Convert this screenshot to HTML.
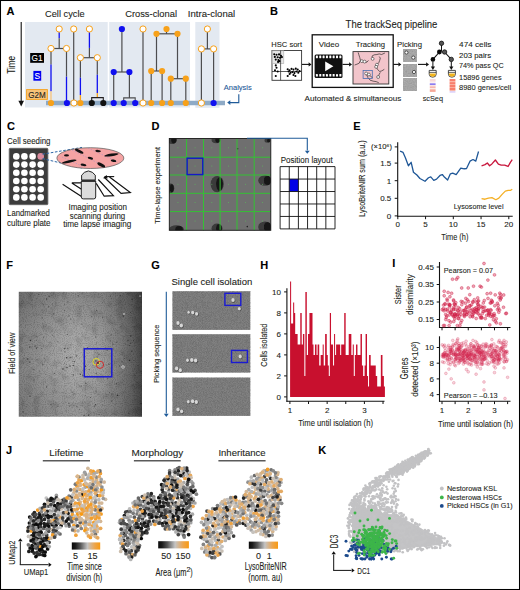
<!DOCTYPE html>
<html><head><meta charset="utf-8"><style>
html,body{margin:0;padding:0;background:#fff;}
body{width:520px;height:590px;overflow:hidden;}
svg{display:block;font-family:"Liberation Sans", sans-serif;}
text{stroke:currentColor;stroke-width:0.1px;paint-order:stroke;}
</style></head><body>
<svg width="520" height="590" viewBox="0 0 520 590">
<defs><filter id="noiseB" x="0" y="0" width="100%" height="100%" color-interpolation-filters="sRGB"><feTurbulence type="fractalNoise" baseFrequency="0.9" numOctaves="2" seed="4"/><feColorMatrix type="saturate" values="0"/><feComponentTransfer><feFuncR type="linear" slope="0.16" intercept="0.57"/><feFuncG type="linear" slope="0.16" intercept="0.57"/><feFuncB type="linear" slope="0.16" intercept="0.57"/><feFuncA type="linear" slope="0" intercept="1"/></feComponentTransfer></filter><clipPath id="clipD"><rect x="169.3" y="138.5" width="101.5" height="91.8"/></clipPath><filter id="blurD" x="-50%" y="-50%" width="200%" height="200%"><feGaussianBlur stdDeviation="0.7"/></filter><linearGradient id="gF" x1="0" y1="0" x2="1" y2="0"><stop offset="0" stop-color="#828282"/><stop offset="0.25" stop-color="#9a9a9a"/><stop offset="0.45" stop-color="#a6a6a6"/><stop offset="0.65" stop-color="#9c9c9c"/><stop offset="0.8" stop-color="#838383"/><stop offset="0.92" stop-color="#646464"/><stop offset="1" stop-color="#474747"/></linearGradient><linearGradient id="gF2" x1="0" y1="0" x2="0" y2="1"><stop offset="0" stop-color="#000" stop-opacity="0.17"/><stop offset="0.3" stop-color="#000" stop-opacity="0.03"/><stop offset="0.6" stop-color="#000" stop-opacity="0"/><stop offset="1" stop-color="#000" stop-opacity="0.1"/></linearGradient><radialGradient id="gF3" gradientUnits="userSpaceOnUse" cx="80" cy="355" r="40"><stop offset="0" stop-color="#fff" stop-opacity="0.1"/><stop offset="1" stop-color="#fff" stop-opacity="0"/></radialGradient><filter id="noiseF" x="0" y="0" width="100%" height="100%"><feTurbulence type="fractalNoise" baseFrequency="0.9" numOctaves="1" seed="7"/><feColorMatrix type="matrix" values="0 0 0 0 0  0 0 0 0 0  0 0 0 0 0  0 0 0 -1.6 0.9"/></filter><filter id="noiseF2" x="0" y="0" width="100%" height="100%"><feTurbulence type="fractalNoise" baseFrequency="0.12" numOctaves="2" seed="3"/><feColorMatrix type="matrix" values="0 0 0 0 0  0 0 0 0 0  0 0 0 0 0  0 0 0 -2.2 1.15"/></filter><clipPath id="clipF"><rect x="18.75" y="291.75" width="123.25" height="125"/></clipPath><filter id="noiseG" x="0" y="0" width="100%" height="100%"><feTurbulence type="fractalNoise" baseFrequency="1.2" numOctaves="1" seed="2"/><feColorMatrix type="matrix" values="0 0 0 0 0  0 0 0 0 0  0 0 0 0 0  0 0 0 -1.5 0.95"/></filter><linearGradient id="cbar" x1="0" y1="0" x2="1" y2="0"><stop offset="0" stop-color="#0a0a0a"/><stop offset="0.12" stop-color="#1a1a1a"/><stop offset="0.3" stop-color="#555"/><stop offset="0.45" stop-color="#999"/><stop offset="0.55" stop-color="#c4c4c4"/><stop offset="0.68" stop-color="#d8b48a"/><stop offset="0.82" stop-color="#eea447"/><stop offset="1" stop-color="#f89a12"/></linearGradient></defs>
<rect x="0" y="0" width="520" height="590" fill="#fff"/>
<text x="6.50" y="15.00" font-size="11" font-weight="bold" fill="#000" color="#000" >A</text>
<rect x="25.00" y="22.00" width="82.70" height="85.50" fill="#e3e9f1" />
<rect x="109.20" y="22.00" width="80.80" height="85.50" fill="#e3e9f1" />
<rect x="195.30" y="22.00" width="24.20" height="85.80" fill="#e3e9f1" />
<text x="45.00" y="17.30" font-size="9.5" fill="#231f20" color="#231f20" textLength="39.60" lengthAdjust="spacingAndGlyphs" >Cell cycle</text>
<text x="125.20" y="17.30" font-size="9.5" fill="#231f20" color="#231f20" textLength="51.80" lengthAdjust="spacingAndGlyphs" >Cross-clonal</text>
<text x="187.80" y="17.30" font-size="9.5" fill="#231f20" color="#231f20" textLength="47.40" lengthAdjust="spacingAndGlyphs" >Intra-clonal</text>
<line x1="21.20" y1="22.00" x2="21.20" y2="101.50" stroke="#111" stroke-width="1.1" />
<path d="M21.2,106.4 L18.4,100.8 L24.0,100.8 Z" fill="#111" />
<text x="15.50" y="64.90" font-size="10.5" text-anchor="middle" fill="#231f20" color="#231f20" textLength="17.75" lengthAdjust="spacingAndGlyphs" transform="rotate(-90 15.50 64.90)" >Time</text>
<rect x="30.20" y="53.00" width="13.80" height="9.80" fill="#000" />
<text x="37.10" y="61.30" font-size="9" text-anchor="middle" fill="#fff" color="#fff" textLength="11.00" lengthAdjust="spacingAndGlyphs" >G1</text>
<rect x="33.40" y="70.90" width="7.80" height="9.80" fill="#0000f0" />
<text x="37.30" y="79.10" font-size="9" text-anchor="middle" fill="#fff" color="#fff" textLength="5.60" lengthAdjust="spacingAndGlyphs" >S</text>
<rect x="26.60" y="89.60" width="20.80" height="9.80" fill="#f7c47a" stroke="#f7a11a" stroke-width="0.9" />
<text x="37.00" y="97.90" font-size="8.6" text-anchor="middle" fill="#231f20" color="#231f20" textLength="17.50" lengthAdjust="spacingAndGlyphs" >G2M</text>
<line x1="46.00" y1="103.00" x2="225.00" y2="103.00" stroke="#8eaac6" stroke-width="4.3" />
<text x="223.80" y="89.50" font-size="8" fill="#1f5b99" color="#1f5b99" textLength="28.00" lengthAdjust="spacingAndGlyphs" >Analysis</text>
<path d="M238.8,94.2 L238.8,102.6 L230,102.6" fill="none" stroke="#1f5b99" stroke-width="1.1" />
<path d="M227.2,102.6 L230.32,100.19999999999999 L230.32,105.0 Z" fill="#1f5b99" />
<line x1="59.20" y1="29.00" x2="59.20" y2="32.50" stroke="#4d4d4f" stroke-width="1.2" />
<line x1="59.20" y1="32.50" x2="59.20" y2="38.30" stroke="#1010f0" stroke-width="1.3" />
<line x1="59.20" y1="38.30" x2="59.20" y2="48.50" stroke="#4d4d4f" stroke-width="1.2" />
<line x1="51.00" y1="48.50" x2="66.50" y2="48.50" stroke="#4d4d4f" stroke-width="1.2" />
<line x1="51.00" y1="48.50" x2="51.00" y2="64.60" stroke="#4d4d4f" stroke-width="1.2" />
<line x1="51.00" y1="64.60" x2="51.00" y2="91.20" stroke="#1010f0" stroke-width="1.3" />
<line x1="51.00" y1="91.20" x2="51.00" y2="100.00" stroke="#f7c47a" stroke-width="1.3" />
<line x1="66.50" y1="48.50" x2="66.50" y2="76.70" stroke="#4d4d4f" stroke-width="1.2" />
<line x1="66.50" y1="76.70" x2="66.50" y2="100.80" stroke="#1010f0" stroke-width="1.3" />
<line x1="73.70" y1="29.00" x2="73.70" y2="103.00" stroke="#4d4d4f" stroke-width="1.2" />
<line x1="89.40" y1="29.00" x2="89.40" y2="32.50" stroke="#4d4d4f" stroke-width="1.2" />
<line x1="89.40" y1="32.50" x2="89.40" y2="47.90" stroke="#1010f0" stroke-width="1.3" />
<line x1="89.40" y1="47.90" x2="89.40" y2="57.70" stroke="#4d4d4f" stroke-width="1.2" />
<line x1="80.40" y1="57.70" x2="97.30" y2="57.70" stroke="#4d4d4f" stroke-width="1.2" />
<line x1="80.40" y1="57.70" x2="80.40" y2="77.70" stroke="#4d4d4f" stroke-width="1.2" />
<line x1="80.40" y1="77.70" x2="80.40" y2="95.00" stroke="#1010f0" stroke-width="1.3" />
<line x1="80.40" y1="95.00" x2="80.40" y2="100.80" stroke="#f7a11a" stroke-width="1.3" />
<line x1="97.30" y1="57.70" x2="97.30" y2="74.80" stroke="#4d4d4f" stroke-width="1.2" />
<line x1="97.30" y1="74.80" x2="97.30" y2="93.00" stroke="#1010f0" stroke-width="1.3" />
<line x1="97.30" y1="93.00" x2="97.30" y2="97.60" stroke="#f7a11a" stroke-width="1.3" />
<path d="M91.7,103 L91.7,97.6 L103.3,97.6 L103.3,103" fill="none" stroke="#231f20" stroke-width="1.1" />
<circle cx="59.20" cy="29.00" r="3.1" fill="#fff" stroke="#f7a11a" stroke-width="1.0" />
<circle cx="73.70" cy="29.00" r="3.1" fill="#fff" stroke="#f7a11a" stroke-width="1.0" />
<circle cx="89.40" cy="29.00" r="3.1" fill="#fff" stroke="#f7a11a" stroke-width="1.0" />
<circle cx="51.00" cy="48.50" r="3.1" fill="#fff" stroke="#f7a11a" stroke-width="1.0" />
<circle cx="66.50" cy="48.50" r="3.1" fill="#fff" stroke="#f7a11a" stroke-width="1.0" />
<circle cx="80.40" cy="57.70" r="3.1" fill="#fff" stroke="#f7a11a" stroke-width="1.0" />
<circle cx="97.30" cy="57.70" r="3.1" fill="#fff" stroke="#f7a11a" stroke-width="1.0" />
<circle cx="51.00" cy="103.00" r="3.1" fill="#f7a11a" />
<circle cx="66.90" cy="103.00" r="3.1" fill="#1010f0" />
<circle cx="73.90" cy="103.00" r="3.1" fill="#fff" stroke="#f7a11a" stroke-width="1.0" />
<circle cx="80.40" cy="103.00" r="3.1" fill="#f7a11a" />
<circle cx="91.80" cy="103.00" r="3.1" fill="#111111" />
<circle cx="103.30" cy="103.00" r="3.1" fill="#111111" />
<line x1="121.90" y1="29.00" x2="121.90" y2="72.00" stroke="#4d4d4f" stroke-width="1.2" />
<line x1="113.70" y1="72.00" x2="129.40" y2="72.00" stroke="#4d4d4f" stroke-width="1.2" />
<line x1="113.70" y1="72.00" x2="113.70" y2="103.00" stroke="#4d4d4f" stroke-width="1.2" />
<line x1="129.40" y1="72.00" x2="129.40" y2="97.90" stroke="#4d4d4f" stroke-width="1.2" />
<path d="M123.7,103 L123.7,97.9 L135.2,97.9 L135.2,103" fill="none" stroke="#4d4d4f" stroke-width="1.1" />
<circle cx="121.90" cy="29.00" r="3.1" fill="#1010f0" />
<circle cx="113.70" cy="72.00" r="3.1" fill="#1010f0" />
<circle cx="129.40" cy="72.00" r="3.1" fill="#1010f0" />
<circle cx="113.70" cy="103.00" r="3.1" fill="#1010f0" />
<circle cx="123.70" cy="103.00" r="3.1" fill="#1010f0" />
<circle cx="135.20" cy="103.00" r="3.1" fill="#1010f0" />
<line x1="143.00" y1="29.00" x2="143.00" y2="103.00" stroke="#4d4d4f" stroke-width="1.2" />
<circle cx="143.00" cy="29.00" r="3.1" fill="#fff" stroke="#f7a11a" stroke-width="1.0" />
<circle cx="143.00" cy="103.00" r="3.1" fill="#fff" stroke="#f7a11a" stroke-width="1.0" />
<line x1="166.50" y1="29.00" x2="166.50" y2="33.80" stroke="#4d4d4f" stroke-width="1.2" />
<line x1="156.50" y1="33.80" x2="177.50" y2="33.80" stroke="#4d4d4f" stroke-width="1.2" />
<line x1="156.50" y1="33.80" x2="156.50" y2="71.00" stroke="#4d4d4f" stroke-width="1.2" />
<line x1="151.20" y1="71.00" x2="162.10" y2="71.00" stroke="#4d4d4f" stroke-width="1.2" />
<line x1="151.20" y1="71.00" x2="151.20" y2="103.00" stroke="#4d4d4f" stroke-width="1.2" />
<line x1="162.10" y1="71.00" x2="162.10" y2="103.00" stroke="#4d4d4f" stroke-width="1.2" />
<line x1="177.50" y1="33.80" x2="177.50" y2="78.70" stroke="#4d4d4f" stroke-width="1.2" />
<line x1="170.80" y1="78.70" x2="185.80" y2="78.70" stroke="#4d4d4f" stroke-width="1.2" />
<line x1="170.80" y1="78.70" x2="170.80" y2="103.00" stroke="#4d4d4f" stroke-width="1.2" />
<line x1="185.80" y1="78.70" x2="185.80" y2="103.00" stroke="#4d4d4f" stroke-width="1.2" />
<circle cx="166.50" cy="29.00" r="3.1" fill="#f7a11a" />
<circle cx="156.50" cy="33.80" r="3.1" fill="#f7a11a" />
<circle cx="177.50" cy="33.80" r="3.1" fill="#f7a11a" />
<circle cx="151.20" cy="71.00" r="3.1" fill="#f7a11a" />
<circle cx="162.10" cy="71.00" r="3.1" fill="#f7a11a" />
<circle cx="170.80" cy="78.70" r="3.1" fill="#f7a11a" />
<circle cx="185.80" cy="78.70" r="3.1" fill="#f7a11a" />
<circle cx="151.20" cy="103.00" r="3.1" fill="#f7a11a" />
<circle cx="162.10" cy="103.00" r="3.1" fill="#f7a11a" />
<circle cx="170.80" cy="103.00" r="3.1" fill="#f7a11a" />
<circle cx="185.80" cy="103.00" r="3.1" fill="#f7a11a" />
<line x1="207.40" y1="29.00" x2="207.40" y2="48.90" stroke="#4d4d4f" stroke-width="1.2" />
<line x1="201.40" y1="48.90" x2="213.60" y2="48.90" stroke="#4d4d4f" stroke-width="1.2" />
<line x1="201.40" y1="48.90" x2="201.40" y2="103.00" stroke="#4d4d4f" stroke-width="1.2" />
<line x1="213.60" y1="48.90" x2="213.60" y2="103.00" stroke="#4d4d4f" stroke-width="1.2" />
<circle cx="207.40" cy="29.00" r="3.1" fill="#fff" stroke="#f7a11a" stroke-width="1.0" />
<circle cx="201.40" cy="48.90" r="3.1" fill="#fff" stroke="#f7a11a" stroke-width="1.0" />
<circle cx="213.60" cy="48.90" r="3.1" fill="#fff" stroke="#f7a11a" stroke-width="1.0" />
<circle cx="201.40" cy="103.00" r="3.1" fill="#fff" stroke="#f7a11a" stroke-width="1.0" />
<circle cx="213.60" cy="103.00" r="3.1" fill="#1010f0" />
<text x="270.00" y="15.00" font-size="11" font-weight="bold" fill="#000" color="#000" >B</text>
<text x="345.60" y="27.90" font-size="10" fill="#231f20" color="#231f20" textLength="91.70" lengthAdjust="spacingAndGlyphs" >The trackSeq pipeline</text>
<text x="271.30" y="46.50" font-size="8" fill="#231f20" color="#231f20" textLength="30.70" lengthAdjust="spacingAndGlyphs" >HSC sort</text>
<rect x="272.00" y="50.50" width="29.60" height="29.80" fill="#fff" stroke="#333" stroke-width="0.9" />
<rect x="272.30" y="50.80" width="11.50" height="12.70" fill="#e6e6e6" stroke="#aaa" stroke-width="0.6" />
<line x1="280.60" y1="50.50" x2="280.60" y2="80.30" stroke="#333" stroke-width="0.8" />
<line x1="272.00" y1="71.50" x2="301.60" y2="71.50" stroke="#333" stroke-width="0.8" />
<circle cx="274.23" cy="54.23" r="1.05" fill="#000" />
<circle cx="276.54" cy="54.81" r="1.05" fill="#000" />
<circle cx="279.04" cy="54.42" r="1.05" fill="#000" />
<circle cx="280.96" cy="55.77" r="1.05" fill="#000" />
<circle cx="274.81" cy="56.92" r="1.05" fill="#000" />
<circle cx="277.69" cy="57.31" r="1.05" fill="#000" />
<circle cx="280.00" cy="57.69" r="1.05" fill="#000" />
<circle cx="281.92" cy="57.12" r="1.05" fill="#000" />
<circle cx="275.77" cy="59.62" r="1.05" fill="#000" />
<circle cx="278.46" cy="60.00" r="1.05" fill="#000" />
<circle cx="278.08" cy="61.92" r="1.05" fill="#000" />
<circle cx="279.42" cy="61.15" r="1.05" fill="#000" />
<circle cx="275.77" cy="65.38" r="1.05" fill="#000" />
<circle cx="276.54" cy="67.69" r="1.05" fill="#000" />
<circle cx="275.00" cy="70.19" r="1.05" fill="#000" />
<circle cx="277.69" cy="71.54" r="1.05" fill="#000" />
<circle cx="275.77" cy="75.96" r="1.05" fill="#000" />
<circle cx="287.69" cy="69.23" r="1.05" fill="#000" />
<circle cx="289.62" cy="70.19" r="1.05" fill="#000" />
<circle cx="291.54" cy="68.85" r="1.05" fill="#000" />
<circle cx="293.46" cy="69.62" r="1.05" fill="#000" />
<circle cx="295.77" cy="68.65" r="1.05" fill="#000" />
<circle cx="297.69" cy="69.62" r="1.05" fill="#000" />
<circle cx="288.65" cy="71.54" r="1.05" fill="#000" />
<circle cx="290.58" cy="72.69" r="1.05" fill="#000" />
<circle cx="292.50" cy="72.12" r="1.05" fill="#000" />
<circle cx="294.42" cy="73.08" r="1.05" fill="#000" />
<circle cx="296.35" cy="71.54" r="1.05" fill="#000" />
<circle cx="298.27" cy="72.69" r="1.05" fill="#000" />
<circle cx="289.62" cy="74.04" r="1.05" fill="#000" />
<circle cx="293.46" cy="75.00" r="1.05" fill="#000" />
<circle cx="287.69" cy="75.96" r="1.05" fill="#000" />
<circle cx="295.38" cy="75.96" r="1.05" fill="#000" />
<circle cx="299.62" cy="71.15" r="1.05" fill="#000" />
<line x1="302.00" y1="64.40" x2="309.00" y2="64.40" stroke="#111" stroke-width="1.1" />
<path d="M311.5,64.4 L308.64,62.2 L308.64,66.60000000000001 Z" fill="#111" />
<rect x="312.20" y="34.80" width="81.00" height="52.60" fill="none" stroke="#111" stroke-width="1.3" />
<text x="318.80" y="46.50" font-size="8" fill="#231f20" color="#231f20" textLength="20.40" lengthAdjust="spacingAndGlyphs" >Video</text>
<rect x="314.60" y="54.40" width="27.90" height="23.50" fill="#111" rx="1.5"/>
<rect x="315.90" y="55.60" width="2.00" height="2.60" fill="#fff" rx="0.4"/>
<rect x="315.90" y="74.00" width="2.00" height="2.60" fill="#fff" rx="0.4"/>
<rect x="319.25" y="55.60" width="2.00" height="2.60" fill="#fff" rx="0.4"/>
<rect x="319.25" y="74.00" width="2.00" height="2.60" fill="#fff" rx="0.4"/>
<rect x="322.60" y="55.60" width="2.00" height="2.60" fill="#fff" rx="0.4"/>
<rect x="322.60" y="74.00" width="2.00" height="2.60" fill="#fff" rx="0.4"/>
<rect x="325.95" y="55.60" width="2.00" height="2.60" fill="#fff" rx="0.4"/>
<rect x="325.95" y="74.00" width="2.00" height="2.60" fill="#fff" rx="0.4"/>
<rect x="329.30" y="55.60" width="2.00" height="2.60" fill="#fff" rx="0.4"/>
<rect x="329.30" y="74.00" width="2.00" height="2.60" fill="#fff" rx="0.4"/>
<rect x="332.65" y="55.60" width="2.00" height="2.60" fill="#fff" rx="0.4"/>
<rect x="332.65" y="74.00" width="2.00" height="2.60" fill="#fff" rx="0.4"/>
<rect x="336.00" y="55.60" width="2.00" height="2.60" fill="#fff" rx="0.4"/>
<rect x="336.00" y="74.00" width="2.00" height="2.60" fill="#fff" rx="0.4"/>
<rect x="339.35" y="55.60" width="2.00" height="2.60" fill="#fff" rx="0.4"/>
<rect x="339.35" y="74.00" width="2.00" height="2.60" fill="#fff" rx="0.4"/>
<path d="M325.2,61.4 L325.2,71.2 L333.4,66.3 Z" fill="#fff" />
<line x1="342.50" y1="64.40" x2="349.50" y2="64.40" stroke="#111" stroke-width="1.1" />
<path d="M352,64.4 L349.14,62.2 L349.14,66.60000000000001 Z" fill="#111" />
<text x="355.80" y="46.50" font-size="8" fill="#231f20" color="#231f20" textLength="29.20" lengthAdjust="spacingAndGlyphs" >Tracking</text>
<rect x="353.00" y="51.60" width="35.80" height="32.40" fill="#f2c5cb" stroke="#333" stroke-width="0.9" />
<path d="M354.62,65.00 L356.92,64.23 L359.23,63.15 L360.46,60.38 L359.69,57.31 L358.77,54.54 L358.15,52.38" fill="none" stroke="#222" stroke-width="0.65" />
<path d="M364.62,61.62 L366.92,62.23 L368.46,60.38" fill="none" stroke="#222" stroke-width="0.65" />
<path d="M372.62,58.85 L372.00,56.08 L374.15,54.85 L376.92,54.54 L379.23,53.92 L381.54,54.54 L384.92,53.00" fill="none" stroke="#222" stroke-width="0.65" />
<path d="M376.92,64.69 L378.77,62.69 L379.69,60.38 L380.31,58.08 L379.23,56.54" fill="none" stroke="#222" stroke-width="0.65" />
<path d="M376.15,66.85 L377.69,69.62 L379.69,71.46 L381.85,70.85 L384.31,69.31" fill="none" stroke="#222" stroke-width="0.65" />
<path d="M366.15,73.46 L367.69,77.31 L370.00,80.08 L373.08,81.15 L376.15,81.62 L378.77,82.69" fill="none" stroke="#222" stroke-width="0.65" />
<path d="M368.92,74.54 L370.77,76.54 L372.62,77.62" fill="none" stroke="#222" stroke-width="0.65" />
<path d="M378.15,77.00 L379.23,74.23 L380.31,72.38" fill="none" stroke="#222" stroke-width="0.65" />
<circle cx="361.85" cy="61.15" r="1.45" fill="#fff" stroke="#222" stroke-width="0.55" />
<circle cx="364.62" cy="61.62" r="1.45" fill="#fff" stroke="#222" stroke-width="0.55" />
<circle cx="372.62" cy="58.85" r="1.45" fill="#fff" stroke="#222" stroke-width="0.55" />
<circle cx="376.92" cy="64.69" r="1.45" fill="#fff" stroke="#222" stroke-width="0.55" />
<circle cx="376.15" cy="66.85" r="1.45" fill="#fff" stroke="#222" stroke-width="0.55" />
<circle cx="366.15" cy="73.46" r="1.45" fill="#fff" stroke="#222" stroke-width="0.55" />
<circle cx="368.92" cy="74.54" r="1.45" fill="#fff" stroke="#222" stroke-width="0.55" />
<circle cx="378.15" cy="77.00" r="1.45" fill="#fff" stroke="#222" stroke-width="0.55" />
<rect x="363.10" y="70.40" width="9.20" height="8.10" fill="none" stroke="#4a6db0" stroke-width="0.8" />
<line x1="393.30" y1="64.40" x2="398.80" y2="64.40" stroke="#111" stroke-width="1.1" />
<path d="M401.3,64.4 L398.44,62.2 L398.44,66.60000000000001 Z" fill="#111" />
<text x="397.00" y="46.50" font-size="8" fill="#231f20" color="#231f20" textLength="25.00" lengthAdjust="spacingAndGlyphs" >Picking</text>
<rect x="403.10" y="49.30" width="13.00" height="12.50" fill="#a9a9a9" filter="url(#noiseB)"/>
<rect x="403.10" y="64.00" width="13.00" height="12.70" fill="#a9a9a9" filter="url(#noiseB)"/>
<rect x="403.10" y="78.00" width="13.00" height="12.90" fill="#a9a9a9" filter="url(#noiseB)"/>
<circle cx="406.40" cy="52.50" r="1.6" fill="#fff" stroke="#333" stroke-width="0.8" />
<circle cx="413.30" cy="57.60" r="1.6" fill="#fff" stroke="#333" stroke-width="0.8" />
<circle cx="414.00" cy="72.00" r="1.6" fill="#fff" stroke="#333" stroke-width="0.8" />
<line x1="418.00" y1="64.40" x2="426.50" y2="64.40" stroke="#111" stroke-width="1.1" />
<path d="M429,64.4 L426.14,62.2 L426.14,66.60000000000001 Z" fill="#111" />
<text x="422.70" y="101.00" font-size="8" fill="#231f20" color="#231f20" textLength="20.30" lengthAdjust="spacingAndGlyphs" >scSeq</text>
<text x="304.60" y="101.00" font-size="8" fill="#231f20" color="#231f20" textLength="96.70" lengthAdjust="spacingAndGlyphs" >Automated &amp; simultaneous</text>
<line x1="441.50" y1="43.30" x2="441.50" y2="51.50" stroke="#111" stroke-width="1.0" />
<line x1="439.50" y1="52.00" x2="432.90" y2="59.40" stroke="#111" stroke-width="1.1" />
<line x1="444.50" y1="52.00" x2="451.30" y2="59.40" stroke="#111" stroke-width="1.1" />
<circle cx="441.50" cy="43.30" r="2.2" fill="#555" stroke="#111" stroke-width="0.8" />
<circle cx="444.60" cy="52.00" r="2.2" fill="#555" stroke="#111" stroke-width="0.8" />
<circle cx="439.40" cy="52.00" r="2.4" fill="#0a0a0a" />
<circle cx="432.90" cy="59.40" r="2.3" fill="#0a0a0a" />
<circle cx="451.30" cy="59.40" r="2.2" fill="#555" stroke="#111" stroke-width="0.8" />
<line x1="432.90" y1="61.50" x2="432.90" y2="67.00" stroke="#111" stroke-width="1.0" />
<path d="M432.9,70.0 L430.79999999999995,66.6 L435.0,66.6 Z" fill="#111" />
<line x1="451.30" y1="61.50" x2="451.30" y2="67.00" stroke="#111" stroke-width="1.0" />
<path d="M451.3,70.0 L449.2,66.6 L453.40000000000003,66.6 Z" fill="#111" />
<path d="M429.2,70.4 L436.2,70.4 L436.2,74.2 Q436.2,77.2 432.7,77.2 Q429.2,77.2 429.2,74.2 Z" fill="#fff" stroke="#222" stroke-width="0.8" />
<path d="M429.7,73.6 L435.7,73.6 L435.7,74.3 Q435.59999999999997,76.7 432.7,76.7 Q429.8,76.7 429.7,74.3 Z" fill="#f2b51e" />
<line x1="429.20" y1="72.40" x2="436.20" y2="72.40" stroke="#222" stroke-width="0.7" />
<path d="M448.4,70.4 L455.4,70.4 L455.4,74.2 Q455.4,77.2 451.9,77.2 Q448.4,77.2 448.4,74.2 Z" fill="#fff" stroke="#222" stroke-width="0.8" />
<path d="M448.9,73.6 L454.9,73.6 L454.9,74.3 Q454.79999999999995,76.7 451.9,76.7 Q449.0,76.7 448.9,74.3 Z" fill="#f2b51e" />
<line x1="448.40" y1="72.40" x2="455.40" y2="72.40" stroke="#222" stroke-width="0.7" />
<rect x="429.80" y="79.00" width="5.80" height="2.80" fill="#f8dada" />
<rect x="429.80" y="81.80" width="5.80" height="1.50" fill="#fdf0f0" />
<rect x="429.80" y="83.30" width="5.80" height="1.80" fill="#8d7cf0" />
<rect x="429.80" y="85.10" width="5.80" height="1.20" fill="#f9e0e0" />
<rect x="429.80" y="86.30" width="5.80" height="1.80" fill="#f6b8b0" />
<rect x="429.80" y="88.10" width="5.80" height="1.20" fill="#fde8e4" />
<rect x="429.80" y="89.30" width="5.80" height="2.60" fill="#f7a898" />
<rect x="449.60" y="79.00" width="5.80" height="2.20" fill="#f87e6c" />
<rect x="449.60" y="81.20" width="5.80" height="0.90" fill="#f9a898" />
<rect x="449.60" y="82.10" width="5.80" height="2.00" fill="#f87e6c" />
<rect x="449.60" y="84.10" width="5.80" height="0.90" fill="#f9a898" />
<rect x="449.60" y="85.00" width="5.80" height="2.00" fill="#f87e6c" />
<rect x="449.60" y="87.00" width="5.80" height="0.90" fill="#f9a898" />
<rect x="449.60" y="87.90" width="5.80" height="2.20" fill="#f87e6c" />
<rect x="449.60" y="90.10" width="5.80" height="1.00" fill="#f9b0a0" />
<rect x="449.60" y="91.10" width="5.80" height="1.60" fill="#dcd0f8" />
<text x="459.10" y="47.10" font-size="8" fill="#231f20" color="#231f20" textLength="32.30" lengthAdjust="spacingAndGlyphs" >474 cells</text>
<text x="459.10" y="57.70" font-size="8" fill="#231f20" color="#231f20" textLength="32.00" lengthAdjust="spacingAndGlyphs" >203 pairs</text>
<text x="459.10" y="67.70" font-size="8" fill="#231f20" color="#231f20" textLength="44.50" lengthAdjust="spacingAndGlyphs" >74% pass QC</text>
<text x="459.10" y="80.40" font-size="8" fill="#231f20" color="#231f20" textLength="42.50" lengthAdjust="spacingAndGlyphs" >15896 genes</text>
<text x="459.10" y="90.40" font-size="8" fill="#231f20" color="#231f20" textLength="52.00" lengthAdjust="spacingAndGlyphs" >8980 genes/cell</text>
<text x="7.10" y="130.00" font-size="11" font-weight="bold" fill="#000" color="#000" >C</text>
<text x="7.10" y="144.00" font-size="8.6" fill="#231f20" color="#231f20" textLength="43.40" lengthAdjust="spacingAndGlyphs" >Cell seeding</text>
<rect x="9.20" y="148.30" width="38.70" height="56.40" fill="#3c3c3c" stroke="#666" stroke-width="0.8" rx="0.8"/>
<circle cx="16.30" cy="156.40" r="3.3" fill="#fff" />
<circle cx="24.40" cy="156.40" r="3.3" fill="#fff" />
<circle cx="32.60" cy="156.40" r="3.3" fill="#fff" />
<circle cx="40.70" cy="156.40" r="3.3" fill="#d98a9c" />
<circle cx="16.30" cy="164.60" r="3.3" fill="#fff" />
<circle cx="24.40" cy="164.60" r="3.3" fill="#fff" />
<circle cx="32.60" cy="164.60" r="3.3" fill="#fff" />
<circle cx="40.70" cy="164.60" r="3.3" fill="#fff" />
<circle cx="16.30" cy="172.80" r="3.3" fill="#fff" />
<circle cx="24.40" cy="172.80" r="3.3" fill="#fff" />
<circle cx="32.60" cy="172.80" r="3.3" fill="#fff" />
<circle cx="40.70" cy="172.80" r="3.3" fill="#fff" />
<circle cx="16.30" cy="181.00" r="3.3" fill="#fff" />
<circle cx="24.40" cy="181.00" r="3.3" fill="#fff" />
<circle cx="32.60" cy="181.00" r="3.3" fill="#fff" />
<circle cx="40.70" cy="181.00" r="3.3" fill="#fff" />
<circle cx="16.30" cy="189.20" r="3.3" fill="#fff" />
<circle cx="24.40" cy="189.20" r="3.3" fill="#fff" />
<circle cx="32.60" cy="189.20" r="3.3" fill="#fff" />
<circle cx="40.70" cy="189.20" r="3.3" fill="#fff" />
<circle cx="16.30" cy="197.40" r="3.3" fill="#fff" />
<circle cx="24.40" cy="197.40" r="3.3" fill="#fff" />
<circle cx="32.60" cy="197.40" r="3.3" fill="#fff" />
<circle cx="40.70" cy="197.40" r="3.3" fill="#fff" />
<text x="7.10" y="216.30" font-size="8.8" fill="#231f20" color="#231f20" textLength="42.80" lengthAdjust="spacingAndGlyphs" >Landmarked</text>
<text x="7.10" y="225.70" font-size="8.8" fill="#231f20" color="#231f20" textLength="43.40" lengthAdjust="spacingAndGlyphs" >culture plate</text>
<path d="M42.5,154.2 L82,147.4 M42.5,158.6 L82.7,168.2" fill="none" stroke="#2f68a8" stroke-width="1.0" stroke-dasharray="2.6,1.6"/>
<ellipse cx="90.35" cy="158.1" rx="33.5" ry="10.4" fill="#f5a3a3" stroke="#555" stroke-width="0.7"/>
<path d="M72,150 L104,166 M88,148 L118,162 M62,157 L84,167" fill="none" stroke="#7f8fcf" stroke-width="0.6" stroke-dasharray="1.5,1.5" opacity="0.7"/>
<ellipse cx="79.2" cy="151.2" rx="4.6" ry="1.4" fill="#111" transform="rotate(25 79.2 151.2)"/>
<ellipse cx="98.1" cy="151.1" rx="2.8" ry="1.2" fill="#111" transform="rotate(5 98.1 151.1)"/>
<ellipse cx="111.5" cy="154.9" rx="7.3" ry="1.3" fill="#111" transform="rotate(-9 111.5 154.9)"/>
<ellipse cx="66.5" cy="155.4" rx="2.5" ry="1.1" fill="#111" transform="rotate(0 66.5 155.4)"/>
<ellipse cx="90.4" cy="158.2" rx="2.8" ry="1.2" fill="#111" transform="rotate(15 90.4 158.2)"/>
<ellipse cx="69.2" cy="161.5" rx="7.5" ry="1.4" fill="#111" transform="rotate(-12 69.2 161.5)"/>
<ellipse cx="113.5" cy="160.8" rx="2.8" ry="1.2" fill="#111" transform="rotate(10 113.5 160.8)"/>
<ellipse cx="83.5" cy="164.9" rx="3.0" ry="1.2" fill="#111" transform="rotate(10 83.5 164.9)"/>
<ellipse cx="101.2" cy="164.9" rx="4.3" ry="1.5" fill="#111" transform="rotate(28 101.2 164.9)"/>
<path d="M62.6,184.2 L81.5,196.6 M71.8,182.9 L81.5,182.9 M71.8,182.9 L81.5,189.2" fill="none" stroke="#111" stroke-width="1.2" />
<path d="M96.2,183.4 L104.2,196.2 L113.4,195.7 L98.3,179.5 M104.2,177.2 L121.1,193.4 L130.3,192.6 L109.5,176.9" fill="none" stroke="#111" stroke-width="1.2" stroke-linejoin="miter"/>
<line x1="104.50" y1="176.60" x2="114.20" y2="176.60" stroke="#111" stroke-width="1.1" />
<path d="M103.0,178.3 L106.6,175.0 L107.6,178.6 Z" fill="#111" />
<path d="M81.6,180 L81.6,175.2 L84.5,172.3 Q88.4,169.6 92.3,172.3 L95.3,175.2 L95.3,180 Z" fill="#d8d8d8" stroke="#111" stroke-width="0.9" />
<path d="M81.3,181 L95.7,181 L95.7,197.0 Q95.7,198.9 93.7,198.9 L83.3,198.9 Q81.3,198.9 81.3,197.0 Z" fill="#dcdcdc" stroke="#111" stroke-width="0.9" />
<line x1="81.40" y1="181.00" x2="95.60" y2="181.00" stroke="#222" stroke-width="1.6" />
<text x="97.70" y="209.70" font-size="8.8" text-anchor="middle" fill="#231f20" color="#231f20" textLength="58.50" lengthAdjust="spacingAndGlyphs" >Imaging position</text>
<text x="97.50" y="218.50" font-size="8.8" text-anchor="middle" fill="#231f20" color="#231f20" textLength="55.50" lengthAdjust="spacingAndGlyphs" >scanning during</text>
<text x="97.20" y="227.20" font-size="8.8" text-anchor="middle" fill="#231f20" color="#231f20" textLength="68.10" lengthAdjust="spacingAndGlyphs" >time lapse imaging</text>
<text x="151.60" y="130.00" font-size="11" font-weight="bold" fill="#000" color="#000" >D</text>
<text x="159.70" y="185.30" font-size="7.5" text-anchor="middle" fill="#231f20" color="#231f20" textLength="76.80" lengthAdjust="spacingAndGlyphs" transform="rotate(-90 159.70 185.30)" >Time-lapse experiment</text>
<rect x="169.30" y="138.50" width="101.50" height="91.80" fill="#6f6f6f" />
<g clip-path="url(#clipD)">
<ellipse cx="172.0" cy="140.0" rx="5.0" ry="4.0" fill="#3a3a3a" filter="url(#blurD)"/>
<ellipse cx="173.75" cy="140.0" rx="2.50" ry="3.40" fill="#141414" filter="url(#blurD)"/>
<ellipse cx="216.0" cy="139.8" rx="4.5" ry="3.4" fill="#3a3a3a" filter="url(#blurD)"/>
<ellipse cx="217.57" cy="139.8" rx="2.25" ry="2.89" fill="#141414" filter="url(#blurD)"/>
<ellipse cx="217.2" cy="184.1" rx="6.6" ry="8.2" fill="#3a3a3a" filter="url(#blurD)"/>
<ellipse cx="219.51" cy="184.1" rx="3.30" ry="6.97" fill="#141414" filter="url(#blurD)"/>
<ellipse cx="170.5" cy="188.3" rx="3.8" ry="4.8" fill="#3a3a3a" filter="url(#blurD)"/>
<ellipse cx="171.83" cy="188.3" rx="1.90" ry="4.08" fill="#141414" filter="url(#blurD)"/>
<ellipse cx="176.4" cy="229.5" rx="7.5" ry="4.2" fill="#3a3a3a" filter="url(#blurD)"/>
<ellipse cx="179.03" cy="229.5" rx="3.75" ry="3.57" fill="#141414" filter="url(#blurD)"/>
<ellipse cx="217.0" cy="228.5" rx="5.5" ry="5.0" fill="#3a3a3a" filter="url(#blurD)"/>
<ellipse cx="218.93" cy="228.5" rx="2.75" ry="4.25" fill="#141414" filter="url(#blurD)"/>
<ellipse cx="265.0" cy="180.5" rx="6.8" ry="5.2" fill="#3a3a3a" filter="url(#blurD)"/>
<ellipse cx="267.38" cy="180.5" rx="3.40" ry="4.42" fill="#141414" filter="url(#blurD)"/>
<ellipse cx="265.0" cy="227.0" rx="6.8" ry="5.5" fill="#3a3a3a" filter="url(#blurD)"/>
<ellipse cx="267.38" cy="227.0" rx="3.40" ry="4.67" fill="#141414" filter="url(#blurD)"/>
<ellipse cx="267.5" cy="140.5" rx="3.0" ry="2.2" fill="#3a3a3a" filter="url(#blurD)"/>
<ellipse cx="268.55" cy="140.5" rx="1.50" ry="1.87" fill="#141414" filter="url(#blurD)"/>
<circle cx="237.60" cy="148.80" r="0.8" fill="#222" />
<circle cx="247.30" cy="226.60" r="0.8" fill="#222" />
</g>
<line x1="186.60" y1="138.50" x2="186.60" y2="230.30" stroke="#34c234" stroke-width="1.0" />
<line x1="203.50" y1="138.50" x2="203.50" y2="230.30" stroke="#34c234" stroke-width="1.0" />
<line x1="220.10" y1="138.50" x2="220.10" y2="230.30" stroke="#34c234" stroke-width="1.0" />
<line x1="237.00" y1="138.50" x2="237.00" y2="230.30" stroke="#34c234" stroke-width="1.0" />
<line x1="254.20" y1="138.50" x2="254.20" y2="230.30" stroke="#34c234" stroke-width="1.0" />
<line x1="169.30" y1="157.20" x2="270.80" y2="157.20" stroke="#34c234" stroke-width="1.0" />
<line x1="169.30" y1="175.00" x2="270.80" y2="175.00" stroke="#34c234" stroke-width="1.0" />
<line x1="169.30" y1="193.30" x2="270.80" y2="193.30" stroke="#34c234" stroke-width="1.0" />
<line x1="169.30" y1="211.60" x2="270.80" y2="211.60" stroke="#34c234" stroke-width="1.0" />
<circle cx="177.95" cy="147.85" r="0.5" fill="#5fb05f" />
<circle cx="177.95" cy="166.10" r="0.5" fill="#5fb05f" />
<circle cx="177.95" cy="184.15" r="0.5" fill="#5fb05f" />
<circle cx="177.95" cy="202.45" r="0.5" fill="#5fb05f" />
<circle cx="177.95" cy="220.95" r="0.5" fill="#5fb05f" />
<circle cx="195.05" cy="147.85" r="0.5" fill="#5fb05f" />
<circle cx="195.05" cy="166.10" r="0.5" fill="#5fb05f" />
<circle cx="195.05" cy="184.15" r="0.5" fill="#5fb05f" />
<circle cx="195.05" cy="202.45" r="0.5" fill="#5fb05f" />
<circle cx="195.05" cy="220.95" r="0.5" fill="#5fb05f" />
<circle cx="211.80" cy="147.85" r="0.5" fill="#5fb05f" />
<circle cx="211.80" cy="166.10" r="0.5" fill="#5fb05f" />
<circle cx="211.80" cy="184.15" r="0.5" fill="#5fb05f" />
<circle cx="211.80" cy="202.45" r="0.5" fill="#5fb05f" />
<circle cx="211.80" cy="220.95" r="0.5" fill="#5fb05f" />
<circle cx="228.55" cy="147.85" r="0.5" fill="#5fb05f" />
<circle cx="228.55" cy="166.10" r="0.5" fill="#5fb05f" />
<circle cx="228.55" cy="184.15" r="0.5" fill="#5fb05f" />
<circle cx="228.55" cy="202.45" r="0.5" fill="#5fb05f" />
<circle cx="228.55" cy="220.95" r="0.5" fill="#5fb05f" />
<circle cx="245.60" cy="147.85" r="0.5" fill="#5fb05f" />
<circle cx="245.60" cy="166.10" r="0.5" fill="#5fb05f" />
<circle cx="245.60" cy="184.15" r="0.5" fill="#5fb05f" />
<circle cx="245.60" cy="202.45" r="0.5" fill="#5fb05f" />
<circle cx="245.60" cy="220.95" r="0.5" fill="#5fb05f" />
<circle cx="262.50" cy="147.85" r="0.5" fill="#5fb05f" />
<circle cx="262.50" cy="166.10" r="0.5" fill="#5fb05f" />
<circle cx="262.50" cy="184.15" r="0.5" fill="#5fb05f" />
<circle cx="262.50" cy="202.45" r="0.5" fill="#5fb05f" />
<circle cx="262.50" cy="220.95" r="0.5" fill="#5fb05f" />
<rect x="169.30" y="138.50" width="101.50" height="91.80" fill="none" stroke="#1a1a1a" stroke-width="0.9" />
<rect x="187.10" y="158.20" width="15.70" height="16.40" fill="none" stroke="#1717c8" stroke-width="1.5" />
<path d="M247,138.2 L307.3,138.2 L307.3,150.5" fill="none" stroke="#1f5b99" stroke-width="1.1" />
<path d="M307.3,153.8 L304.90000000000003,150.68 L309.7,150.68 Z" fill="#1f5b99" />
<text x="280.80" y="162.60" font-size="8.5" fill="#231f20" color="#231f20" textLength="51.90" lengthAdjust="spacingAndGlyphs" >Position layout</text>
<rect x="289.25" y="179.06" width="9.15" height="12.46" fill="#0000e6" />
<line x1="280.10" y1="166.60" x2="280.10" y2="228.90" stroke="#111" stroke-width="0.9" />
<line x1="289.25" y1="166.60" x2="289.25" y2="228.90" stroke="#111" stroke-width="0.9" />
<line x1="298.40" y1="166.60" x2="298.40" y2="228.90" stroke="#111" stroke-width="0.9" />
<line x1="307.55" y1="166.60" x2="307.55" y2="228.90" stroke="#111" stroke-width="0.9" />
<line x1="316.70" y1="166.60" x2="316.70" y2="228.90" stroke="#111" stroke-width="0.9" />
<line x1="325.85" y1="166.60" x2="325.85" y2="228.90" stroke="#111" stroke-width="0.9" />
<line x1="335.00" y1="166.60" x2="335.00" y2="228.90" stroke="#111" stroke-width="0.9" />
<line x1="280.10" y1="166.60" x2="335.00" y2="166.60" stroke="#111" stroke-width="0.9" />
<line x1="280.10" y1="179.06" x2="335.00" y2="179.06" stroke="#111" stroke-width="0.9" />
<line x1="280.10" y1="191.52" x2="335.00" y2="191.52" stroke="#111" stroke-width="0.9" />
<line x1="280.10" y1="203.98" x2="335.00" y2="203.98" stroke="#111" stroke-width="0.9" />
<line x1="280.10" y1="216.44" x2="335.00" y2="216.44" stroke="#111" stroke-width="0.9" />
<line x1="280.10" y1="228.90" x2="335.00" y2="228.90" stroke="#111" stroke-width="0.9" />
<text x="353.20" y="130.00" font-size="11" font-weight="bold" fill="#000" color="#000" >E</text>
<line x1="397.70" y1="142.30" x2="397.70" y2="216.70" stroke="#111" stroke-width="1.1" />
<line x1="397.20" y1="216.20" x2="512.70" y2="216.20" stroke="#111" stroke-width="1.1" />
<line x1="394.70" y1="215.90" x2="397.70" y2="215.90" stroke="#111" stroke-width="1" />
<text x="391.30" y="218.80" font-size="8" text-anchor="end" fill="#231f20" color="#231f20" >0</text>
<line x1="394.70" y1="198.30" x2="397.70" y2="198.30" stroke="#111" stroke-width="1" />
<text x="391.30" y="201.20" font-size="8" text-anchor="end" fill="#231f20" color="#231f20" >0.5</text>
<line x1="394.70" y1="180.70" x2="397.70" y2="180.70" stroke="#111" stroke-width="1" />
<text x="391.30" y="183.60" font-size="8" text-anchor="end" fill="#231f20" color="#231f20" >1</text>
<line x1="394.70" y1="163.10" x2="397.70" y2="163.10" stroke="#111" stroke-width="1" />
<text x="391.30" y="166.00" font-size="8" text-anchor="end" fill="#231f20" color="#231f20" >1.5</text>
<line x1="394.70" y1="146.90" x2="397.70" y2="146.90" stroke="#111" stroke-width="1" />
<text x="392.00" y="149.40" font-size="7" text-anchor="end" fill="#231f20" color="#231f20" textLength="21.00" lengthAdjust="spacingAndGlyphs" >(×10⁶)</text>
<line x1="397.80" y1="216.20" x2="397.80" y2="219.20" stroke="#111" stroke-width="1" />
<text x="397.80" y="227.30" font-size="8" text-anchor="middle" fill="#231f20" color="#231f20" >0</text>
<line x1="425.55" y1="216.20" x2="425.55" y2="219.20" stroke="#111" stroke-width="1" />
<text x="425.55" y="227.30" font-size="8" text-anchor="middle" fill="#231f20" color="#231f20" >5</text>
<line x1="453.30" y1="216.20" x2="453.30" y2="219.20" stroke="#111" stroke-width="1" />
<text x="453.30" y="227.30" font-size="8" text-anchor="middle" fill="#231f20" color="#231f20" >10</text>
<line x1="481.05" y1="216.20" x2="481.05" y2="219.20" stroke="#111" stroke-width="1" />
<text x="481.05" y="227.30" font-size="8" text-anchor="middle" fill="#231f20" color="#231f20" >15</text>
<line x1="508.80" y1="216.20" x2="508.80" y2="219.20" stroke="#111" stroke-width="1" />
<text x="508.80" y="227.30" font-size="8" text-anchor="middle" fill="#231f20" color="#231f20" >20</text>
<text x="364.60" y="178.50" font-size="8.5" text-anchor="middle" fill="#231f20" color="#231f20" textLength="76.40" lengthAdjust="spacingAndGlyphs" transform="rotate(-90 364.60 178.50)" >LysoBriteNIR sum (a.u.)</text>
<text x="441.20" y="240.30" font-size="9.5" fill="#231f20" color="#231f20" textLength="27.20" lengthAdjust="spacingAndGlyphs" >Time (h)</text>
<text x="453.80" y="208.50" font-size="8" fill="#231f20" color="#231f20" textLength="49.70" lengthAdjust="spacingAndGlyphs" >Lysosome level</text>
<path d="M400.08,151.23 L403.08,152.39 L405.39,157.69 L408.39,165.77 L411.16,162.31 L413.46,172.23 L416.92,175.00 L419.92,178.47 L425.00,181.23 L428.46,177.77 L430.77,176.85 L433.77,180.31 L436.54,179.16 L440.00,175.47 L442.31,174.54 L444.62,177.31 L447.62,180.08 L450.39,173.85 L452.70,173.16 L456.16,174.54 L460.77,168.08 L464.24,168.77 L466.54,168.54 L470.01,161.16 L473.01,159.54 L475.78,161.16 L478.54,151.46" fill="none" stroke="#1f5797" stroke-width="1.3" stroke-linejoin="round"/>
<path d="M481.55,165.77 L485.01,164.62 L487.31,163.00 L489.62,165.77 L491.93,163.93 L495.39,160.00 L498.39,164.16 L501.16,165.08 L504.62,165.08 L508.09,166.46 L510.39,162.31 L512.24,159.54" fill="none" stroke="#c8163c" stroke-width="1.3" stroke-linejoin="round"/>
<path d="M481.55,198.54 L485.01,199.24 L488.47,198.08 L491.93,197.62 L495.85,199.70 L498.85,198.08 L502.32,194.16 L505.32,191.16 L508.09,190.47 L510.39,190.47 L512.24,189.31" fill="none" stroke="#f5b025" stroke-width="1.3" stroke-linejoin="round"/>
<text x="6.30" y="268.70" font-size="11" font-weight="bold" fill="#000" color="#000" >F</text>
<text x="14.70" y="353.20" font-size="9.8" text-anchor="middle" fill="#231f20" color="#231f20" textLength="41.00" lengthAdjust="spacingAndGlyphs" transform="rotate(-90 14.70 353.20)" >Field of view</text>
<rect x="18.75" y="291.75" width="123.25" height="125.00" fill="url(#gF)" />
<g clip-path="url(#clipF)">
<rect x="18.75" y="291.75" width="123.25" height="125.00" fill="url(#gF2)" />
<rect x="18.75" y="291.75" width="123.25" height="125.00" fill="url(#gF3)" />
<rect x="18.75" y="291.75" width="123.25" height="125.00" fill="#000" filter="url(#noiseF2)" opacity="0.16"/>
<rect x="18.75" y="291.75" width="123.25" height="125.00" fill="#000" filter="url(#noiseF)" opacity="0.3"/>
<circle cx="74.60" cy="361.60" r="0.7" fill="#222" opacity="0.58"/>
<circle cx="123.42" cy="316.11" r="0.7" fill="#222" opacity="0.66"/>
<circle cx="115.90" cy="304.33" r="0.55" fill="#222" opacity="0.42"/>
<circle cx="85.07" cy="402.27" r="0.4" fill="#222" opacity="0.65"/>
<circle cx="67.78" cy="348.47" r="0.5" fill="#222" opacity="0.66"/>
<circle cx="120.59" cy="300.52" r="0.4" fill="#222" opacity="0.45"/>
<circle cx="49.09" cy="296.45" r="0.7" fill="#222" opacity="0.51"/>
<circle cx="91.40" cy="316.77" r="0.5" fill="#222" opacity="0.67"/>
<circle cx="80.35" cy="374.23" r="0.7" fill="#222" opacity="0.68"/>
<circle cx="69.07" cy="360.56" r="0.4" fill="#222" opacity="0.70"/>
<circle cx="57.98" cy="321.00" r="0.55" fill="#222" opacity="0.36"/>
<circle cx="88.03" cy="306.03" r="0.4" fill="#222" opacity="0.77"/>
<circle cx="66.61" cy="410.59" r="0.4" fill="#222" opacity="0.46"/>
<circle cx="132.15" cy="299.19" r="0.7" fill="#222" opacity="0.84"/>
<circle cx="67.94" cy="301.73" r="0.5" fill="#222" opacity="0.74"/>
<circle cx="52.46" cy="303.47" r="0.55" fill="#222" opacity="0.36"/>
<circle cx="69.47" cy="406.26" r="0.5" fill="#222" opacity="0.47"/>
<circle cx="32.00" cy="300.12" r="0.7" fill="#222" opacity="0.44"/>
<circle cx="87.56" cy="347.78" r="0.5" fill="#222" opacity="0.84"/>
<circle cx="113.05" cy="344.32" r="0.7" fill="#222" opacity="0.41"/>
<circle cx="70.77" cy="318.93" r="0.55" fill="#222" opacity="0.78"/>
<circle cx="137.95" cy="365.66" r="0.4" fill="#222" opacity="0.46"/>
<circle cx="67.56" cy="397.84" r="0.4" fill="#222" opacity="0.37"/>
<circle cx="37.50" cy="347.06" r="0.4" fill="#222" opacity="0.74"/>
<circle cx="59.64" cy="329.20" r="0.4" fill="#222" opacity="0.39"/>
<circle cx="45.06" cy="371.05" r="0.4" fill="#222" opacity="0.65"/>
<circle cx="64.82" cy="348.49" r="0.7" fill="#222" opacity="0.77"/>
<circle cx="36.21" cy="340.24" r="0.5" fill="#222" opacity="0.51"/>
<circle cx="47.44" cy="367.83" r="0.5" fill="#222" opacity="0.43"/>
<circle cx="96.01" cy="360.88" r="0.7" fill="#222" opacity="0.79"/>
<circle cx="92.93" cy="344.59" r="0.4" fill="#222" opacity="0.40"/>
<circle cx="81.87" cy="324.14" r="0.7" fill="#222" opacity="0.48"/>
<circle cx="119.63" cy="366.12" r="0.55" fill="#222" opacity="0.61"/>
<circle cx="132.42" cy="412.94" r="0.5" fill="#222" opacity="0.46"/>
<circle cx="87.57" cy="397.60" r="0.4" fill="#222" opacity="0.49"/>
<circle cx="130.98" cy="317.84" r="0.4" fill="#222" opacity="0.38"/>
<circle cx="69.64" cy="323.38" r="0.4" fill="#222" opacity="0.44"/>
<circle cx="64.47" cy="363.13" r="0.5" fill="#222" opacity="0.40"/>
<circle cx="36.53" cy="348.14" r="0.55" fill="#222" opacity="0.68"/>
<circle cx="103.56" cy="364.64" r="0.5" fill="#222" opacity="0.64"/>
<circle cx="131.73" cy="351.15" r="0.55" fill="#222" opacity="0.70"/>
<circle cx="136.49" cy="295.36" r="0.4" fill="#222" opacity="0.59"/>
<circle cx="108.32" cy="331.98" r="0.4" fill="#222" opacity="0.39"/>
<circle cx="85.96" cy="383.40" r="0.5" fill="#222" opacity="0.75"/>
<circle cx="130.69" cy="336.03" r="0.7" fill="#222" opacity="0.80"/>
<circle cx="125.37" cy="344.06" r="0.4" fill="#222" opacity="0.78"/>
<circle cx="89.20" cy="369.62" r="0.7" fill="#222" opacity="0.54"/>
<circle cx="21.26" cy="301.64" r="0.4" fill="#222" opacity="0.67"/>
<circle cx="140.19" cy="400.96" r="0.55" fill="#222" opacity="0.54"/>
<circle cx="108.87" cy="364.21" r="0.7" fill="#222" opacity="0.58"/>
<circle cx="85.38" cy="356.55" r="0.4" fill="#222" opacity="0.51"/>
<circle cx="30.39" cy="295.49" r="0.4" fill="#222" opacity="0.60"/>
<circle cx="94.26" cy="405.97" r="0.55" fill="#222" opacity="0.80"/>
<circle cx="64.36" cy="310.37" r="0.5" fill="#222" opacity="0.61"/>
<circle cx="111.14" cy="334.88" r="0.7" fill="#222" opacity="0.60"/>
<circle cx="49.03" cy="342.54" r="0.55" fill="#222" opacity="0.45"/>
<circle cx="72.00" cy="391.89" r="0.5" fill="#222" opacity="0.79"/>
<circle cx="66.36" cy="364.47" r="0.55" fill="#222" opacity="0.45"/>
<circle cx="36.06" cy="335.89" r="0.4" fill="#222" opacity="0.71"/>
<circle cx="134.94" cy="326.80" r="0.5" fill="#222" opacity="0.41"/>
<circle cx="76.90" cy="406.62" r="0.7" fill="#222" opacity="0.54"/>
<circle cx="82.80" cy="375.42" r="0.7" fill="#222" opacity="0.51"/>
<circle cx="120.23" cy="326.96" r="0.4" fill="#222" opacity="0.69"/>
<circle cx="53.83" cy="336.32" r="0.4" fill="#222" opacity="0.67"/>
<circle cx="68.88" cy="316.11" r="0.55" fill="#222" opacity="0.47"/>
<circle cx="36.83" cy="298.52" r="0.4" fill="#222" opacity="0.57"/>
<circle cx="96.13" cy="373.32" r="0.55" fill="#222" opacity="0.83"/>
<circle cx="102.74" cy="317.27" r="0.7" fill="#222" opacity="0.48"/>
<circle cx="106.35" cy="385.62" r="0.4" fill="#222" opacity="0.44"/>
<circle cx="52.77" cy="335.28" r="0.5" fill="#222" opacity="0.55"/>
<circle cx="115.77" cy="404.22" r="0.4" fill="#222" opacity="0.56"/>
<circle cx="127.98" cy="340.47" r="0.7" fill="#222" opacity="0.58"/>
<circle cx="95.60" cy="404.68" r="0.7" fill="#222" opacity="0.63"/>
<circle cx="98.89" cy="354.58" r="0.55" fill="#222" opacity="0.58"/>
<circle cx="98.72" cy="317.95" r="0.4" fill="#222" opacity="0.46"/>
<circle cx="128.87" cy="413.35" r="0.55" fill="#222" opacity="0.62"/>
<circle cx="115.63" cy="332.16" r="0.4" fill="#222" opacity="0.52"/>
<circle cx="29.79" cy="346.98" r="0.7" fill="#222" opacity="0.73"/>
<circle cx="78.85" cy="296.24" r="0.4" fill="#222" opacity="0.56"/>
<circle cx="24.01" cy="358.32" r="0.5" fill="#222" opacity="0.59"/>
<circle cx="140.98" cy="403.52" r="0.7" fill="#222" opacity="0.82"/>
<circle cx="79.48" cy="409.50" r="0.4" fill="#222" opacity="0.73"/>
<circle cx="73.03" cy="361.48" r="0.5" fill="#222" opacity="0.61"/>
<circle cx="122.04" cy="361.63" r="0.55" fill="#222" opacity="0.69"/>
<circle cx="135.52" cy="399.77" r="0.5" fill="#222" opacity="0.50"/>
<circle cx="36.86" cy="359.75" r="0.55" fill="#222" opacity="0.64"/>
<circle cx="44.12" cy="358.67" r="0.4" fill="#222" opacity="0.65"/>
<circle cx="23.12" cy="411.99" r="0.7" fill="#222" opacity="0.62"/>
<circle cx="139.71" cy="307.75" r="0.4" fill="#222" opacity="0.70"/>
<circle cx="27.74" cy="359.01" r="0.7" fill="#222" opacity="0.81"/>
<circle cx="116.80" cy="342.46" r="0.5" fill="#222" opacity="0.59"/>
<circle cx="35.14" cy="346.09" r="0.7" fill="#222" opacity="0.61"/>
<circle cx="32.92" cy="344.35" r="0.4" fill="#222" opacity="0.81"/>
<circle cx="35.45" cy="388.60" r="0.4" fill="#222" opacity="0.37"/>
<circle cx="38.61" cy="294.21" r="0.55" fill="#222" opacity="0.51"/>
<circle cx="62.84" cy="368.98" r="0.4" fill="#222" opacity="0.60"/>
<circle cx="90.35" cy="397.54" r="0.55" fill="#222" opacity="0.71"/>
<circle cx="104.79" cy="400.83" r="0.4" fill="#222" opacity="0.54"/>
<circle cx="69.87" cy="357.86" r="0.5" fill="#222" opacity="0.62"/>
<circle cx="124.49" cy="358.43" r="0.5" fill="#222" opacity="0.61"/>
<circle cx="122.97" cy="367.99" r="0.5" fill="#222" opacity="0.47"/>
<circle cx="109.57" cy="392.44" r="0.5" fill="#222" opacity="0.51"/>
<circle cx="57.94" cy="406.25" r="0.5" fill="#222" opacity="0.74"/>
<circle cx="43.34" cy="304.66" r="0.5" fill="#222" opacity="0.42"/>
<circle cx="30.44" cy="340.46" r="0.7" fill="#222" opacity="0.77"/>
<circle cx="70.87" cy="389.91" r="0.5" fill="#222" opacity="0.45"/>
<circle cx="95.89" cy="391.01" r="0.4" fill="#222" opacity="0.45"/>
<circle cx="102.49" cy="404.85" r="0.55" fill="#222" opacity="0.41"/>
<circle cx="81.06" cy="386.00" r="0.5" fill="#222" opacity="0.75"/>
<circle cx="78.20" cy="295.74" r="0.7" fill="#222" opacity="0.42"/>
<circle cx="42.13" cy="317.83" r="0.5" fill="#222" opacity="0.85"/>
<circle cx="132.14" cy="304.47" r="0.4" fill="#222" opacity="0.42"/>
<circle cx="102.32" cy="302.30" r="0.4" fill="#222" opacity="0.51"/>
<circle cx="76.37" cy="356.13" r="0.7" fill="#222" opacity="0.46"/>
<circle cx="64.99" cy="370.73" r="0.4" fill="#222" opacity="0.77"/>
<circle cx="41.73" cy="348.59" r="0.55" fill="#222" opacity="0.55"/>
<circle cx="43.41" cy="313.05" r="0.4" fill="#222" opacity="0.51"/>
<circle cx="30.04" cy="396.30" r="0.7" fill="#222" opacity="0.63"/>
<circle cx="42.90" cy="364.66" r="0.55" fill="#222" opacity="0.75"/>
<circle cx="51.06" cy="404.84" r="0.5" fill="#222" opacity="0.76"/>
<circle cx="68.93" cy="403.03" r="0.55" fill="#222" opacity="0.73"/>
<circle cx="112.53" cy="342.66" r="0.5" fill="#222" opacity="0.39"/>
<circle cx="61.18" cy="350.42" r="0.4" fill="#222" opacity="0.79"/>
<circle cx="139.86" cy="403.78" r="0.4" fill="#222" opacity="0.47"/>
<circle cx="134.29" cy="374.68" r="0.55" fill="#222" opacity="0.46"/>
<circle cx="68.99" cy="315.13" r="0.4" fill="#222" opacity="0.54"/>
<circle cx="140.99" cy="371.75" r="0.4" fill="#222" opacity="0.73"/>
<circle cx="138.59" cy="295.56" r="0.4" fill="#222" opacity="0.72"/>
<circle cx="50.87" cy="342.14" r="0.4" fill="#222" opacity="0.73"/>
<circle cx="98.32" cy="294.08" r="0.55" fill="#222" opacity="0.48"/>
<circle cx="129.56" cy="360.41" r="0.7" fill="#222" opacity="0.83"/>
<circle cx="88.62" cy="415.15" r="0.7" fill="#222" opacity="0.75"/>
<circle cx="28.99" cy="366.25" r="0.4" fill="#222" opacity="0.54"/>
<circle cx="133.56" cy="340.22" r="0.5" fill="#222" opacity="0.78"/>
<circle cx="85.46" cy="366.13" r="0.7" fill="#222" opacity="0.82"/>
<circle cx="70.76" cy="357.54" r="0.55" fill="#222" opacity="0.53"/>
<circle cx="54.40" cy="373.33" r="0.55" fill="#222" opacity="0.68"/>
<circle cx="110.41" cy="296.05" r="0.5" fill="#222" opacity="0.64"/>
<circle cx="96.50" cy="343.03" r="0.7" fill="#222" opacity="0.38"/>
<circle cx="57.96" cy="341.68" r="0.55" fill="#222" opacity="0.39"/>
<circle cx="129.55" cy="345.58" r="0.7" fill="#222" opacity="0.48"/>
<circle cx="111.35" cy="298.34" r="0.4" fill="#222" opacity="0.82"/>
<circle cx="107.38" cy="350.36" r="0.5" fill="#222" opacity="0.65"/>
<circle cx="33.71" cy="369.53" r="0.7" fill="#222" opacity="0.41"/>
<circle cx="124.16" cy="336.62" r="0.5" fill="#222" opacity="0.41"/>
<circle cx="73.45" cy="374.90" r="0.7" fill="#222" opacity="0.65"/>
<circle cx="97.30" cy="376.64" r="0.55" fill="#222" opacity="0.74"/>
<circle cx="84.11" cy="415.46" r="0.55" fill="#222" opacity="0.72"/>
<circle cx="48.66" cy="306.76" r="0.55" fill="#222" opacity="0.74"/>
<circle cx="95.53" cy="336.93" r="0.55" fill="#222" opacity="0.65"/>
<circle cx="107.67" cy="378.73" r="0.5" fill="#222" opacity="0.67"/>
<circle cx="111.09" cy="316.10" r="0.5" fill="#222" opacity="0.60"/>
<circle cx="98.92" cy="316.86" r="0.4" fill="#222" opacity="0.66"/>
<circle cx="20.90" cy="324.67" r="0.4" fill="#222" opacity="0.66"/>
<circle cx="32.17" cy="359.37" r="0.4" fill="#222" opacity="0.73"/>
<circle cx="130.44" cy="312.54" r="0.5" fill="#222" opacity="0.67"/>
<circle cx="65.00" cy="351.61" r="0.5" fill="#222" opacity="0.52"/>
<circle cx="79.70" cy="309.15" r="0.4" fill="#222" opacity="0.75"/>
<circle cx="73.99" cy="393.86" r="0.5" fill="#222" opacity="0.57"/>
<circle cx="110.36" cy="340.74" r="0.5" fill="#222" opacity="0.53"/>
<circle cx="99.01" cy="414.42" r="0.55" fill="#222" opacity="0.50"/>
<circle cx="111.78" cy="394.37" r="0.5" fill="#222" opacity="0.56"/>
<circle cx="64.52" cy="304.68" r="0.55" fill="#222" opacity="0.39"/>
<circle cx="29.82" cy="362.15" r="0.7" fill="#222" opacity="0.76"/>
<circle cx="75.95" cy="394.04" r="0.4" fill="#222" opacity="0.39"/>
<circle cx="45.61" cy="374.19" r="0.4" fill="#222" opacity="0.70"/>
<circle cx="79.74" cy="386.74" r="0.55" fill="#222" opacity="0.49"/>
<circle cx="37.08" cy="336.76" r="0.55" fill="#222" opacity="0.53"/>
<circle cx="33.98" cy="379.99" r="0.55" fill="#222" opacity="0.57"/>
<circle cx="117.12" cy="330.24" r="0.55" fill="#222" opacity="0.46"/>
<circle cx="137.09" cy="382.51" r="0.5" fill="#222" opacity="0.39"/>
<circle cx="120.21" cy="295.72" r="0.7" fill="#222" opacity="0.64"/>
<circle cx="116.28" cy="383.63" r="0.55" fill="#222" opacity="0.75"/>
<circle cx="85.29" cy="395.62" r="0.5" fill="#222" opacity="0.44"/>
<circle cx="111.77" cy="401.10" r="0.55" fill="#222" opacity="0.76"/>
<circle cx="46.58" cy="299.85" r="0.5" fill="#222" opacity="0.63"/>
<circle cx="136.93" cy="372.85" r="0.7" fill="#222" opacity="0.38"/>
<circle cx="86.05" cy="389.68" r="0.4" fill="#222" opacity="0.52"/>
<circle cx="52.93" cy="305.71" r="0.55" fill="#222" opacity="0.39"/>
<circle cx="96.64" cy="310.45" r="0.7" fill="#222" opacity="0.47"/>
<circle cx="46.48" cy="386.89" r="0.55" fill="#222" opacity="0.73"/>
<circle cx="67.57" cy="334.30" r="0.55" fill="#222" opacity="0.69"/>
<circle cx="79.61" cy="358.84" r="0.4" fill="#222" opacity="0.70"/>
<circle cx="130.69" cy="343.25" r="0.55" fill="#222" opacity="0.78"/>
<circle cx="117.47" cy="395.31" r="0.7" fill="#222" opacity="0.83"/>
<circle cx="97.38" cy="357.18" r="0.4" fill="#222" opacity="0.75"/>
<circle cx="70.87" cy="344.47" r="0.5" fill="#222" opacity="0.47"/>
<circle cx="39.42" cy="370.88" r="0.5" fill="#222" opacity="0.51"/>
<circle cx="66.96" cy="357.83" r="0.55" fill="#222" opacity="0.83"/>
<circle cx="26.93" cy="330.69" r="0.4" fill="#222" opacity="0.50"/>
<circle cx="38.61" cy="405.88" r="0.4" fill="#222" opacity="0.73"/>
<circle cx="21.83" cy="351.92" r="0.4" fill="#222" opacity="0.51"/>
<circle cx="43.71" cy="336.95" r="0.5" fill="#222" opacity="0.65"/>
<circle cx="76.97" cy="355.31" r="0.7" fill="#222" opacity="0.44"/>
<circle cx="53.83" cy="313.97" r="0.55" fill="#222" opacity="0.66"/>
<circle cx="133.97" cy="360.45" r="0.55" fill="#222" opacity="0.59"/>
<circle cx="68.57" cy="410.30" r="0.4" fill="#222" opacity="0.59"/>
<circle cx="46.55" cy="298.86" r="0.5" fill="#222" opacity="0.75"/>
<circle cx="66.43" cy="357.64" r="0.55" fill="#222" opacity="0.74"/>
<circle cx="26.77" cy="406.43" r="0.4" fill="#222" opacity="0.79"/>
<circle cx="67.00" cy="367.50" r="0.8" fill="#3a3a3a" opacity="0.8"/>
<circle cx="70.00" cy="366.00" r="0.8" fill="#3a3a3a" opacity="0.8"/>
<circle cx="73.50" cy="365.50" r="0.8" fill="#3a3a3a" opacity="0.8"/>
<circle cx="63.00" cy="369.00" r="0.8" fill="#3a3a3a" opacity="0.8"/>
<circle cx="123.00" cy="367.00" r="1.3" fill="none" stroke="#eee" stroke-width="0.6" />
<circle cx="124.00" cy="314.00" r="0.7" fill="#fff" />
<circle cx="140.00" cy="296.00" r="0.6" fill="#fff" />
</g>
<rect x="84.30" y="348.80" width="27.50" height="28.00" fill="none" stroke="#1a1ad2" stroke-width="1.5" />
<circle cx="96.30" cy="361.80" r="3.4" fill="none" stroke="#e8e020" stroke-width="0.9" />
<circle cx="100.00" cy="364.80" r="3.6" fill="none" stroke="#d82020" stroke-width="0.9" />
<circle cx="98.00" cy="363.00" r="1.0" fill="#553333" />
<text x="151.30" y="268.50" font-size="11" font-weight="bold" fill="#000" color="#000" >G</text>
<text x="171.50" y="285.40" font-size="9.5" fill="#231f20" color="#231f20" textLength="80.80" lengthAdjust="spacingAndGlyphs" >Single cell isolation</text>
<text x="158.90" y="353.70" font-size="7.5" text-anchor="middle" fill="#231f20" color="#231f20" textLength="58.30" lengthAdjust="spacingAndGlyphs" transform="rotate(-90 158.90 353.70)" >Picking sequence</text>
<line x1="166.30" y1="291.80" x2="166.30" y2="413.50" stroke="#1f5b99" stroke-width="1.1" />
<path d="M166.3,416.9 L163.9,413.78 L168.70000000000002,413.78 Z" fill="#1f5b99" />
<rect x="172.40" y="291.20" width="77.90" height="38.70" fill="#818181" />
<rect x="172.40" y="291.20" width="77.90" height="38.70" fill="#000" filter="url(#noiseG)" opacity="0.26"/>
<ellipse cx="189.10" cy="312.80" rx="1.45" ry="1.70" fill="#4a4a4a" opacity="0.85"/>
<ellipse cx="188.60" cy="312.20" rx="1.20" ry="1.50" fill="#d6d6d6"/>
<ellipse cx="193.20" cy="313.20" rx="1.85" ry="2.10" fill="#4a4a4a" opacity="0.85"/>
<ellipse cx="192.70" cy="312.60" rx="1.60" ry="1.90" fill="#d6d6d6"/>
<ellipse cx="197.10" cy="314.40" rx="1.85" ry="2.10" fill="#4a4a4a" opacity="0.85"/>
<ellipse cx="196.60" cy="313.80" rx="1.60" ry="1.90" fill="#d6d6d6"/>
<ellipse cx="178.50" cy="323.50" rx="1.95" ry="2.20" fill="#4a4a4a" opacity="0.85"/>
<ellipse cx="178.00" cy="322.90" rx="1.70" ry="2.00" fill="#d6d6d6"/>
<ellipse cx="181.80" cy="326.20" rx="1.95" ry="2.20" fill="#4a4a4a" opacity="0.85"/>
<ellipse cx="181.30" cy="325.60" rx="1.70" ry="2.00" fill="#d6d6d6"/>
<ellipse cx="233.50" cy="300.70" rx="1.95" ry="2.20" fill="#4a4a4a" opacity="0.85"/>
<ellipse cx="233.00" cy="300.10" rx="1.70" ry="2.00" fill="#d6d6d6"/>
<ellipse cx="239.80" cy="309.30" rx="1.75" ry="2.00" fill="#4a4a4a" opacity="0.85"/>
<ellipse cx="239.30" cy="308.70" rx="1.50" ry="1.80" fill="#d6d6d6"/>
<rect x="172.40" y="334.20" width="77.90" height="38.40" fill="#818181" />
<rect x="172.40" y="334.20" width="77.90" height="38.40" fill="#000" filter="url(#noiseG)" opacity="0.26"/>
<ellipse cx="188.00" cy="360.80" rx="1.65" ry="1.90" fill="#4a4a4a" opacity="0.85"/>
<ellipse cx="187.50" cy="360.20" rx="1.40" ry="1.70" fill="#d6d6d6"/>
<ellipse cx="192.30" cy="360.60" rx="2.05" ry="2.30" fill="#4a4a4a" opacity="0.85"/>
<ellipse cx="191.80" cy="360.00" rx="1.80" ry="2.10" fill="#d6d6d6"/>
<ellipse cx="196.10" cy="361.20" rx="1.95" ry="2.20" fill="#4a4a4a" opacity="0.85"/>
<ellipse cx="195.60" cy="360.60" rx="1.70" ry="2.00" fill="#d6d6d6"/>
<ellipse cx="177.10" cy="369.20" rx="1.95" ry="2.20" fill="#4a4a4a" opacity="0.85"/>
<ellipse cx="176.60" cy="368.60" rx="1.70" ry="2.00" fill="#d6d6d6"/>
<ellipse cx="180.80" cy="370.80" rx="1.85" ry="2.10" fill="#4a4a4a" opacity="0.85"/>
<ellipse cx="180.30" cy="370.20" rx="1.60" ry="1.90" fill="#d6d6d6"/>
<ellipse cx="240.70" cy="357.10" rx="1.85" ry="2.10" fill="#4a4a4a" opacity="0.85"/>
<ellipse cx="240.20" cy="356.50" rx="1.60" ry="1.90" fill="#d6d6d6"/>
<rect x="172.40" y="377.50" width="77.90" height="38.40" fill="#818181" />
<rect x="172.40" y="377.50" width="77.90" height="38.40" fill="#000" filter="url(#noiseG)" opacity="0.26"/>
<ellipse cx="188.80" cy="402.30" rx="1.65" ry="1.90" fill="#4a4a4a" opacity="0.85"/>
<ellipse cx="188.30" cy="401.70" rx="1.40" ry="1.70" fill="#d6d6d6"/>
<ellipse cx="193.10" cy="401.80" rx="1.95" ry="2.20" fill="#4a4a4a" opacity="0.85"/>
<ellipse cx="192.60" cy="401.20" rx="1.70" ry="2.00" fill="#d6d6d6"/>
<ellipse cx="196.80" cy="402.60" rx="1.95" ry="2.20" fill="#4a4a4a" opacity="0.85"/>
<ellipse cx="196.30" cy="402.00" rx="1.70" ry="2.00" fill="#d6d6d6"/>
<ellipse cx="178.50" cy="410.10" rx="1.95" ry="2.20" fill="#4a4a4a" opacity="0.85"/>
<ellipse cx="178.00" cy="409.50" rx="1.70" ry="2.00" fill="#d6d6d6"/>
<ellipse cx="182.10" cy="411.90" rx="1.85" ry="2.10" fill="#4a4a4a" opacity="0.85"/>
<ellipse cx="181.60" cy="411.30" rx="1.60" ry="1.90" fill="#d6d6d6"/>
<rect x="224.90" y="293.30" width="15.90" height="12.10" fill="none" stroke="#1a1ad2" stroke-width="1.4" />
<rect x="231.50" y="350.40" width="15.90" height="12.10" fill="none" stroke="#1a1ad2" stroke-width="1.4" />
<text x="260.20" y="269.00" font-size="11" font-weight="bold" fill="#000" color="#000" >H</text>
<path d="M290.09,396.90 L290.09,281.40 L291.11,281.40 L291.11,323.40 L293.15,323.40 L293.15,302.40 L294.17,302.40 L294.17,312.90 L295.19,312.90 L295.19,333.90 L297.63,333.90 L297.63,344.40 L300.28,344.40 L300.28,312.90 L301.70,312.90 L301.70,344.40 L302.93,344.40 L302.93,333.90 L304.35,333.90 L304.35,375.90 L305.37,375.90 L305.37,291.90 L306.80,291.90 L306.80,354.90 L308.02,354.90 L308.02,333.90 L309.44,333.90 L309.44,312.90 L312.50,312.90 L312.50,344.40 L313.52,344.40 L313.52,354.90 L314.94,354.90 L314.94,344.40 L316.57,344.40 L316.57,354.90 L317.59,354.90 L317.59,344.40 L319.22,344.40 L319.22,365.40 L320.65,365.40 L320.65,354.90 L322.69,354.90 L322.69,344.40 L323.70,344.40 L323.70,365.40 L325.13,365.40 L325.13,333.90 L326.76,333.90 L326.76,354.90 L327.78,354.90 L327.78,365.40 L328.80,365.40 L328.80,375.90 L329.82,375.90 L329.82,312.90 L330.00,312.90 L330.00,312.90 L331.02,312.90 L331.02,344.40 L333.05,344.40 L333.05,365.40 L334.07,365.40 L334.07,333.90 L335.08,333.90 L335.08,354.90 L336.10,354.90 L336.10,344.40 L340.17,344.40 L340.17,354.90 L341.19,354.90 L341.19,344.40 L344.24,344.40 L344.24,312.90 L345.66,312.90 L345.66,354.90 L348.71,354.90 L348.71,333.90 L351.35,333.90 L351.35,354.90 L352.78,354.90 L352.78,344.40 L353.79,344.40 L353.79,375.90 L354.81,375.90 L354.81,354.90 L356.03,354.90 L356.03,344.40 L357.46,344.40 L357.46,354.90 L358.47,354.90 L358.47,354.90 L360.51,354.90 L360.51,333.90 L361.93,333.90 L361.93,365.40 L363.15,365.40 L363.15,375.90 L364.57,375.90 L364.57,365.40 L365.59,365.40 L365.59,333.90 L367.01,333.90 L367.01,375.90 L368.03,375.90 L368.03,386.40 L369.05,386.40 L369.05,354.90 L370.68,354.90 L370.68,365.40 L375.76,365.40 L375.76,375.90 L377.18,375.90 L377.18,386.40 L380.84,386.40 L380.84,354.90 L382.47,354.90 L382.47,375.90 L383.89,375.90 L383.89,386.40 L384.91,386.40 L384.91,396.90 Z" fill="#c8102e" />
<line x1="286.90" y1="288.20" x2="286.90" y2="401.70" stroke="#111" stroke-width="1.1" />
<line x1="286.40" y1="401.20" x2="384.50" y2="401.20" stroke="#111" stroke-width="1.1" />
<line x1="284.10" y1="396.90" x2="286.90" y2="396.90" stroke="#111" stroke-width="1" />
<text x="280.90" y="399.80" font-size="8" text-anchor="end" fill="#231f20" color="#231f20" >0</text>
<line x1="284.10" y1="375.90" x2="286.90" y2="375.90" stroke="#111" stroke-width="1" />
<text x="280.90" y="378.80" font-size="8" text-anchor="end" fill="#231f20" color="#231f20" >2</text>
<line x1="284.10" y1="354.90" x2="286.90" y2="354.90" stroke="#111" stroke-width="1" />
<text x="280.90" y="357.80" font-size="8" text-anchor="end" fill="#231f20" color="#231f20" >4</text>
<line x1="284.10" y1="333.90" x2="286.90" y2="333.90" stroke="#111" stroke-width="1" />
<text x="280.90" y="336.80" font-size="8" text-anchor="end" fill="#231f20" color="#231f20" >6</text>
<line x1="284.10" y1="312.90" x2="286.90" y2="312.90" stroke="#111" stroke-width="1" />
<text x="280.90" y="315.80" font-size="8" text-anchor="end" fill="#231f20" color="#231f20" >8</text>
<line x1="284.10" y1="291.90" x2="286.90" y2="291.90" stroke="#111" stroke-width="1" />
<text x="280.90" y="294.80" font-size="8" text-anchor="end" fill="#231f20" color="#231f20" >10</text>
<line x1="289.90" y1="401.20" x2="289.90" y2="404.00" stroke="#111" stroke-width="1" />
<line x1="308.52" y1="401.20" x2="308.52" y2="404.00" stroke="#111" stroke-width="1" />
<line x1="327.15" y1="401.20" x2="327.15" y2="404.00" stroke="#111" stroke-width="1" />
<line x1="345.77" y1="401.20" x2="345.77" y2="404.00" stroke="#111" stroke-width="1" />
<line x1="364.40" y1="401.20" x2="364.40" y2="404.00" stroke="#111" stroke-width="1" />
<line x1="383.02" y1="401.20" x2="383.02" y2="404.00" stroke="#111" stroke-width="1" />
<text x="289.90" y="413.30" font-size="8" text-anchor="middle" fill="#231f20" color="#231f20" >1</text>
<text x="327.15" y="413.30" font-size="8" text-anchor="middle" fill="#231f20" color="#231f20" >2</text>
<text x="364.40" y="413.30" font-size="8" text-anchor="middle" fill="#231f20" color="#231f20" >3</text>
<text x="298.20" y="426.40" font-size="9.5" fill="#231f20" color="#231f20" textLength="74.80" lengthAdjust="spacingAndGlyphs" >Time until isolation (h)</text>
<text x="266.60" y="345.20" font-size="9.5" text-anchor="middle" fill="#231f20" color="#231f20" textLength="43.20" lengthAdjust="spacingAndGlyphs" transform="rotate(-90 266.60 345.20)" >Cells isolated</text>
<text x="392.20" y="267.00" font-size="11" font-weight="bold" fill="#000" color="#000" >I</text>
<line x1="439.50" y1="262.00" x2="439.50" y2="328.00" stroke="#111" stroke-width="1.1" />
<line x1="439.00" y1="327.50" x2="510.50" y2="327.50" stroke="#111" stroke-width="1.1" />
<line x1="436.70" y1="267.00" x2="439.50" y2="267.00" stroke="#111" stroke-width="1" />
<text x="433.90" y="269.80" font-size="8" text-anchor="end" fill="#231f20" color="#231f20" >0.45</text>
<line x1="436.70" y1="284.50" x2="439.50" y2="284.50" stroke="#111" stroke-width="1" />
<text x="433.90" y="287.30" font-size="8" text-anchor="end" fill="#231f20" color="#231f20" >0.35</text>
<line x1="436.70" y1="302.00" x2="439.50" y2="302.00" stroke="#111" stroke-width="1" />
<text x="433.90" y="304.80" font-size="8" text-anchor="end" fill="#231f20" color="#231f20" >0.25</text>
<line x1="436.70" y1="319.50" x2="439.50" y2="319.50" stroke="#111" stroke-width="1" />
<text x="433.90" y="322.30" font-size="8" text-anchor="end" fill="#231f20" color="#231f20" >0.15</text>
<line x1="442.00" y1="327.50" x2="442.00" y2="330.30" stroke="#111" stroke-width="1" />
<line x1="455.12" y1="327.50" x2="455.12" y2="330.30" stroke="#111" stroke-width="1" />
<line x1="468.25" y1="327.50" x2="468.25" y2="330.30" stroke="#111" stroke-width="1" />
<line x1="481.38" y1="327.50" x2="481.38" y2="330.30" stroke="#111" stroke-width="1" />
<line x1="494.50" y1="327.50" x2="494.50" y2="330.30" stroke="#111" stroke-width="1" />
<line x1="507.62" y1="327.50" x2="507.62" y2="330.30" stroke="#111" stroke-width="1" />
<line x1="439.50" y1="336.30" x2="439.50" y2="401.80" stroke="#111" stroke-width="1.1" />
<line x1="439.00" y1="401.30" x2="510.50" y2="401.30" stroke="#111" stroke-width="1.1" />
<line x1="436.70" y1="347.50" x2="439.50" y2="347.50" stroke="#111" stroke-width="1" />
<text x="433.90" y="350.30" font-size="8" text-anchor="end" fill="#231f20" color="#231f20" >10</text>
<line x1="436.70" y1="363.20" x2="439.50" y2="363.20" stroke="#111" stroke-width="1" />
<text x="433.90" y="366.00" font-size="8" text-anchor="end" fill="#231f20" color="#231f20" >8</text>
<line x1="436.70" y1="378.90" x2="439.50" y2="378.90" stroke="#111" stroke-width="1" />
<text x="433.90" y="381.70" font-size="8" text-anchor="end" fill="#231f20" color="#231f20" >6</text>
<line x1="436.70" y1="394.60" x2="439.50" y2="394.60" stroke="#111" stroke-width="1" />
<text x="433.90" y="397.40" font-size="8" text-anchor="end" fill="#231f20" color="#231f20" >4</text>
<line x1="442.00" y1="401.30" x2="442.00" y2="404.10" stroke="#111" stroke-width="1" />
<line x1="455.12" y1="401.30" x2="455.12" y2="404.10" stroke="#111" stroke-width="1" />
<line x1="468.25" y1="401.30" x2="468.25" y2="404.10" stroke="#111" stroke-width="1" />
<line x1="481.38" y1="401.30" x2="481.38" y2="404.10" stroke="#111" stroke-width="1" />
<line x1="494.50" y1="401.30" x2="494.50" y2="404.10" stroke="#111" stroke-width="1" />
<line x1="507.62" y1="401.30" x2="507.62" y2="404.10" stroke="#111" stroke-width="1" />
<text x="442.00" y="413.30" font-size="8" text-anchor="middle" fill="#231f20" color="#231f20" >1</text>
<text x="468.25" y="413.30" font-size="8" text-anchor="middle" fill="#231f20" color="#231f20" >2</text>
<text x="494.50" y="413.30" font-size="8" text-anchor="middle" fill="#231f20" color="#231f20" >3</text>
<text x="438.00" y="427.00" font-size="9.5" fill="#231f20" color="#231f20" textLength="75.00" lengthAdjust="spacingAndGlyphs" >Time until isolation (h)</text>
<text x="401.20" y="294.80" font-size="9.8" text-anchor="middle" fill="#231f20" color="#231f20" textLength="18.80" lengthAdjust="spacingAndGlyphs" transform="rotate(-90 401.20 294.80)" >Sister</text>
<text x="412.60" y="294.60" font-size="9.8" text-anchor="middle" fill="#231f20" color="#231f20" textLength="40.30" lengthAdjust="spacingAndGlyphs" transform="rotate(-90 412.60 294.60)" >dissimilarity</text>
<text x="408.50" y="368.40" font-size="10" text-anchor="middle" fill="#231f20" color="#231f20" textLength="21.50" lengthAdjust="spacingAndGlyphs" transform="rotate(-90 408.50 368.40)" >Genes</text>
<text x="418.40" y="369.20" font-size="9.5" text-anchor="middle" fill="#231f20" color="#231f20" textLength="55.10" lengthAdjust="spacingAndGlyphs" transform="rotate(-90 418.40 369.20)" >detected  (×10³)</text>
<g fill="#d42a50" fill-opacity="0.42" stroke="#cc1a42" stroke-opacity="0.75" stroke-width="0.5"><circle cx="485.2" cy="310.5" r="1.45"/><circle cx="500.2" cy="300.0" r="1.45"/><circle cx="462.9" cy="310.6" r="1.45"/><circle cx="451.5" cy="309.9" r="1.45"/><circle cx="447.7" cy="311.0" r="1.45"/><circle cx="444.2" cy="291.3" r="1.45"/><circle cx="460.8" cy="314.2" r="1.45"/><circle cx="476.8" cy="302.3" r="1.45"/><circle cx="473.8" cy="313.5" r="1.45"/><circle cx="494.2" cy="313.7" r="1.45"/><circle cx="473.5" cy="310.4" r="1.45"/><circle cx="458.3" cy="318.3" r="1.45"/><circle cx="474.7" cy="311.7" r="1.45"/><circle cx="459.7" cy="316.1" r="1.45"/><circle cx="467.0" cy="314.6" r="1.45"/><circle cx="454.7" cy="313.7" r="1.45"/><circle cx="477.9" cy="304.6" r="1.45"/><circle cx="478.5" cy="306.0" r="1.45"/><circle cx="457.2" cy="315.5" r="1.45"/><circle cx="453.5" cy="300.0" r="1.45"/><circle cx="499.0" cy="297.5" r="1.45"/><circle cx="488.7" cy="312.3" r="1.45"/><circle cx="466.8" cy="307.0" r="1.45"/><circle cx="495.2" cy="294.9" r="1.45"/><circle cx="454.6" cy="316.6" r="1.45"/><circle cx="472.8" cy="316.8" r="1.45"/><circle cx="491.4" cy="300.2" r="1.45"/><circle cx="453.8" cy="308.9" r="1.45"/><circle cx="465.5" cy="303.2" r="1.45"/><circle cx="444.5" cy="325.6" r="1.45"/><circle cx="481.8" cy="307.9" r="1.45"/><circle cx="478.6" cy="300.9" r="1.45"/><circle cx="478.4" cy="309.1" r="1.45"/><circle cx="449.1" cy="325.6" r="1.45"/><circle cx="442.3" cy="309.7" r="1.45"/><circle cx="446.8" cy="315.9" r="1.45"/><circle cx="488.7" cy="314.1" r="1.45"/><circle cx="476.6" cy="309.7" r="1.45"/><circle cx="443.4" cy="308.7" r="1.45"/><circle cx="481.1" cy="317.1" r="1.45"/><circle cx="449.0" cy="320.8" r="1.45"/><circle cx="497.5" cy="309.6" r="1.45"/><circle cx="453.5" cy="316.6" r="1.45"/><circle cx="470.1" cy="313.1" r="1.45"/><circle cx="455.8" cy="302.7" r="1.45"/><circle cx="492.3" cy="302.2" r="1.45"/><circle cx="478.2" cy="310.5" r="1.45"/><circle cx="499.6" cy="310.1" r="1.45"/><circle cx="473.1" cy="302.2" r="1.45"/><circle cx="487.1" cy="293.7" r="1.45"/><circle cx="460.8" cy="322.7" r="1.45"/><circle cx="447.3" cy="300.5" r="1.45"/><circle cx="476.9" cy="309.5" r="1.45"/><circle cx="451.2" cy="312.2" r="1.45"/><circle cx="494.5" cy="315.4" r="1.45"/><circle cx="450.4" cy="312.2" r="1.45"/><circle cx="474.9" cy="308.7" r="1.45"/><circle cx="453.8" cy="321.5" r="1.45"/><circle cx="495.3" cy="321.3" r="1.45"/><circle cx="457.7" cy="310.6" r="1.45"/><circle cx="483.1" cy="311.3" r="1.45"/><circle cx="485.3" cy="318.6" r="1.45"/><circle cx="498.8" cy="312.3" r="1.45"/><circle cx="451.6" cy="293.3" r="1.45"/><circle cx="478.2" cy="304.6" r="1.45"/><circle cx="464.0" cy="310.6" r="1.45"/><circle cx="453.9" cy="307.1" r="1.45"/><circle cx="470.1" cy="305.8" r="1.45"/><circle cx="453.7" cy="301.0" r="1.45"/><circle cx="489.8" cy="325.0" r="1.45"/><circle cx="455.1" cy="314.2" r="1.45"/><circle cx="465.9" cy="298.4" r="1.45"/><circle cx="453.3" cy="309.8" r="1.45"/><circle cx="489.3" cy="313.4" r="1.45"/><circle cx="505.8" cy="313.6" r="1.45"/><circle cx="443.5" cy="305.1" r="1.45"/><circle cx="494.8" cy="305.8" r="1.45"/><circle cx="454.2" cy="304.1" r="1.45"/><circle cx="477.1" cy="312.8" r="1.45"/><circle cx="487.5" cy="310.1" r="1.45"/><circle cx="487.1" cy="310.7" r="1.45"/><circle cx="489.6" cy="313.3" r="1.45"/><circle cx="481.9" cy="318.0" r="1.45"/><circle cx="488.2" cy="310.1" r="1.45"/><circle cx="457.9" cy="314.2" r="1.45"/><circle cx="467.4" cy="299.9" r="1.45"/><circle cx="492.1" cy="301.2" r="1.45"/><circle cx="473.4" cy="312.2" r="1.45"/><circle cx="471.5" cy="304.9" r="1.45"/><circle cx="461.2" cy="301.4" r="1.45"/><circle cx="459.9" cy="325.6" r="1.45"/><circle cx="498.1" cy="305.3" r="1.45"/><circle cx="500.4" cy="323.8" r="1.45"/><circle cx="444.0" cy="310.8" r="1.45"/><circle cx="503.5" cy="307.3" r="1.45"/><circle cx="464.4" cy="316.5" r="1.45"/><circle cx="469.8" cy="294.7" r="1.45"/><circle cx="454.8" cy="314.9" r="1.45"/><circle cx="474.3" cy="299.7" r="1.45"/><circle cx="449.7" cy="305.1" r="1.45"/><circle cx="466.4" cy="307.5" r="1.45"/><circle cx="490.9" cy="316.4" r="1.45"/><circle cx="472.8" cy="301.8" r="1.45"/><circle cx="458.8" cy="318.7" r="1.45"/><circle cx="483.3" cy="303.0" r="1.45"/><circle cx="457.1" cy="314.3" r="1.45"/><circle cx="476.0" cy="307.8" r="1.45"/><circle cx="497.4" cy="303.3" r="1.45"/><circle cx="452.6" cy="315.2" r="1.45"/><circle cx="450.8" cy="322.1" r="1.45"/><circle cx="454.8" cy="318.9" r="1.45"/><circle cx="466.7" cy="314.3" r="1.45"/><circle cx="455.6" cy="309.5" r="1.45"/><circle cx="486.7" cy="315.3" r="1.45"/><circle cx="455.4" cy="316.2" r="1.45"/><circle cx="484.1" cy="311.4" r="1.45"/><circle cx="477.9" cy="301.3" r="1.45"/><circle cx="488.0" cy="298.4" r="1.45"/><circle cx="480.5" cy="318.0" r="1.45"/><circle cx="491.1" cy="310.3" r="1.45"/><circle cx="449.7" cy="306.9" r="1.45"/><circle cx="443.5" cy="325.6" r="1.45"/><circle cx="464.7" cy="313.2" r="1.45"/><circle cx="445.7" cy="314.5" r="1.45"/><circle cx="458.2" cy="310.9" r="1.45"/><circle cx="445.0" cy="303.6" r="1.45"/><circle cx="464.1" cy="314.5" r="1.45"/><circle cx="478.4" cy="308.5" r="1.45"/><circle cx="477.7" cy="297.9" r="1.45"/><circle cx="479.8" cy="315.5" r="1.45"/><circle cx="445.1" cy="304.4" r="1.45"/><circle cx="452.3" cy="314.3" r="1.45"/><circle cx="493.4" cy="315.6" r="1.45"/><circle cx="454.7" cy="304.2" r="1.45"/><circle cx="490.4" cy="309.8" r="1.45"/><circle cx="491.6" cy="314.1" r="1.45"/><circle cx="449.8" cy="305.1" r="1.45"/><circle cx="470.1" cy="316.8" r="1.45"/><circle cx="491.1" cy="302.9" r="1.45"/><circle cx="445.5" cy="309.4" r="1.45"/><circle cx="467.4" cy="311.5" r="1.45"/><circle cx="492.9" cy="316.5" r="1.45"/><circle cx="459.7" cy="308.8" r="1.45"/><circle cx="469.7" cy="308.6" r="1.45"/><circle cx="448.1" cy="292.4" r="1.45"/><circle cx="472.2" cy="314.8" r="1.45"/><circle cx="450.6" cy="312.8" r="1.45"/><circle cx="464.6" cy="310.6" r="1.45"/><circle cx="455.5" cy="305.2" r="1.45"/><circle cx="449.8" cy="304.5" r="1.45"/><circle cx="445.8" cy="319.5" r="1.45"/><circle cx="470.9" cy="310.9" r="1.45"/><circle cx="501.1" cy="297.4" r="1.45"/><circle cx="483.1" cy="307.4" r="1.45"/><circle cx="498.5" cy="308.3" r="1.45"/><circle cx="444.2" cy="295.8" r="1.45"/><circle cx="500.9" cy="298.3" r="1.45"/><circle cx="464.2" cy="315.6" r="1.45"/><circle cx="500.7" cy="294.7" r="1.45"/><circle cx="468.5" cy="301.5" r="1.45"/><circle cx="472.5" cy="316.1" r="1.45"/><circle cx="447.0" cy="299.1" r="1.45"/><circle cx="461.8" cy="304.7" r="1.45"/><circle cx="469.6" cy="305.9" r="1.45"/><circle cx="484.6" cy="307.1" r="1.45"/><circle cx="461.8" cy="320.5" r="1.45"/><circle cx="481.0" cy="306.3" r="1.45"/><circle cx="493.4" cy="319.7" r="1.45"/><circle cx="506.4" cy="313.3" r="1.45"/><circle cx="490.2" cy="303.0" r="1.45"/><circle cx="472.9" cy="309.3" r="1.45"/><circle cx="476.0" cy="311.8" r="1.45"/><circle cx="481.7" cy="317.5" r="1.45"/><circle cx="476.2" cy="318.5" r="1.45"/><circle cx="482.2" cy="313.8" r="1.45"/><circle cx="484.3" cy="300.5" r="1.45"/><circle cx="496.4" cy="322.9" r="1.45"/><circle cx="449.3" cy="315.0" r="1.45"/><circle cx="446.3" cy="317.4" r="1.45"/><circle cx="488.7" cy="315.5" r="1.45"/><circle cx="478.3" cy="313.8" r="1.45"/><circle cx="460.1" cy="311.9" r="1.45"/><circle cx="447.3" cy="309.3" r="1.45"/><circle cx="457.3" cy="325.6" r="1.45"/><circle cx="496.3" cy="318.8" r="1.45"/><circle cx="448.5" cy="304.2" r="1.45"/><circle cx="458.3" cy="307.5" r="1.45"/><circle cx="467.3" cy="312.2" r="1.45"/><circle cx="462.8" cy="302.0" r="1.45"/><circle cx="465.5" cy="309.3" r="1.45"/><circle cx="452.5" cy="279.2" r="1.45"/><circle cx="456.4" cy="279.2" r="1.45"/><circle cx="457.8" cy="277.5" r="1.45"/><circle cx="461.7" cy="288.0" r="1.45"/><circle cx="473.5" cy="286.2" r="1.45"/><circle cx="480.1" cy="286.2" r="1.45"/><circle cx="484.0" cy="263.5" r="1.45"/><circle cx="487.9" cy="280.1" r="1.45"/><circle cx="494.5" cy="274.9" r="1.45"/><circle cx="499.8" cy="293.2" r="1.45"/><circle cx="481.4" cy="287.1" r="1.45"/><circle cx="449.9" cy="296.8" r="1.45"/><circle cx="503.7" cy="295.0" r="1.45"/><circle cx="468.2" cy="288.0" r="1.45"/><circle cx="490.6" cy="293.2" r="1.45"/></g>
<g fill="#d42a50" fill-opacity="0.2" stroke="#d42a50" stroke-opacity="0.5" stroke-width="0.45"><circle cx="465.3" cy="349.6" r="1.4"/><circle cx="455.9" cy="357.2" r="1.4"/><circle cx="482.6" cy="351.6" r="1.4"/><circle cx="477.9" cy="345.0" r="1.4"/><circle cx="481.6" cy="354.3" r="1.4"/><circle cx="453.3" cy="362.4" r="1.4"/><circle cx="498.7" cy="355.0" r="1.4"/><circle cx="447.0" cy="352.4" r="1.4"/><circle cx="455.1" cy="359.4" r="1.4"/><circle cx="488.7" cy="355.2" r="1.4"/><circle cx="473.9" cy="357.6" r="1.4"/><circle cx="463.4" cy="364.1" r="1.4"/><circle cx="485.5" cy="358.6" r="1.4"/><circle cx="486.0" cy="346.4" r="1.4"/><circle cx="468.0" cy="363.8" r="1.4"/><circle cx="456.4" cy="354.8" r="1.4"/><circle cx="492.6" cy="356.6" r="1.4"/><circle cx="465.8" cy="344.1" r="1.4"/><circle cx="494.4" cy="348.8" r="1.4"/><circle cx="460.1" cy="348.2" r="1.4"/><circle cx="447.5" cy="359.4" r="1.4"/><circle cx="486.7" cy="344.1" r="1.4"/><circle cx="488.2" cy="364.3" r="1.4"/><circle cx="473.9" cy="361.2" r="1.4"/><circle cx="456.5" cy="358.2" r="1.4"/><circle cx="505.8" cy="356.9" r="1.4"/><circle cx="473.0" cy="350.0" r="1.4"/><circle cx="484.2" cy="351.9" r="1.4"/><circle cx="495.8" cy="350.8" r="1.4"/><circle cx="470.9" cy="350.4" r="1.4"/><circle cx="481.9" cy="352.1" r="1.4"/><circle cx="481.7" cy="356.7" r="1.4"/><circle cx="475.8" cy="356.2" r="1.4"/><circle cx="495.7" cy="354.9" r="1.4"/><circle cx="479.5" cy="345.7" r="1.4"/><circle cx="463.7" cy="360.4" r="1.4"/><circle cx="485.6" cy="353.6" r="1.4"/><circle cx="474.4" cy="356.4" r="1.4"/><circle cx="477.9" cy="352.2" r="1.4"/><circle cx="494.0" cy="366.1" r="1.4"/><circle cx="485.5" cy="347.1" r="1.4"/><circle cx="484.1" cy="359.5" r="1.4"/><circle cx="481.8" cy="346.2" r="1.4"/><circle cx="488.7" cy="350.3" r="1.4"/><circle cx="453.6" cy="361.8" r="1.4"/><circle cx="465.1" cy="350.3" r="1.4"/><circle cx="463.2" cy="352.7" r="1.4"/><circle cx="476.8" cy="342.8" r="1.4"/><circle cx="463.0" cy="350.3" r="1.4"/><circle cx="468.6" cy="353.4" r="1.4"/><circle cx="490.4" cy="354.6" r="1.4"/><circle cx="499.9" cy="358.9" r="1.4"/><circle cx="476.5" cy="361.4" r="1.4"/><circle cx="504.0" cy="361.5" r="1.4"/><circle cx="456.5" cy="349.9" r="1.4"/><circle cx="501.8" cy="348.2" r="1.4"/><circle cx="459.0" cy="343.5" r="1.4"/><circle cx="466.5" cy="353.4" r="1.4"/><circle cx="491.5" cy="345.0" r="1.4"/><circle cx="499.3" cy="340.4" r="1.4"/><circle cx="452.4" cy="350.0" r="1.4"/><circle cx="471.1" cy="354.0" r="1.4"/><circle cx="442.2" cy="356.1" r="1.4"/><circle cx="496.5" cy="354.1" r="1.4"/><circle cx="461.1" cy="352.6" r="1.4"/><circle cx="452.5" cy="346.1" r="1.4"/><circle cx="503.6" cy="355.7" r="1.4"/><circle cx="472.6" cy="360.5" r="1.4"/><circle cx="470.6" cy="346.0" r="1.4"/><circle cx="481.1" cy="354.3" r="1.4"/><circle cx="445.2" cy="350.7" r="1.4"/><circle cx="497.2" cy="346.8" r="1.4"/><circle cx="485.5" cy="356.2" r="1.4"/><circle cx="468.2" cy="355.0" r="1.4"/><circle cx="487.8" cy="346.9" r="1.4"/><circle cx="466.1" cy="341.2" r="1.4"/><circle cx="470.7" cy="355.3" r="1.4"/><circle cx="474.1" cy="345.5" r="1.4"/><circle cx="489.6" cy="362.9" r="1.4"/><circle cx="484.1" cy="346.9" r="1.4"/><circle cx="491.9" cy="353.2" r="1.4"/><circle cx="473.7" cy="346.2" r="1.4"/><circle cx="474.6" cy="357.8" r="1.4"/><circle cx="443.5" cy="354.8" r="1.4"/><circle cx="473.6" cy="346.7" r="1.4"/><circle cx="480.3" cy="358.2" r="1.4"/><circle cx="500.5" cy="342.7" r="1.4"/><circle cx="487.2" cy="360.8" r="1.4"/><circle cx="455.3" cy="354.4" r="1.4"/><circle cx="463.5" cy="355.6" r="1.4"/><circle cx="470.0" cy="354.3" r="1.4"/><circle cx="501.6" cy="351.2" r="1.4"/><circle cx="482.9" cy="360.8" r="1.4"/><circle cx="498.2" cy="363.9" r="1.4"/><circle cx="491.4" cy="345.1" r="1.4"/><circle cx="445.9" cy="355.8" r="1.4"/><circle cx="468.0" cy="358.0" r="1.4"/><circle cx="499.4" cy="362.7" r="1.4"/><circle cx="498.5" cy="361.0" r="1.4"/><circle cx="475.8" cy="364.4" r="1.4"/><circle cx="459.2" cy="345.8" r="1.4"/><circle cx="473.4" cy="353.9" r="1.4"/><circle cx="444.1" cy="353.2" r="1.4"/><circle cx="502.2" cy="346.9" r="1.4"/><circle cx="503.0" cy="344.1" r="1.4"/><circle cx="494.4" cy="359.5" r="1.4"/><circle cx="454.8" cy="354.3" r="1.4"/><circle cx="467.4" cy="355.9" r="1.4"/><circle cx="455.6" cy="343.6" r="1.4"/><circle cx="456.2" cy="343.8" r="1.4"/><circle cx="463.5" cy="357.8" r="1.4"/><circle cx="458.1" cy="360.6" r="1.4"/><circle cx="469.6" cy="350.6" r="1.4"/><circle cx="459.2" cy="350.7" r="1.4"/><circle cx="502.0" cy="347.5" r="1.4"/><circle cx="487.3" cy="353.5" r="1.4"/><circle cx="477.8" cy="358.5" r="1.4"/><circle cx="457.0" cy="342.1" r="1.4"/><circle cx="484.5" cy="359.0" r="1.4"/><circle cx="477.6" cy="359.1" r="1.4"/><circle cx="472.0" cy="360.4" r="1.4"/><circle cx="476.3" cy="350.2" r="1.4"/><circle cx="446.6" cy="354.3" r="1.4"/><circle cx="506.4" cy="361.4" r="1.4"/><circle cx="504.1" cy="350.9" r="1.4"/><circle cx="480.5" cy="353.0" r="1.4"/><circle cx="442.5" cy="361.9" r="1.4"/><circle cx="448.2" cy="355.8" r="1.4"/><circle cx="473.7" cy="354.5" r="1.4"/><circle cx="505.3" cy="353.2" r="1.4"/><circle cx="491.4" cy="346.9" r="1.4"/><circle cx="500.7" cy="359.5" r="1.4"/><circle cx="493.6" cy="361.0" r="1.4"/><circle cx="455.7" cy="355.5" r="1.4"/><circle cx="499.5" cy="357.1" r="1.4"/><circle cx="452.1" cy="347.3" r="1.4"/><circle cx="498.7" cy="351.1" r="1.4"/><circle cx="454.6" cy="364.9" r="1.4"/><circle cx="492.1" cy="353.7" r="1.4"/><circle cx="486.1" cy="357.7" r="1.4"/><circle cx="464.0" cy="351.6" r="1.4"/><circle cx="452.4" cy="350.0" r="1.4"/><circle cx="471.0" cy="343.8" r="1.4"/><circle cx="470.9" cy="363.1" r="1.4"/><circle cx="489.4" cy="346.3" r="1.4"/><circle cx="479.6" cy="361.7" r="1.4"/><circle cx="494.7" cy="362.3" r="1.4"/><circle cx="504.3" cy="362.0" r="1.4"/><circle cx="480.7" cy="350.3" r="1.4"/><circle cx="496.1" cy="350.7" r="1.4"/><circle cx="459.6" cy="362.4" r="1.4"/><circle cx="454.3" cy="345.5" r="1.4"/><circle cx="463.4" cy="358.7" r="1.4"/><circle cx="467.7" cy="355.2" r="1.4"/><circle cx="491.5" cy="353.8" r="1.4"/><circle cx="443.9" cy="353.8" r="1.4"/><circle cx="475.7" cy="349.6" r="1.4"/><circle cx="476.5" cy="351.3" r="1.4"/><circle cx="470.2" cy="355.0" r="1.4"/><circle cx="480.5" cy="368.6" r="1.4"/><circle cx="468.8" cy="357.1" r="1.4"/><circle cx="455.8" cy="358.5" r="1.4"/><circle cx="498.1" cy="360.7" r="1.4"/><circle cx="456.9" cy="348.0" r="1.4"/><circle cx="458.1" cy="358.7" r="1.4"/><circle cx="476.3" cy="354.7" r="1.4"/><circle cx="449.8" cy="359.3" r="1.4"/><circle cx="480.1" cy="349.4" r="1.4"/><circle cx="467.3" cy="356.0" r="1.4"/><circle cx="442.2" cy="344.9" r="1.4"/><circle cx="473.4" cy="351.6" r="1.4"/><circle cx="469.4" cy="346.5" r="1.4"/><circle cx="461.0" cy="347.2" r="1.4"/><circle cx="492.5" cy="352.1" r="1.4"/><circle cx="489.9" cy="350.5" r="1.4"/><circle cx="484.8" cy="358.4" r="1.4"/><circle cx="479.7" cy="352.9" r="1.4"/><circle cx="467.9" cy="348.7" r="1.4"/><circle cx="456.7" cy="355.8" r="1.4"/><circle cx="476.8" cy="349.9" r="1.4"/><circle cx="506.4" cy="351.6" r="1.4"/><circle cx="444.9" cy="356.2" r="1.4"/><circle cx="483.1" cy="344.2" r="1.4"/><circle cx="479.3" cy="352.9" r="1.4"/><circle cx="467.0" cy="358.6" r="1.4"/><circle cx="464.7" cy="362.3" r="1.4"/><circle cx="466.3" cy="346.0" r="1.4"/><circle cx="489.7" cy="347.9" r="1.4"/><circle cx="496.5" cy="359.9" r="1.4"/><circle cx="463.3" cy="361.4" r="1.4"/><circle cx="504.0" cy="340.4" r="1.4"/><circle cx="478.7" cy="348.0" r="1.4"/><circle cx="443.6" cy="354.4" r="1.4"/><circle cx="497.2" cy="355.8" r="1.4"/><circle cx="477.3" cy="367.0" r="1.4"/><circle cx="463.9" cy="352.0" r="1.4"/><circle cx="496.0" cy="346.3" r="1.4"/><circle cx="480.1" cy="359.3" r="1.4"/><circle cx="497.5" cy="358.7" r="1.4"/><circle cx="459.9" cy="361.2" r="1.4"/><circle cx="474.2" cy="346.9" r="1.4"/><circle cx="453.3" cy="354.1" r="1.4"/><circle cx="471.1" cy="352.8" r="1.4"/><circle cx="462.8" cy="353.4" r="1.4"/><circle cx="460.2" cy="353.6" r="1.4"/><circle cx="462.3" cy="345.6" r="1.4"/><circle cx="465.0" cy="362.4" r="1.4"/><circle cx="450.4" cy="350.8" r="1.4"/><circle cx="471.2" cy="347.7" r="1.4"/><circle cx="443.5" cy="355.8" r="1.4"/><circle cx="460.2" cy="358.6" r="1.4"/><circle cx="498.1" cy="359.6" r="1.4"/><circle cx="450.0" cy="349.7" r="1.4"/><circle cx="458.8" cy="345.3" r="1.4"/><circle cx="504.3" cy="357.0" r="1.4"/><circle cx="443.5" cy="356.3" r="1.4"/><circle cx="466.6" cy="354.9" r="1.4"/><circle cx="495.0" cy="356.9" r="1.4"/><circle cx="461.3" cy="346.1" r="1.4"/><circle cx="462.9" cy="359.1" r="1.4"/><circle cx="464.2" cy="354.9" r="1.4"/><circle cx="461.5" cy="343.6" r="1.4"/><circle cx="459.1" cy="345.9" r="1.4"/><circle cx="462.6" cy="357.9" r="1.4"/><circle cx="455.6" cy="355.0" r="1.4"/><circle cx="448.9" cy="359.8" r="1.4"/><circle cx="483.9" cy="356.1" r="1.4"/><circle cx="461.6" cy="360.2" r="1.4"/><circle cx="457.2" cy="340.4" r="1.4"/><circle cx="444.1" cy="362.5" r="1.4"/><circle cx="450.2" cy="347.7" r="1.4"/><circle cx="443.4" cy="356.0" r="1.4"/><circle cx="468.0" cy="349.4" r="1.4"/><circle cx="476.8" cy="347.3" r="1.4"/><circle cx="459.7" cy="355.2" r="1.4"/><circle cx="479.5" cy="352.6" r="1.4"/><circle cx="494.5" cy="356.1" r="1.4"/><circle cx="507.0" cy="351.3" r="1.4"/><circle cx="448.9" cy="369.1" r="1.4"/><circle cx="456.0" cy="361.3" r="1.4"/><circle cx="473.9" cy="348.4" r="1.4"/><circle cx="474.2" cy="355.4" r="1.4"/><circle cx="503.5" cy="342.2" r="1.4"/><circle cx="457.9" cy="354.8" r="1.4"/><circle cx="466.9" cy="355.1" r="1.4"/><circle cx="448.7" cy="356.2" r="1.4"/><circle cx="485.6" cy="343.8" r="1.4"/><circle cx="456.1" cy="358.3" r="1.4"/><circle cx="465.6" cy="356.3" r="1.4"/><circle cx="446.6" cy="355.2" r="1.4"/><circle cx="463.5" cy="355.4" r="1.4"/><circle cx="450.4" cy="353.4" r="1.4"/><circle cx="451.1" cy="351.4" r="1.4"/><circle cx="448.3" cy="350.1" r="1.4"/><circle cx="481.7" cy="358.6" r="1.4"/><circle cx="483.5" cy="357.4" r="1.4"/><circle cx="475.5" cy="355.9" r="1.4"/><circle cx="471.2" cy="349.8" r="1.4"/><circle cx="463.1" cy="358.3" r="1.4"/><circle cx="499.7" cy="355.2" r="1.4"/><circle cx="443.2" cy="357.3" r="1.4"/><circle cx="491.7" cy="358.7" r="1.4"/><circle cx="478.3" cy="351.8" r="1.4"/><circle cx="450.8" cy="347.5" r="1.4"/><circle cx="473.0" cy="340.4" r="1.4"/><circle cx="458.8" cy="349.0" r="1.4"/><circle cx="478.4" cy="364.5" r="1.4"/><circle cx="482.9" cy="364.1" r="1.4"/><circle cx="451.3" cy="358.0" r="1.4"/><circle cx="482.7" cy="352.5" r="1.4"/><circle cx="469.5" cy="359.0" r="1.4"/><circle cx="459.6" cy="358.1" r="1.4"/><circle cx="447.5" cy="360.5" r="1.4"/><circle cx="499.1" cy="359.3" r="1.4"/><circle cx="496.1" cy="351.7" r="1.4"/><circle cx="467.2" cy="351.5" r="1.4"/><circle cx="454.6" cy="352.3" r="1.4"/><circle cx="470.3" cy="358.6" r="1.4"/><circle cx="507.0" cy="353.2" r="1.4"/><circle cx="479.6" cy="355.6" r="1.4"/><circle cx="478.2" cy="347.6" r="1.4"/><circle cx="450.1" cy="364.6" r="1.4"/><circle cx="447.1" cy="358.0" r="1.4"/><circle cx="456.6" cy="349.0" r="1.4"/><circle cx="469.0" cy="352.1" r="1.4"/><circle cx="468.0" cy="356.8" r="1.4"/><circle cx="475.7" cy="341.5" r="1.4"/><circle cx="460.0" cy="349.7" r="1.4"/><circle cx="483.5" cy="355.1" r="1.4"/><circle cx="498.0" cy="356.5" r="1.4"/><circle cx="444.9" cy="348.0" r="1.4"/><circle cx="478.8" cy="347.3" r="1.4"/><circle cx="476.3" cy="359.0" r="1.4"/><circle cx="495.6" cy="352.7" r="1.4"/><circle cx="498.6" cy="342.1" r="1.4"/><circle cx="495.6" cy="357.7" r="1.4"/><circle cx="494.2" cy="350.5" r="1.4"/><circle cx="449.8" cy="357.5" r="1.4"/><circle cx="501.8" cy="343.1" r="1.4"/><circle cx="493.9" cy="359.1" r="1.4"/><circle cx="503.7" cy="358.3" r="1.4"/><circle cx="459.6" cy="351.1" r="1.4"/><circle cx="499.6" cy="352.7" r="1.4"/><circle cx="491.7" cy="356.3" r="1.4"/><circle cx="463.4" cy="352.4" r="1.4"/><circle cx="483.8" cy="350.1" r="1.4"/><circle cx="470.9" cy="343.9" r="1.4"/><circle cx="455.7" cy="351.9" r="1.4"/><circle cx="450.6" cy="349.8" r="1.4"/><circle cx="479.2" cy="356.1" r="1.4"/><circle cx="492.6" cy="348.2" r="1.4"/><circle cx="467.7" cy="362.5" r="1.4"/><circle cx="460.4" cy="360.1" r="1.4"/><circle cx="489.6" cy="356.6" r="1.4"/><circle cx="453.4" cy="355.0" r="1.4"/><circle cx="459.4" cy="351.3" r="1.4"/><circle cx="488.5" cy="354.7" r="1.4"/><circle cx="494.8" cy="359.7" r="1.4"/><circle cx="498.5" cy="354.0" r="1.4"/><circle cx="476.1" cy="362.7" r="1.4"/><circle cx="495.7" cy="353.7" r="1.4"/><circle cx="467.1" cy="358.5" r="1.4"/><circle cx="462.1" cy="355.4" r="1.4"/><circle cx="503.9" cy="344.7" r="1.4"/><circle cx="467.8" cy="360.1" r="1.4"/><circle cx="442.4" cy="354.5" r="1.4"/><circle cx="483.6" cy="359.4" r="1.4"/><circle cx="500.0" cy="350.3" r="1.4"/><circle cx="455.4" cy="365.8" r="1.4"/><circle cx="484.6" cy="356.4" r="1.4"/><circle cx="486.4" cy="352.5" r="1.4"/><circle cx="505.6" cy="351.8" r="1.4"/><circle cx="469.9" cy="364.5" r="1.4"/><circle cx="463.2" cy="342.9" r="1.4"/><circle cx="505.5" cy="352.2" r="1.4"/><circle cx="503.6" cy="350.8" r="1.4"/><circle cx="477.4" cy="350.1" r="1.4"/><circle cx="474.3" cy="355.3" r="1.4"/><circle cx="497.9" cy="347.9" r="1.4"/><circle cx="476.0" cy="351.5" r="1.4"/><circle cx="482.1" cy="355.5" r="1.4"/><circle cx="471.8" cy="354.1" r="1.4"/><circle cx="463.9" cy="353.1" r="1.4"/><circle cx="485.9" cy="345.5" r="1.4"/><circle cx="450.2" cy="351.3" r="1.4"/><circle cx="457.8" cy="349.2" r="1.4"/><circle cx="500.4" cy="348.5" r="1.4"/><circle cx="495.1" cy="350.9" r="1.4"/><circle cx="477.4" cy="344.8" r="1.4"/><circle cx="459.4" cy="358.9" r="1.4"/><circle cx="479.9" cy="352.3" r="1.4"/><circle cx="469.7" cy="353.7" r="1.4"/><circle cx="490.6" cy="345.8" r="1.4"/><circle cx="466.4" cy="353.3" r="1.4"/><circle cx="486.7" cy="363.7" r="1.4"/><circle cx="506.0" cy="344.6" r="1.4"/><circle cx="481.0" cy="346.2" r="1.4"/><circle cx="481.4" cy="349.0" r="1.4"/><circle cx="457.0" cy="355.0" r="1.4"/><circle cx="493.8" cy="343.9" r="1.4"/><circle cx="447.8" cy="355.8" r="1.4"/><circle cx="491.8" cy="361.7" r="1.4"/><circle cx="481.8" cy="364.2" r="1.4"/><circle cx="478.0" cy="351.6" r="1.4"/><circle cx="451.7" cy="358.8" r="1.4"/><circle cx="462.5" cy="355.9" r="1.4"/><circle cx="458.3" cy="350.0" r="1.4"/><circle cx="481.5" cy="364.5" r="1.4"/><circle cx="491.1" cy="356.7" r="1.4"/><circle cx="444.9" cy="352.6" r="1.4"/><circle cx="451.1" cy="353.2" r="1.4"/><circle cx="498.4" cy="359.1" r="1.4"/><circle cx="503.9" cy="346.8" r="1.4"/><circle cx="503.3" cy="349.4" r="1.4"/><circle cx="460.5" cy="360.2" r="1.4"/><circle cx="453.6" cy="353.1" r="1.4"/><circle cx="449.3" cy="353.9" r="1.4"/><circle cx="470.6" cy="352.2" r="1.4"/><circle cx="487.8" cy="352.2" r="1.4"/><circle cx="482.0" cy="363.1" r="1.4"/><circle cx="455.3" cy="359.8" r="1.4"/><circle cx="504.0" cy="367.9" r="1.4"/><circle cx="448.3" cy="363.7" r="1.4"/><circle cx="497.6" cy="356.2" r="1.4"/><circle cx="464.7" cy="350.6" r="1.4"/><circle cx="493.7" cy="362.4" r="1.4"/><circle cx="448.6" cy="345.4" r="1.4"/><circle cx="501.0" cy="349.0" r="1.4"/><circle cx="459.8" cy="356.7" r="1.4"/><circle cx="505.4" cy="346.4" r="1.4"/><circle cx="459.4" cy="348.1" r="1.4"/><circle cx="469.8" cy="356.1" r="1.4"/><circle cx="462.8" cy="356.2" r="1.4"/><circle cx="492.4" cy="353.3" r="1.4"/><circle cx="443.7" cy="346.2" r="1.4"/><circle cx="458.6" cy="354.2" r="1.4"/><circle cx="479.2" cy="349.5" r="1.4"/><circle cx="481.1" cy="353.1" r="1.4"/><circle cx="466.4" cy="369.5" r="1.4"/><circle cx="458.9" cy="354.5" r="1.4"/><circle cx="465.8" cy="350.0" r="1.4"/><circle cx="459.9" cy="353.8" r="1.4"/><circle cx="475.6" cy="362.0" r="1.4"/><circle cx="507.4" cy="359.7" r="1.4"/><circle cx="470.8" cy="360.1" r="1.4"/><circle cx="444.6" cy="345.2" r="1.4"/><circle cx="481.6" cy="362.1" r="1.4"/><circle cx="499.8" cy="358.5" r="1.4"/><circle cx="446.3" cy="354.6" r="1.4"/><circle cx="482.6" cy="360.1" r="1.4"/><circle cx="499.2" cy="354.9" r="1.4"/><circle cx="450.8" cy="362.3" r="1.4"/><circle cx="449.4" cy="354.6" r="1.4"/><circle cx="504.2" cy="354.9" r="1.4"/><circle cx="451.5" cy="350.7" r="1.4"/><circle cx="474.3" cy="347.6" r="1.4"/><circle cx="477.4" cy="362.2" r="1.4"/><circle cx="471.3" cy="356.9" r="1.4"/><circle cx="493.1" cy="361.0" r="1.4"/><circle cx="470.2" cy="359.0" r="1.4"/><circle cx="464.7" cy="360.9" r="1.4"/><circle cx="483.6" cy="352.4" r="1.4"/><circle cx="491.9" cy="350.0" r="1.4"/><circle cx="471.5" cy="355.2" r="1.4"/><circle cx="503.0" cy="353.0" r="1.4"/><circle cx="470.2" cy="359.4" r="1.4"/><circle cx="492.9" cy="358.4" r="1.4"/><circle cx="484.4" cy="354.9" r="1.4"/><circle cx="466.4" cy="356.9" r="1.4"/><circle cx="455.9" cy="351.8" r="1.4"/><circle cx="474.7" cy="358.2" r="1.4"/><circle cx="460.8" cy="354.2" r="1.4"/><circle cx="453.2" cy="344.3" r="1.4"/><circle cx="447.9" cy="347.2" r="1.4"/><circle cx="478.9" cy="348.4" r="1.4"/><circle cx="476.5" cy="354.5" r="1.4"/><circle cx="473.1" cy="357.8" r="1.4"/><circle cx="458.9" cy="348.1" r="1.4"/><circle cx="471.6" cy="365.0" r="1.4"/><circle cx="495.3" cy="367.9" r="1.4"/><circle cx="481.4" cy="351.7" r="1.4"/><circle cx="467.0" cy="352.2" r="1.4"/><circle cx="474.1" cy="359.5" r="1.4"/><circle cx="462.4" cy="351.2" r="1.4"/><circle cx="506.5" cy="361.3" r="1.4"/><circle cx="465.0" cy="359.7" r="1.4"/><circle cx="503.4" cy="354.6" r="1.4"/><circle cx="464.9" cy="353.3" r="1.4"/><circle cx="491.6" cy="356.1" r="1.4"/><circle cx="452.8" cy="340.4" r="1.4"/><circle cx="505.6" cy="359.4" r="1.4"/><circle cx="458.5" cy="363.4" r="1.4"/><circle cx="453.4" cy="354.7" r="1.4"/><circle cx="479.6" cy="356.0" r="1.4"/><circle cx="445.3" cy="354.3" r="1.4"/><circle cx="497.0" cy="364.0" r="1.4"/><circle cx="481.9" cy="359.5" r="1.4"/><circle cx="493.7" cy="350.9" r="1.4"/><circle cx="451.5" cy="352.9" r="1.4"/><circle cx="445.4" cy="358.1" r="1.4"/><circle cx="457.8" cy="338.9" r="1.4"/><circle cx="484.0" cy="382.0" r="1.4"/><circle cx="484.0" cy="389.9" r="1.4"/><circle cx="505.0" cy="398.5" r="1.4"/><circle cx="507.6" cy="377.3" r="1.4"/><circle cx="451.2" cy="378.9" r="1.4"/><circle cx="453.8" cy="382.8" r="1.4"/><circle cx="476.1" cy="374.2" r="1.4"/><circle cx="468.2" cy="371.8" r="1.4"/><circle cx="494.5" cy="372.6" r="1.4"/><circle cx="445.9" cy="373.4" r="1.4"/><circle cx="491.9" cy="339.6" r="1.4"/><circle cx="506.3" cy="342.0" r="1.4"/></g>
<text x="443.80" y="273.00" font-size="8" fill="#231f20" color="#231f20" textLength="49.20" lengthAdjust="spacingAndGlyphs" >Pearson = 0.07</text>
<text x="443.80" y="397.50" font-size="8" fill="#231f20" color="#231f20" textLength="53.70" lengthAdjust="spacingAndGlyphs" >Pearson = –0.13</text>
<text x="6.00" y="454.00" font-size="11" font-weight="bold" fill="#000" color="#000" >J</text>
<text x="66.40" y="455.70" font-size="9" text-anchor="middle" fill="#231f20" color="#231f20" textLength="34.10" lengthAdjust="spacingAndGlyphs" >Lifetime</text>
<line x1="42.80" y1="460.70" x2="90.00" y2="460.70" stroke="#5a5a5a" stroke-width="1.6" />
<text x="157.30" y="455.70" font-size="9" text-anchor="middle" fill="#231f20" color="#231f20" textLength="51.70" lengthAdjust="spacingAndGlyphs" >Morphology</text>
<line x1="133.90" y1="460.70" x2="180.70" y2="460.70" stroke="#5a5a5a" stroke-width="1.6" />
<text x="242.00" y="455.70" font-size="9" text-anchor="middle" fill="#231f20" color="#231f20" textLength="47.20" lengthAdjust="spacingAndGlyphs" >Inheritance</text>
<line x1="218.40" y1="460.70" x2="265.60" y2="460.70" stroke="#5a5a5a" stroke-width="1.6" />
<line x1="20.30" y1="541.50" x2="20.30" y2="564.70" stroke="#111" stroke-width="1.0" />
<path d="M20.3,538.2 L18.0,541.19 L22.6,541.19 Z" fill="#111" />
<line x1="19.80" y1="564.70" x2="48.50" y2="564.70" stroke="#111" stroke-width="1.0" />
<path d="M51.6,564.7 L48.61,562.4000000000001 L48.61,567.0 Z" fill="#111" />
<text x="14.80" y="552.60" font-size="9.5" text-anchor="middle" fill="#231f20" color="#231f20" textLength="24.10" lengthAdjust="spacingAndGlyphs" transform="rotate(-90 14.80 552.60)" >UMap2</text>
<text x="23.80" y="575.00" font-size="9.5" fill="#231f20" color="#231f20" textLength="24.40" lengthAdjust="spacingAndGlyphs" >UMap1</text>
<rect x="71.80" y="542.40" width="28.40" height="7.20" fill="url(#cbar)" />
<rect x="158.20" y="541.20" width="30.70" height="7.20" fill="url(#cbar)" />
<rect x="248.80" y="541.60" width="29.20" height="7.20" fill="url(#cbar)" />
<text x="75.40" y="559.00" font-size="9" text-anchor="middle" fill="#231f20" color="#231f20" >5</text>
<text x="92.50" y="559.00" font-size="9" text-anchor="middle" fill="#231f20" color="#231f20" >15</text>
<text x="166.20" y="559.00" font-size="9" text-anchor="middle" fill="#231f20" color="#231f20" >50</text>
<text x="183.00" y="559.00" font-size="9" text-anchor="middle" fill="#231f20" color="#231f20" >150</text>
<text x="258.40" y="559.00" font-size="9" text-anchor="middle" fill="#231f20" color="#231f20" >0</text>
<text x="269.20" y="559.00" font-size="9" text-anchor="middle" fill="#231f20" color="#231f20" >1</text>
<text x="67.20" y="570.20" font-size="10" fill="#231f20" color="#231f20" textLength="34.60" lengthAdjust="spacingAndGlyphs" >Time since</text>
<text x="66.30" y="580.80" font-size="10" fill="#231f20" color="#231f20" textLength="36.00" lengthAdjust="spacingAndGlyphs" >division (h)</text>
<text x="155.50" y="576.30" font-size="10" fill="#231f20" color="#231f20" textLength="31.00" lengthAdjust="spacingAndGlyphs" >Area (μm</text>
<text x="186.50" y="572.30" font-size="7.2" fill="#231f20" color="#231f20" >2</text>
<text x="190.20" y="576.30" font-size="10" fill="#231f20" color="#231f20" textLength="2.40" lengthAdjust="spacingAndGlyphs" >)</text>
<text x="244.70" y="570.20" font-size="10" fill="#231f20" color="#231f20" textLength="42.00" lengthAdjust="spacingAndGlyphs" >LysoBriteNIR</text>
<text x="248.20" y="580.80" font-size="10" fill="#231f20" color="#231f20" textLength="34.40" lengthAdjust="spacingAndGlyphs" >(norm. au)</text>
<g><circle cx="47.0" cy="506.6" r="1.85" fill="#a5a5a5"/><circle cx="45.5" cy="516.8" r="1.85" fill="#7b7b7b"/><circle cx="96.7" cy="479.9" r="1.85" fill="#dab283"/><circle cx="31.8" cy="535.8" r="1.85" fill="#272727"/><circle cx="82.5" cy="496.4" r="1.85" fill="#f39e28"/><circle cx="48.3" cy="522.9" r="1.85" fill="#343434"/><circle cx="88.5" cy="494.9" r="1.85" fill="#afafaf"/><circle cx="92.8" cy="479.0" r="1.85" fill="#e4aa63"/><circle cx="76.6" cy="491.0" r="1.85" fill="#8b8b8b"/><circle cx="56.4" cy="495.4" r="1.85" fill="#9e9e9e"/><circle cx="54.1" cy="519.8" r="1.85" fill="#f29f2f"/><circle cx="91.7" cy="514.1" r="1.85" fill="#9d9d9d"/><circle cx="96.4" cy="477.1" r="1.85" fill="#888888"/><circle cx="86.0" cy="508.1" r="1.85" fill="#f89a12"/><circle cx="48.7" cy="531.3" r="1.85" fill="#4a4a4a"/><circle cx="43.1" cy="534.8" r="1.85" fill="#8d8d8d"/><circle cx="39.5" cy="513.4" r="1.85" fill="#363636"/><circle cx="70.9" cy="519.9" r="1.85" fill="#626262"/><circle cx="96.2" cy="524.9" r="1.85" fill="#dbb180"/><circle cx="71.9" cy="521.7" r="1.85" fill="#5c5c5c"/><circle cx="37.0" cy="552.4" r="1.85" fill="#343434"/><circle cx="79.0" cy="477.0" r="1.85" fill="#848484"/><circle cx="35.7" cy="544.1" r="1.85" fill="#0c0c0c"/><circle cx="82.9" cy="520.5" r="1.85" fill="#d1b99c"/><circle cx="55.0" cy="499.9" r="1.85" fill="#a2a2a2"/><circle cx="94.1" cy="487.9" r="1.85" fill="#d6b48d"/><circle cx="91.8" cy="501.8" r="1.85" fill="#cfbaa2"/><circle cx="100.4" cy="473.4" r="1.85" fill="#f1a037"/><circle cx="69.0" cy="496.2" r="1.85" fill="#7c7c7c"/><circle cx="72.2" cy="512.0" r="1.85" fill="#838383"/><circle cx="84.4" cy="515.0" r="1.85" fill="#d5b58f"/><circle cx="63.6" cy="507.0" r="1.85" fill="#797979"/><circle cx="80.3" cy="525.9" r="1.85" fill="#d9b285"/><circle cx="36.4" cy="519.7" r="1.85" fill="#373737"/><circle cx="97.1" cy="511.3" r="1.85" fill="#d2b899"/><circle cx="64.5" cy="523.2" r="1.85" fill="#8a8a8a"/><circle cx="46.3" cy="498.0" r="1.85" fill="#c3c3c3"/><circle cx="61.1" cy="525.7" r="1.85" fill="#0d0d0d"/><circle cx="89.4" cy="474.1" r="1.85" fill="#c9bfb2"/><circle cx="41.0" cy="544.8" r="1.85" fill="#191919"/><circle cx="85.2" cy="487.2" r="1.85" fill="#a6a6a6"/><circle cx="85.7" cy="491.9" r="1.85" fill="#c4c3c2"/><circle cx="70.6" cy="503.9" r="1.85" fill="#0e0e0e"/><circle cx="40.9" cy="538.5" r="1.85" fill="#2c2c2c"/><circle cx="77.2" cy="517.1" r="1.85" fill="#d3b798"/><circle cx="37.7" cy="510.1" r="1.85" fill="#f39e2c"/><circle cx="79.9" cy="489.5" r="1.85" fill="#e3ab68"/><circle cx="40.1" cy="508.3" r="1.85" fill="#b4b4b4"/><circle cx="56.1" cy="525.2" r="1.85" fill="#0c0c0c"/><circle cx="61.5" cy="508.9" r="1.85" fill="#cabeb1"/><circle cx="77.5" cy="486.4" r="1.85" fill="#deaf77"/><circle cx="29.4" cy="523.0" r="1.85" fill="#101010"/><circle cx="87.2" cy="523.9" r="1.85" fill="#cbbdad"/><circle cx="98.9" cy="512.8" r="1.85" fill="#f29f2d"/><circle cx="60.0" cy="534.0" r="1.85" fill="#6b6b6b"/><circle cx="51.6" cy="529.5" r="1.85" fill="#cebba5"/><circle cx="97.0" cy="495.4" r="1.85" fill="#565656"/><circle cx="90.9" cy="504.4" r="1.85" fill="#f49d25"/><circle cx="43.5" cy="528.5" r="1.85" fill="#636363"/><circle cx="74.3" cy="489.4" r="1.85" fill="#deaf76"/><circle cx="79.8" cy="483.3" r="1.85" fill="#dfae73"/><circle cx="38.2" cy="546.9" r="1.85" fill="#424242"/><circle cx="100.5" cy="521.3" r="1.85" fill="#d4b693"/><circle cx="77.5" cy="476.3" r="1.85" fill="#f59c20"/><circle cx="94.1" cy="505.1" r="1.85" fill="#d0b99e"/><circle cx="31.1" cy="540.7" r="1.85" fill="#0c0c0c"/><circle cx="101.9" cy="508.4" r="1.85" fill="#d9b285"/><circle cx="86.5" cy="516.8" r="1.85" fill="#d9b284"/><circle cx="53.2" cy="517.2" r="1.85" fill="#a6a6a6"/><circle cx="88.9" cy="518.2" r="1.85" fill="#d6b58f"/><circle cx="56.3" cy="497.8" r="1.85" fill="#333333"/><circle cx="83.7" cy="523.6" r="1.85" fill="#eda447"/><circle cx="58.3" cy="523.1" r="1.85" fill="#717171"/><circle cx="93.8" cy="522.4" r="1.85" fill="#f29f2e"/><circle cx="100.9" cy="492.0" r="1.85" fill="#deaf75"/><circle cx="30.8" cy="520.9" r="1.85" fill="#878787"/><circle cx="89.9" cy="522.5" r="1.85" fill="#b5b5b5"/><circle cx="46.5" cy="540.2" r="1.85" fill="#272727"/><circle cx="49.5" cy="515.4" r="1.85" fill="#0f0f0f"/><circle cx="49.7" cy="510.9" r="1.85" fill="#9d9d9d"/><circle cx="42.9" cy="551.4" r="1.85" fill="#161616"/><circle cx="58.4" cy="510.2" r="1.85" fill="#3f3f3f"/><circle cx="95.8" cy="506.8" r="1.85" fill="#f1a033"/><circle cx="89.3" cy="524.5" r="1.85" fill="#e0ad6f"/><circle cx="100.9" cy="481.9" r="1.85" fill="#7c7c7c"/><circle cx="81.5" cy="480.5" r="1.85" fill="#f59c21"/><circle cx="76.3" cy="495.1" r="1.85" fill="#ddaf78"/><circle cx="36.1" cy="548.1" r="1.85" fill="#515151"/><circle cx="47.1" cy="511.3" r="1.85" fill="#1d1d1d"/><circle cx="87.6" cy="486.3" r="1.85" fill="#f89a12"/><circle cx="103.4" cy="490.0" r="1.85" fill="#b3b3b3"/><circle cx="49.1" cy="542.3" r="1.85" fill="#464646"/><circle cx="56.1" cy="530.8" r="1.85" fill="#333333"/><circle cx="85.6" cy="499.1" r="1.85" fill="#e6a95f"/><circle cx="62.3" cy="520.5" r="1.85" fill="#595959"/><circle cx="86.4" cy="519.5" r="1.85" fill="#d2b898"/><circle cx="68.0" cy="513.4" r="1.85" fill="#181818"/><circle cx="81.7" cy="494.1" r="1.85" fill="#101010"/><circle cx="101.2" cy="479.4" r="1.85" fill="#a3a3a3"/><circle cx="61.1" cy="513.0" r="1.85" fill="#c4c3c2"/><circle cx="47.9" cy="500.2" r="1.85" fill="#676767"/><circle cx="87.0" cy="512.1" r="1.85" fill="#c9bfb3"/><circle cx="97.2" cy="531.7" r="1.85" fill="#d6b58f"/><circle cx="49.0" cy="506.1" r="1.85" fill="#595959"/><circle cx="40.6" cy="546.9" r="1.85" fill="#f29f2f"/><circle cx="87.4" cy="529.3" r="1.85" fill="#d7b48a"/><circle cx="82.5" cy="491.5" r="1.85" fill="#d9b284"/><circle cx="52.3" cy="511.0" r="1.85" fill="#a0a0a0"/><circle cx="37.7" cy="539.0" r="1.85" fill="#0d0d0d"/><circle cx="95.0" cy="496.9" r="1.85" fill="#c7c1ba"/><circle cx="88.4" cy="535.9" r="1.85" fill="#eaa651"/><circle cx="95.6" cy="518.9" r="1.85" fill="#f29f2f"/><circle cx="92.4" cy="498.3" r="1.85" fill="#c9bfb3"/><circle cx="88.3" cy="499.7" r="1.85" fill="#dab281"/><circle cx="28.5" cy="536.4" r="1.85" fill="#c6c2bd"/><circle cx="38.9" cy="532.4" r="1.85" fill="#2b2b2b"/><circle cx="86.0" cy="492.0" r="1.85" fill="#d8b389"/><circle cx="76.6" cy="511.5" r="1.85" fill="#c1c1c1"/><circle cx="39.9" cy="536.5" r="1.85" fill="#6e6e6e"/><circle cx="47.6" cy="548.9" r="1.85" fill="#0b0b0b"/><circle cx="33.9" cy="523.1" r="1.85" fill="#969696"/><circle cx="85.6" cy="527.8" r="1.85" fill="#e6a95d"/><circle cx="87.3" cy="502.7" r="1.85" fill="#e8a858"/><circle cx="38.1" cy="524.8" r="1.85" fill="#101010"/><circle cx="69.2" cy="526.1" r="1.85" fill="#626262"/><circle cx="52.9" cy="499.3" r="1.85" fill="#242424"/><circle cx="102.6" cy="495.5" r="1.85" fill="#d8b387"/><circle cx="65.9" cy="515.6" r="1.85" fill="#c3c3c3"/><circle cx="75.9" cy="535.2" r="1.85" fill="#f0a13a"/><circle cx="96.8" cy="485.9" r="1.85" fill="#d6b48d"/><circle cx="60.0" cy="517.1" r="1.85" fill="#e3ab66"/><circle cx="85.1" cy="525.5" r="1.85" fill="#bababa"/><circle cx="53.6" cy="530.4" r="1.85" fill="#414141"/><circle cx="46.7" cy="514.9" r="1.85" fill="#101010"/><circle cx="88.3" cy="476.5" r="1.85" fill="#bcbcbc"/><circle cx="29.7" cy="517.1" r="1.85" fill="#131313"/><circle cx="38.1" cy="517.8" r="1.85" fill="#161616"/><circle cx="71.8" cy="509.8" r="1.85" fill="#0b0b0b"/><circle cx="73.5" cy="505.3" r="1.85" fill="#d2b89a"/><circle cx="53.2" cy="532.6" r="1.85" fill="#636363"/><circle cx="68.8" cy="524.1" r="1.85" fill="#343434"/><circle cx="91.8" cy="473.5" r="1.85" fill="#e3ab68"/><circle cx="98.2" cy="509.6" r="1.85" fill="#eaa651"/><circle cx="83.2" cy="507.7" r="1.85" fill="#b9b9b9"/><circle cx="33.5" cy="542.1" r="1.85" fill="#2c2c2c"/><circle cx="98.4" cy="521.5" r="1.85" fill="#c4c3c3"/><circle cx="96.4" cy="472.5" r="1.85" fill="#afafaf"/><circle cx="94.4" cy="514.5" r="1.85" fill="#b7b7b7"/><circle cx="47.9" cy="503.2" r="1.85" fill="#ccbdaa"/><circle cx="48.9" cy="538.3" r="1.85" fill="#f29f2f"/><circle cx="80.4" cy="504.8" r="1.85" fill="#f29f2f"/><circle cx="89.5" cy="488.6" r="1.85" fill="#dbb17f"/><circle cx="85.5" cy="474.3" r="1.85" fill="#959595"/><circle cx="95.3" cy="534.3" r="1.85" fill="#666666"/><circle cx="34.5" cy="516.7" r="1.85" fill="#353535"/><circle cx="73.9" cy="525.3" r="1.85" fill="#f29f2d"/><circle cx="96.7" cy="514.7" r="1.85" fill="#aaaaaa"/><circle cx="80.4" cy="507.5" r="1.85" fill="#ddb079"/><circle cx="84.9" cy="530.6" r="1.85" fill="#f89a12"/><circle cx="90.8" cy="492.4" r="1.85" fill="#a9a9a9"/><circle cx="38.8" cy="527.7" r="1.85" fill="#0f0f0f"/><circle cx="88.9" cy="508.1" r="1.85" fill="#e1ac6c"/><circle cx="86.7" cy="532.8" r="1.85" fill="#cebba4"/><circle cx="87.7" cy="478.4" r="1.85" fill="#afafaf"/><circle cx="96.4" cy="537.1" r="1.85" fill="#dab281"/><circle cx="43.1" cy="540.9" r="1.85" fill="#0c0c0c"/><circle cx="84.1" cy="484.6" r="1.85" fill="#f0a139"/><circle cx="57.9" cy="503.7" r="1.85" fill="#101010"/><circle cx="72.8" cy="500.2" r="1.85" fill="#a4a4a4"/><circle cx="72.4" cy="514.5" r="1.85" fill="#f29f2f"/><circle cx="100.1" cy="484.9" r="1.85" fill="#d6b48d"/><circle cx="46.1" cy="546.0" r="1.85" fill="#333333"/><circle cx="41.5" cy="511.5" r="1.85" fill="#888888"/><circle cx="89.7" cy="486.3" r="1.85" fill="#a5a5a5"/><circle cx="60.7" cy="503.9" r="1.85" fill="#212121"/><circle cx="52.3" cy="524.7" r="1.85" fill="#0d0d0d"/><circle cx="30.7" cy="537.5" r="1.85" fill="#c7c1b9"/><circle cx="105.5" cy="499.3" r="1.85" fill="#cebba4"/><circle cx="32.4" cy="551.2" r="1.85" fill="#141414"/><circle cx="51.2" cy="523.0" r="1.85" fill="#434343"/><circle cx="33.5" cy="525.1" r="1.85" fill="#151515"/><circle cx="34.0" cy="535.4" r="1.85" fill="#0f0f0f"/><circle cx="42.8" cy="554.8" r="1.85" fill="#181818"/><circle cx="95.8" cy="500.1" r="1.85" fill="#a7a7a7"/><circle cx="44.2" cy="523.6" r="1.85" fill="#1b1b1b"/><circle cx="79.4" cy="517.2" r="1.85" fill="#dfae74"/><circle cx="81.3" cy="528.5" r="1.85" fill="#828282"/><circle cx="51.2" cy="516.6" r="1.85" fill="#181818"/><circle cx="40.6" cy="526.6" r="1.85" fill="#333333"/><circle cx="81.3" cy="518.8" r="1.85" fill="#cebba4"/><circle cx="67.5" cy="504.0" r="1.85" fill="#a1a1a1"/><circle cx="72.6" cy="527.6" r="1.85" fill="#c4c3c1"/><circle cx="99.3" cy="503.0" r="1.85" fill="#d9b284"/><circle cx="69.0" cy="505.5" r="1.85" fill="#9f9f9f"/><circle cx="30.4" cy="525.2" r="1.85" fill="#818181"/><circle cx="57.9" cy="499.3" r="1.85" fill="#c8c0b7"/><circle cx="37.3" cy="554.8" r="1.85" fill="#343434"/><circle cx="55.3" cy="521.6" r="1.85" fill="#3e3e3e"/><circle cx="84.6" cy="479.9" r="1.85" fill="#c0c0c0"/><circle cx="36.8" cy="522.1" r="1.85" fill="#9f9f9f"/><circle cx="85.3" cy="503.2" r="1.85" fill="#d6b58e"/><circle cx="75.6" cy="522.5" r="1.85" fill="#c6c1bc"/><circle cx="46.9" cy="524.7" r="1.85" fill="#202020"/><circle cx="49.2" cy="528.2" r="1.85" fill="#787878"/><circle cx="96.2" cy="522.3" r="1.85" fill="#c5c2be"/><circle cx="31.0" cy="518.1" r="1.85" fill="#6e6e6e"/><circle cx="95.2" cy="502.2" r="1.85" fill="#898989"/><circle cx="33.7" cy="532.9" r="1.85" fill="#181818"/><circle cx="97.2" cy="488.3" r="1.85" fill="#a7a7a7"/><circle cx="39.2" cy="540.9" r="1.85" fill="#afafaf"/><circle cx="50.9" cy="506.8" r="1.85" fill="#b5b5b5"/><circle cx="66.3" cy="521.1" r="1.85" fill="#0b0b0b"/><circle cx="77.6" cy="514.1" r="1.85" fill="#f69b19"/><circle cx="44.2" cy="538.6" r="1.85" fill="#303030"/><circle cx="66.1" cy="525.7" r="1.85" fill="#a1a1a1"/><circle cx="62.5" cy="500.4" r="1.85" fill="#202020"/><circle cx="35.9" cy="556.6" r="1.85" fill="#0b0b0b"/><circle cx="36.1" cy="524.2" r="1.85" fill="#0a0a0a"/><circle cx="97.3" cy="516.6" r="1.85" fill="#f29f2f"/><circle cx="76.7" cy="486.0" r="1.85" fill="#eea343"/><circle cx="93.2" cy="481.4" r="1.85" fill="#dab282"/><circle cx="34.1" cy="553.1" r="1.85" fill="#2d2d2d"/><circle cx="54.7" cy="505.7" r="1.85" fill="#0d0d0d"/><circle cx="88.5" cy="505.9" r="1.85" fill="#f1a032"/><circle cx="58.0" cy="515.3" r="1.85" fill="#9b9b9b"/><circle cx="57.9" cy="505.9" r="1.85" fill="#333333"/><circle cx="87.5" cy="509.9" r="1.85" fill="#efa240"/><circle cx="90.3" cy="479.4" r="1.85" fill="#cbbdad"/><circle cx="98.8" cy="499.7" r="1.85" fill="#bbbbbb"/><circle cx="97.2" cy="491.4" r="1.85" fill="#d9b386"/><circle cx="75.4" cy="484.2" r="1.85" fill="#797979"/><circle cx="46.7" cy="537.6" r="1.85" fill="#121212"/><circle cx="90.0" cy="520.5" r="1.85" fill="#cabeb1"/><circle cx="33.0" cy="514.3" r="1.85" fill="#404040"/><circle cx="95.8" cy="482.1" r="1.85" fill="#b1b1b1"/><circle cx="57.9" cy="519.9" r="1.85" fill="#797979"/><circle cx="70.9" cy="501.9" r="1.85" fill="#8e8e8e"/><circle cx="95.2" cy="536.3" r="1.85" fill="#d3b796"/><circle cx="34.4" cy="512.6" r="1.85" fill="#272727"/><circle cx="39.6" cy="554.4" r="1.85" fill="#2c2c2c"/><circle cx="78.5" cy="499.6" r="1.85" fill="#a7a7a7"/><circle cx="60.3" cy="521.0" r="1.85" fill="#c5c2be"/><circle cx="28.9" cy="551.4" r="1.85" fill="#1e1e1e"/><circle cx="91.3" cy="477.6" r="1.85" fill="#f29f2f"/><circle cx="89.4" cy="514.9" r="1.85" fill="#d2b89a"/><circle cx="35.7" cy="527.8" r="1.85" fill="#949494"/><circle cx="48.7" cy="526.1" r="1.85" fill="#0f0f0f"/><circle cx="71.8" cy="518.0" r="1.85" fill="#787878"/><circle cx="99.9" cy="470.9" r="1.85" fill="#696969"/><circle cx="101.4" cy="489.7" r="1.85" fill="#f89a12"/><circle cx="38.0" cy="543.6" r="1.85" fill="#515151"/><circle cx="50.9" cy="520.9" r="1.85" fill="#dbb180"/><circle cx="78.0" cy="530.8" r="1.85" fill="#b3b3b3"/><circle cx="62.6" cy="514.5" r="1.85" fill="#b6b6b6"/><circle cx="40.8" cy="542.4" r="1.85" fill="#181818"/><circle cx="39.9" cy="515.7" r="1.85" fill="#131313"/><circle cx="40.8" cy="551.3" r="1.85" fill="#2e2e2e"/><circle cx="42.5" cy="508.1" r="1.85" fill="#3c3c3c"/><circle cx="87.9" cy="468.3" r="1.85" fill="#d1b99c"/><circle cx="75.0" cy="516.0" r="1.85" fill="#c0c0c0"/><circle cx="104.2" cy="482.1" r="1.85" fill="#d2b89b"/><circle cx="63.7" cy="512.7" r="1.85" fill="#3d3d3d"/><circle cx="40.7" cy="523.4" r="1.85" fill="#141414"/><circle cx="70.7" cy="489.8" r="1.85" fill="#5f5f5f"/><circle cx="78.0" cy="488.5" r="1.85" fill="#d0baa0"/><circle cx="74.0" cy="492.6" r="1.85" fill="#d5b58f"/><circle cx="93.2" cy="471.4" r="1.85" fill="#f49d23"/><circle cx="44.5" cy="504.3" r="1.85" fill="#131313"/><circle cx="77.5" cy="508.8" r="1.85" fill="#efa240"/><circle cx="92.6" cy="525.8" r="1.85" fill="#f39e2a"/><circle cx="54.2" cy="527.0" r="1.85" fill="#535353"/><circle cx="71.4" cy="496.9" r="1.85" fill="#434343"/><circle cx="67.9" cy="510.0" r="1.85" fill="#6f6f6f"/><circle cx="63.3" cy="502.3" r="1.85" fill="#5d5d5d"/><circle cx="56.3" cy="508.0" r="1.85" fill="#1e1e1e"/><circle cx="93.3" cy="490.0" r="1.85" fill="#f0a13a"/><circle cx="90.3" cy="483.6" r="1.85" fill="#cfbaa1"/><circle cx="83.0" cy="477.9" r="1.85" fill="#d1b89b"/><circle cx="55.3" cy="535.2" r="1.85" fill="#949494"/><circle cx="90.2" cy="510.1" r="1.85" fill="#c3c3c3"/><circle cx="83.0" cy="475.4" r="1.85" fill="#cbbdad"/><circle cx="44.3" cy="506.5" r="1.85" fill="#3d3d3d"/><circle cx="59.2" cy="507.6" r="1.85" fill="#575757"/><circle cx="54.3" cy="514.6" r="1.85" fill="#363636"/><circle cx="91.4" cy="507.5" r="1.85" fill="#e5aa61"/><circle cx="40.5" cy="529.6" r="1.85" fill="#8b8b8b"/><circle cx="84.9" cy="494.5" r="1.85" fill="#f39e2a"/><circle cx="45.7" cy="513.0" r="1.85" fill="#8d8d8d"/><circle cx="35.9" cy="537.9" r="1.85" fill="#1a1a1a"/><circle cx="82.2" cy="498.5" r="1.85" fill="#d5b691"/><circle cx="36.0" cy="540.1" r="1.85" fill="#737373"/><circle cx="84.7" cy="472.3" r="1.85" fill="#9e9e9e"/><circle cx="69.6" cy="516.9" r="1.85" fill="#797979"/><circle cx="91.4" cy="530.8" r="1.85" fill="#d4b693"/><circle cx="84.4" cy="506.0" r="1.85" fill="#d3b795"/><circle cx="60.0" cy="500.7" r="1.85" fill="#c9bfb3"/><circle cx="94.1" cy="473.9" r="1.85" fill="#a9a9a9"/><circle cx="101.1" cy="514.0" r="1.85" fill="#f49d24"/><circle cx="66.2" cy="512.0" r="1.85" fill="#dbb17f"/><circle cx="43.0" cy="546.4" r="1.85" fill="#0d0d0d"/><circle cx="103.2" cy="492.8" r="1.85" fill="#c4c3c3"/><circle cx="93.8" cy="476.2" r="1.85" fill="#d5b591"/><circle cx="93.0" cy="484.7" r="1.85" fill="#787878"/><circle cx="98.1" cy="482.8" r="1.85" fill="#deaf76"/><circle cx="53.4" cy="501.9" r="1.85" fill="#5a5a5a"/><circle cx="28.4" cy="544.8" r="1.85" fill="#757575"/><circle cx="64.4" cy="499.1" r="1.85" fill="#6c6c6c"/><circle cx="56.0" cy="518.0" r="1.85" fill="#373737"/><circle cx="57.5" cy="528.0" r="1.85" fill="#a7a7a7"/><circle cx="95.7" cy="490.0" r="1.85" fill="#777777"/><circle cx="65.5" cy="508.9" r="1.85" fill="#c1c1c1"/><circle cx="41.1" cy="532.2" r="1.85" fill="#0c0c0c"/><circle cx="27.9" cy="528.3" r="1.85" fill="#cdbca8"/><circle cx="33.3" cy="539.2" r="1.85" fill="#101010"/><circle cx="95.3" cy="493.2" r="1.85" fill="#e2ac6b"/><circle cx="72.7" cy="494.8" r="1.85" fill="#c4c3c3"/><circle cx="44.5" cy="544.6" r="1.85" fill="#1d1d1d"/><circle cx="46.9" cy="529.3" r="1.85" fill="#808080"/><circle cx="53.7" cy="508.5" r="1.85" fill="#aaaaaa"/><circle cx="95.0" cy="509.8" r="1.85" fill="#7a7a7a"/><circle cx="35.9" cy="514.6" r="1.85" fill="#4c4c4c"/><circle cx="75.4" cy="527.6" r="1.85" fill="#c7c1ba"/><circle cx="85.6" cy="522.0" r="1.85" fill="#8a8a8a"/><circle cx="46.7" cy="535.0" r="1.85" fill="#3d3d3d"/><circle cx="82.9" cy="488.9" r="1.85" fill="#c1c1c1"/><circle cx="48.3" cy="517.5" r="1.85" fill="#151515"/><circle cx="74.8" cy="530.8" r="1.85" fill="#e3ab66"/><circle cx="97.0" cy="526.8" r="1.85" fill="#e8a858"/><circle cx="58.2" cy="532.8" r="1.85" fill="#8e8e8e"/><circle cx="98.0" cy="529.0" r="1.85" fill="#cbbdae"/><circle cx="91.2" cy="512.0" r="1.85" fill="#deaf76"/><circle cx="84.6" cy="501.3" r="1.85" fill="#f0a13a"/><circle cx="77.4" cy="482.8" r="1.85" fill="#eea343"/><circle cx="52.6" cy="534.9" r="1.85" fill="#f29f2f"/><circle cx="33.5" cy="520.9" r="1.85" fill="#282828"/><circle cx="66.1" cy="500.9" r="1.85" fill="#3f3f3f"/><circle cx="41.3" cy="520.7" r="1.85" fill="#292929"/><circle cx="99.3" cy="476.7" r="1.85" fill="#e0ad6f"/><circle cx="44.7" cy="555.4" r="1.85" fill="#0d0d0d"/><circle cx="45.2" cy="552.1" r="1.85" fill="#0e0e0e"/><circle cx="41.5" cy="549.2" r="1.85" fill="#111111"/><circle cx="100.5" cy="510.0" r="1.85" fill="#363636"/><circle cx="97.7" cy="537.8" r="1.85" fill="#e7a85a"/><circle cx="45.7" cy="532.9" r="1.85" fill="#a4a4a4"/><circle cx="44.4" cy="519.4" r="1.85" fill="#292929"/><circle cx="72.6" cy="530.0" r="1.85" fill="#727272"/><circle cx="77.4" cy="497.1" r="1.85" fill="#e0ad70"/><circle cx="32.7" cy="548.6" r="1.85" fill="#0b0b0b"/><circle cx="91.4" cy="487.8" r="1.85" fill="#686868"/><circle cx="30.1" cy="548.1" r="1.85" fill="#101010"/><circle cx="91.0" cy="528.1" r="1.85" fill="#cebba5"/><circle cx="100.6" cy="528.3" r="1.85" fill="#e8a857"/><circle cx="92.6" cy="509.3" r="1.85" fill="#deae74"/><circle cx="90.8" cy="470.9" r="1.85" fill="#eda449"/><circle cx="85.0" cy="510.5" r="1.85" fill="#dfae73"/><circle cx="32.6" cy="527.1" r="1.85" fill="#494949"/><circle cx="44.4" cy="509.8" r="1.85" fill="#ddaf79"/><circle cx="103.3" cy="498.5" r="1.85" fill="#989898"/><circle cx="34.9" cy="546.3" r="1.85" fill="#727272"/><circle cx="90.4" cy="537.4" r="1.85" fill="#f29f2f"/><circle cx="39.3" cy="549.8" r="1.85" fill="#0b0b0b"/><circle cx="98.0" cy="471.0" r="1.85" fill="#e8a857"/><circle cx="86.4" cy="514.6" r="1.85" fill="#dbb180"/><circle cx="75.4" cy="503.2" r="1.85" fill="#efa23f"/><circle cx="79.9" cy="495.6" r="1.85" fill="#d4b795"/><circle cx="82.0" cy="509.4" r="1.85" fill="#f29f2f"/><circle cx="28.6" cy="527.3" r="1.85" fill="#2f2f2f"/><circle cx="36.1" cy="532.7" r="1.85" fill="#191919"/><circle cx="86.7" cy="495.8" r="1.85" fill="#dfae73"/><circle cx="55.8" cy="510.8" r="1.85" fill="#4d4d4d"/><circle cx="36.8" cy="534.8" r="1.85" fill="#767676"/><circle cx="79.5" cy="512.8" r="1.85" fill="#ddaf79"/><circle cx="82.2" cy="505.5" r="1.85" fill="#c6c1bc"/><circle cx="64.9" cy="504.9" r="1.85" fill="#636363"/><circle cx="31.1" cy="531.0" r="1.85" fill="#f29f2f"/><circle cx="77.3" cy="476.4" r="1.85" fill="#d4b693"/><circle cx="80.2" cy="502.0" r="1.85" fill="#d9b285"/><circle cx="94.2" cy="524.6" r="1.85" fill="#bfbfbf"/><circle cx="91.1" cy="495.1" r="1.85" fill="#c7c1b9"/><circle cx="69.3" cy="498.5" r="1.85" fill="#d8b388"/><circle cx="99.5" cy="495.7" r="1.85" fill="#f29f2f"/><circle cx="30.8" cy="528.2" r="1.85" fill="#888888"/><circle cx="95.0" cy="529.6" r="1.85" fill="#e0ad6e"/><circle cx="54.5" cy="537.2" r="1.85" fill="#484848"/><circle cx="91.8" cy="534.7" r="1.85" fill="#d7b48b"/><circle cx="94.3" cy="516.8" r="1.85" fill="#e3ab65"/><circle cx="43.1" cy="515.1" r="1.85" fill="#434343"/><circle cx="51.0" cy="504.6" r="1.85" fill="#434343"/><circle cx="77.4" cy="525.8" r="1.85" fill="#484848"/><circle cx="85.6" cy="483.0" r="1.85" fill="#cebba5"/><circle cx="78.9" cy="480.1" r="1.85" fill="#e9a753"/><circle cx="50.3" cy="513.3" r="1.85" fill="#c1c1c1"/><circle cx="48.6" cy="520.8" r="1.85" fill="#616161"/><circle cx="60.1" cy="527.5" r="1.85" fill="#bfbfbf"/><circle cx="38.5" cy="520.7" r="1.85" fill="#858585"/><circle cx="67.5" cy="506.9" r="1.85" fill="#4b4b4b"/><circle cx="39.2" cy="534.4" r="1.85" fill="#4a4a4a"/><circle cx="47.2" cy="543.1" r="1.85" fill="#b2b2b2"/><circle cx="90.3" cy="497.6" r="1.85" fill="#f89a12"/><circle cx="62.7" cy="517.9" r="1.85" fill="#3f3f3f"/><circle cx="80.2" cy="522.5" r="1.85" fill="#636363"/><circle cx="101.7" cy="503.1" r="1.85" fill="#d3b797"/><circle cx="99.0" cy="517.9" r="1.85" fill="#f1a031"/><circle cx="67.0" cy="497.8" r="1.85" fill="#f29f2f"/><circle cx="33.4" cy="529.7" r="1.85" fill="#5f5f5f"/><circle cx="50.5" cy="500.5" r="1.85" fill="#212121"/><circle cx="44.8" cy="526.2" r="1.85" fill="#181818"/><circle cx="53.7" cy="523.3" r="1.85" fill="#7a7a7a"/><circle cx="27.9" cy="531.1" r="1.85" fill="#252525"/><circle cx="68.0" cy="518.9" r="1.85" fill="#1a1a1a"/><circle cx="61.4" cy="506.5" r="1.85" fill="#6c6c6c"/><circle cx="78.3" cy="503.7" r="1.85" fill="#f29f2f"/><circle cx="73.9" cy="518.6" r="1.85" fill="#efa23c"/><circle cx="36.8" cy="530.1" r="1.85" fill="#959595"/><circle cx="94.4" cy="527.2" r="1.85" fill="#bebebe"/><circle cx="99.1" cy="506.5" r="1.85" fill="#afafaf"/><circle cx="87.2" cy="484.3" r="1.85" fill="#d1b99d"/><circle cx="79.6" cy="519.9" r="1.85" fill="#d1b99c"/><circle cx="88.8" cy="491.0" r="1.85" fill="#f0a13c"/><circle cx="94.2" cy="531.7" r="1.85" fill="#9f9f9f"/><circle cx="58.2" cy="512.4" r="1.85" fill="#c4c3c2"/><circle cx="70.5" cy="506.9" r="1.85" fill="#515151"/><circle cx="61.9" cy="523.0" r="1.85" fill="#d2b89a"/><circle cx="41.0" cy="517.6" r="1.85" fill="#1d1d1d"/><circle cx="32.1" cy="545.5" r="1.85" fill="#141414"/><circle cx="83.0" cy="511.8" r="1.85" fill="#eca54c"/><circle cx="81.4" cy="514.1" r="1.85" fill="#f89a12"/><circle cx="76.4" cy="519.3" r="1.85" fill="#7a7a7a"/><circle cx="91.6" cy="518.2" r="1.85" fill="#f39e27"/><circle cx="77.0" cy="506.1" r="1.85" fill="#cdbca9"/><circle cx="79.5" cy="493.6" r="1.85" fill="#d4b693"/><circle cx="51.2" cy="498.3" r="1.85" fill="#111111"/><circle cx="101.9" cy="487.0" r="1.85" fill="#8e8e8e"/><circle cx="75.2" cy="497.3" r="1.85" fill="#e1ad6e"/><circle cx="51.0" cy="538.1" r="1.85" fill="#cdbca8"/><circle cx="74.4" cy="509.7" r="1.85" fill="#e6a95d"/><circle cx="99.1" cy="515.0" r="1.85" fill="#dcb07b"/><circle cx="80.3" cy="485.3" r="1.85" fill="#d7b48b"/><circle cx="49.2" cy="546.6" r="1.85" fill="#a7a7a7"/></g>
<g><circle cx="149.9" cy="499.2" r="1.85" fill="#6c6c6c"/><circle cx="124.0" cy="530.9" r="1.85" fill="#9e9e9e"/><circle cx="193.0" cy="506.3" r="1.85" fill="#eba54e"/><circle cx="181.3" cy="487.0" r="1.85" fill="#cbbdad"/><circle cx="134.7" cy="525.3" r="1.85" fill="#6b6b6b"/><circle cx="182.0" cy="533.8" r="1.85" fill="#b8b8b8"/><circle cx="133.0" cy="503.0" r="1.85" fill="#b6b6b6"/><circle cx="142.0" cy="534.1" r="1.85" fill="#313131"/><circle cx="177.9" cy="532.0" r="1.85" fill="#b0b0b0"/><circle cx="122.4" cy="523.7" r="1.85" fill="#989898"/><circle cx="181.1" cy="494.6" r="1.85" fill="#444444"/><circle cx="183.9" cy="535.4" r="1.85" fill="#5d5d5d"/><circle cx="151.8" cy="500.0" r="1.85" fill="#171717"/><circle cx="178.3" cy="534.6" r="1.85" fill="#474747"/><circle cx="162.2" cy="489.7" r="1.85" fill="#202020"/><circle cx="148.0" cy="523.5" r="1.85" fill="#262626"/><circle cx="168.4" cy="491.7" r="1.85" fill="#b5b5b5"/><circle cx="120.8" cy="543.1" r="1.85" fill="#a2a2a2"/><circle cx="129.1" cy="520.2" r="1.85" fill="#868686"/><circle cx="135.3" cy="541.8" r="1.85" fill="#cbbeae"/><circle cx="188.8" cy="488.3" r="1.85" fill="#858585"/><circle cx="184.9" cy="525.0" r="1.85" fill="#959595"/><circle cx="125.7" cy="512.2" r="1.85" fill="#3e3e3e"/><circle cx="172.2" cy="479.9" r="1.85" fill="#1b1b1b"/><circle cx="138.5" cy="505.1" r="1.85" fill="#454545"/><circle cx="125.8" cy="544.2" r="1.85" fill="#4f4f4f"/><circle cx="181.5" cy="472.3" r="1.85" fill="#c7c1b9"/><circle cx="134.0" cy="510.2" r="1.85" fill="#c0c0c0"/><circle cx="130.2" cy="554.1" r="1.85" fill="#474747"/><circle cx="165.3" cy="528.8" r="1.85" fill="#454545"/><circle cx="184.0" cy="473.9" r="1.85" fill="#141414"/><circle cx="171.1" cy="509.2" r="1.85" fill="#898989"/><circle cx="149.0" cy="514.7" r="1.85" fill="#171717"/><circle cx="141.5" cy="523.5" r="1.85" fill="#1a1a1a"/><circle cx="177.7" cy="479.0" r="1.85" fill="#a6a6a6"/><circle cx="183.2" cy="493.1" r="1.85" fill="#737373"/><circle cx="127.8" cy="538.2" r="1.85" fill="#4d4d4d"/><circle cx="172.1" cy="503.6" r="1.85" fill="#0a0a0a"/><circle cx="137.1" cy="507.3" r="1.85" fill="#e9a754"/><circle cx="187.8" cy="529.7" r="1.85" fill="#cbbdad"/><circle cx="163.7" cy="508.5" r="1.85" fill="#717171"/><circle cx="145.9" cy="499.6" r="1.85" fill="#8e8e8e"/><circle cx="173.4" cy="528.7" r="1.85" fill="#515151"/><circle cx="177.1" cy="494.4" r="1.85" fill="#3e3e3e"/><circle cx="145.6" cy="526.5" r="1.85" fill="#2e2e2e"/><circle cx="168.3" cy="520.3" r="1.85" fill="#a1a1a1"/><circle cx="162.4" cy="523.5" r="1.85" fill="#0a0a0a"/><circle cx="155.9" cy="509.1" r="1.85" fill="#7b7b7b"/><circle cx="144.6" cy="515.8" r="1.85" fill="#555555"/><circle cx="145.4" cy="512.9" r="1.85" fill="#262626"/><circle cx="175.2" cy="520.2" r="1.85" fill="#e9a754"/><circle cx="154.1" cy="515.1" r="1.85" fill="#767676"/><circle cx="150.5" cy="495.6" r="1.85" fill="#5d5d5d"/><circle cx="123.5" cy="548.6" r="1.85" fill="#202020"/><circle cx="188.7" cy="512.6" r="1.85" fill="#202020"/><circle cx="153.6" cy="504.3" r="1.85" fill="#151515"/><circle cx="187.9" cy="473.9" r="1.85" fill="#707070"/><circle cx="142.9" cy="513.4" r="1.85" fill="#161616"/><circle cx="190.4" cy="508.4" r="1.85" fill="#bbbbbb"/><circle cx="127.6" cy="545.5" r="1.85" fill="#7c7c7c"/><circle cx="174.8" cy="480.1" r="1.85" fill="#161616"/><circle cx="133.2" cy="513.3" r="1.85" fill="#7a7a7a"/><circle cx="170.2" cy="504.4" r="1.85" fill="#cbbdad"/><circle cx="187.5" cy="486.4" r="1.85" fill="#a8a8a8"/><circle cx="130.0" cy="557.8" r="1.85" fill="#c5c2be"/><circle cx="170.4" cy="506.9" r="1.85" fill="#747474"/><circle cx="137.1" cy="513.9" r="1.85" fill="#777777"/><circle cx="178.3" cy="482.1" r="1.85" fill="#e2ac69"/><circle cx="176.2" cy="515.3" r="1.85" fill="#515151"/><circle cx="171.6" cy="523.4" r="1.85" fill="#e6a95e"/><circle cx="163.1" cy="492.3" r="1.85" fill="#2f2f2f"/><circle cx="170.0" cy="483.4" r="1.85" fill="#c8c0b5"/><circle cx="140.7" cy="535.8" r="1.85" fill="#3d3d3d"/><circle cx="158.9" cy="517.9" r="1.85" fill="#272727"/><circle cx="174.1" cy="522.0" r="1.85" fill="#3b3b3b"/><circle cx="127.6" cy="511.6" r="1.85" fill="#444444"/><circle cx="174.9" cy="477.7" r="1.85" fill="#cbbdad"/><circle cx="137.8" cy="540.6" r="1.85" fill="#b0b0b0"/><circle cx="185.2" cy="492.0" r="1.85" fill="#4f4f4f"/><circle cx="186.7" cy="468.0" r="1.85" fill="#252525"/><circle cx="153.7" cy="496.8" r="1.85" fill="#797979"/><circle cx="162.9" cy="525.5" r="1.85" fill="#494949"/><circle cx="119.5" cy="522.5" r="1.85" fill="#acacac"/><circle cx="188.1" cy="520.2" r="1.85" fill="#777777"/><circle cx="169.7" cy="470.6" r="1.85" fill="#7e7e7e"/><circle cx="120.7" cy="551.4" r="1.85" fill="#cbbdad"/><circle cx="130.7" cy="527.3" r="1.85" fill="#111111"/><circle cx="132.7" cy="554.7" r="1.85" fill="#e1ac6c"/><circle cx="180.4" cy="505.3" r="1.85" fill="#484848"/><circle cx="138.9" cy="518.2" r="1.85" fill="#4f4f4f"/><circle cx="140.7" cy="505.0" r="1.85" fill="#676767"/><circle cx="187.4" cy="477.0" r="1.85" fill="#cbbdad"/><circle cx="169.6" cy="475.3" r="1.85" fill="#696969"/><circle cx="164.9" cy="515.8" r="1.85" fill="#121212"/><circle cx="172.0" cy="521.4" r="1.85" fill="#1f1f1f"/><circle cx="146.4" cy="530.8" r="1.85" fill="#222222"/><circle cx="175.9" cy="502.8" r="1.85" fill="#393939"/><circle cx="165.9" cy="503.3" r="1.85" fill="#0e0e0e"/><circle cx="160.9" cy="498.1" r="1.85" fill="#616161"/><circle cx="175.3" cy="491.0" r="1.85" fill="#7b7b7b"/><circle cx="150.8" cy="524.1" r="1.85" fill="#909090"/><circle cx="159.9" cy="519.8" r="1.85" fill="#a0a0a0"/><circle cx="168.4" cy="502.6" r="1.85" fill="#393939"/><circle cx="192.4" cy="514.2" r="1.85" fill="#a8a8a8"/><circle cx="139.2" cy="500.6" r="1.85" fill="#525252"/><circle cx="140.4" cy="509.3" r="1.85" fill="#404040"/><circle cx="186.4" cy="526.8" r="1.85" fill="#191919"/><circle cx="163.3" cy="498.9" r="1.85" fill="#5e5e5e"/><circle cx="164.9" cy="505.1" r="1.85" fill="#808080"/><circle cx="167.8" cy="495.9" r="1.85" fill="#cbbdad"/><circle cx="120.2" cy="535.5" r="1.85" fill="#e4aa62"/><circle cx="167.5" cy="529.0" r="1.85" fill="#dfae73"/><circle cx="136.7" cy="546.5" r="1.85" fill="#4f4f4f"/><circle cx="133.1" cy="542.7" r="1.85" fill="#9e9e9e"/><circle cx="183.8" cy="482.6" r="1.85" fill="#a7a7a7"/><circle cx="142.5" cy="518.8" r="1.85" fill="#424242"/><circle cx="186.2" cy="518.2" r="1.85" fill="#0e0e0e"/><circle cx="161.2" cy="515.5" r="1.85" fill="#1d1d1d"/><circle cx="162.5" cy="495.0" r="1.85" fill="#9d9d9d"/><circle cx="158.7" cy="523.2" r="1.85" fill="#5a5a5a"/><circle cx="193.0" cy="500.7" r="1.85" fill="#303030"/><circle cx="186.6" cy="522.0" r="1.85" fill="#282828"/><circle cx="180.2" cy="518.0" r="1.85" fill="#989898"/><circle cx="140.4" cy="530.5" r="1.85" fill="#5d5d5d"/><circle cx="179.2" cy="524.1" r="1.85" fill="#afafaf"/><circle cx="185.5" cy="510.8" r="1.85" fill="#656565"/><circle cx="180.3" cy="481.2" r="1.85" fill="#ddaf78"/><circle cx="144.9" cy="532.6" r="1.85" fill="#191919"/><circle cx="183.3" cy="489.2" r="1.85" fill="#414141"/><circle cx="164.9" cy="479.1" r="1.85" fill="#767676"/><circle cx="188.7" cy="526.3" r="1.85" fill="#cbbdad"/><circle cx="130.6" cy="538.9" r="1.85" fill="#616161"/><circle cx="143.6" cy="501.3" r="1.85" fill="#1f1f1f"/><circle cx="139.5" cy="545.6" r="1.85" fill="#686868"/><circle cx="132.7" cy="535.1" r="1.85" fill="#6c6c6c"/><circle cx="130.8" cy="536.9" r="1.85" fill="#acacac"/><circle cx="148.9" cy="506.5" r="1.85" fill="#acacac"/><circle cx="145.3" cy="505.3" r="1.85" fill="#9e9e9e"/><circle cx="151.3" cy="493.7" r="1.85" fill="#292929"/><circle cx="131.4" cy="550.7" r="1.85" fill="#454545"/><circle cx="123.8" cy="540.3" r="1.85" fill="#2b2b2b"/><circle cx="135.9" cy="527.6" r="1.85" fill="#353535"/><circle cx="121.8" cy="519.5" r="1.85" fill="#efa241"/><circle cx="187.4" cy="491.3" r="1.85" fill="#b4b4b4"/><circle cx="169.7" cy="526.7" r="1.85" fill="#7e7e7e"/><circle cx="121.7" cy="540.8" r="1.85" fill="#cbbdad"/><circle cx="164.9" cy="522.1" r="1.85" fill="#474747"/><circle cx="152.7" cy="509.1" r="1.85" fill="#7e7e7e"/><circle cx="141.2" cy="538.5" r="1.85" fill="#0b0b0b"/><circle cx="185.6" cy="516.0" r="1.85" fill="#2a2a2a"/><circle cx="178.2" cy="503.7" r="1.85" fill="#cbbdad"/><circle cx="189.9" cy="505.5" r="1.85" fill="#595959"/><circle cx="153.6" cy="521.1" r="1.85" fill="#333333"/><circle cx="174.2" cy="504.8" r="1.85" fill="#8d8d8d"/><circle cx="172.1" cy="477.5" r="1.85" fill="#878787"/><circle cx="190.6" cy="493.9" r="1.85" fill="#a0a0a0"/><circle cx="165.5" cy="495.3" r="1.85" fill="#545454"/><circle cx="134.1" cy="545.0" r="1.85" fill="#ababab"/><circle cx="183.5" cy="470.2" r="1.85" fill="#989898"/><circle cx="179.5" cy="500.2" r="1.85" fill="#cbbdad"/><circle cx="185.7" cy="496.0" r="1.85" fill="#616161"/><circle cx="175.1" cy="482.6" r="1.85" fill="#464646"/><circle cx="168.1" cy="480.7" r="1.85" fill="#c0c0c0"/><circle cx="161.9" cy="509.4" r="1.85" fill="#959595"/><circle cx="188.6" cy="500.8" r="1.85" fill="#2b2b2b"/><circle cx="172.9" cy="471.6" r="1.85" fill="#c4c3c2"/><circle cx="131.7" cy="557.1" r="1.85" fill="#1e1e1e"/><circle cx="184.1" cy="468.1" r="1.85" fill="#929292"/><circle cx="189.3" cy="472.0" r="1.85" fill="#c3c3c3"/><circle cx="171.2" cy="517.4" r="1.85" fill="#9e9e9e"/><circle cx="185.9" cy="474.6" r="1.85" fill="#c4c3c2"/><circle cx="123.7" cy="533.5" r="1.85" fill="#292929"/><circle cx="129.9" cy="525.1" r="1.85" fill="#828282"/><circle cx="183.2" cy="495.9" r="1.85" fill="#3d3d3d"/><circle cx="183.1" cy="476.3" r="1.85" fill="#929292"/><circle cx="128.8" cy="549.9" r="1.85" fill="#aeaeae"/><circle cx="134.5" cy="530.5" r="1.85" fill="#8c8c8c"/><circle cx="177.4" cy="497.7" r="1.85" fill="#323232"/><circle cx="147.0" cy="532.8" r="1.85" fill="#3f3f3f"/><circle cx="190.7" cy="522.7" r="1.85" fill="#a4a4a4"/><circle cx="167.1" cy="516.4" r="1.85" fill="#eba54e"/><circle cx="155.2" cy="513.1" r="1.85" fill="#939393"/><circle cx="172.6" cy="490.2" r="1.85" fill="#212121"/><circle cx="184.2" cy="537.1" r="1.85" fill="#7d7d7d"/><circle cx="135.0" cy="501.5" r="1.85" fill="#959595"/><circle cx="179.3" cy="509.9" r="1.85" fill="#151515"/><circle cx="139.6" cy="513.9" r="1.85" fill="#cbbdad"/><circle cx="147.0" cy="496.9" r="1.85" fill="#3a3a3a"/><circle cx="125.8" cy="529.7" r="1.85" fill="#858585"/><circle cx="136.0" cy="538.0" r="1.85" fill="#676767"/><circle cx="177.4" cy="468.6" r="1.85" fill="#676767"/><circle cx="134.4" cy="517.2" r="1.85" fill="#5d5d5d"/><circle cx="130.0" cy="534.0" r="1.85" fill="#868686"/><circle cx="127.4" cy="517.6" r="1.85" fill="#9c9c9c"/><circle cx="190.9" cy="487.6" r="1.85" fill="#676767"/><circle cx="142.3" cy="516.3" r="1.85" fill="#aaaaaa"/><circle cx="129.4" cy="540.8" r="1.85" fill="#9f9f9f"/><circle cx="182.3" cy="528.0" r="1.85" fill="#7e7e7e"/><circle cx="129.8" cy="530.0" r="1.85" fill="#191919"/><circle cx="146.3" cy="521.1" r="1.85" fill="#727272"/><circle cx="177.2" cy="489.4" r="1.85" fill="#e2ac6a"/><circle cx="142.3" cy="496.6" r="1.85" fill="#484848"/><circle cx="165.2" cy="497.5" r="1.85" fill="#272727"/><circle cx="181.4" cy="525.0" r="1.85" fill="#6b6b6b"/><circle cx="133.7" cy="506.6" r="1.85" fill="#e2ac6b"/><circle cx="193.4" cy="498.7" r="1.85" fill="#c5c2bf"/><circle cx="135.3" cy="520.4" r="1.85" fill="#eea343"/><circle cx="143.8" cy="498.0" r="1.85" fill="#e2ac69"/><circle cx="176.5" cy="506.6" r="1.85" fill="#6c6c6c"/><circle cx="179.0" cy="488.1" r="1.85" fill="#bdbdbd"/><circle cx="176.2" cy="510.2" r="1.85" fill="#101010"/><circle cx="121.1" cy="523.4" r="1.85" fill="#464646"/><circle cx="151.8" cy="502.7" r="1.85" fill="#878787"/><circle cx="169.7" cy="528.8" r="1.85" fill="#787878"/><circle cx="124.4" cy="515.5" r="1.85" fill="#202020"/><circle cx="184.8" cy="501.1" r="1.85" fill="#494949"/><circle cx="187.6" cy="495.1" r="1.85" fill="#262626"/><circle cx="130.6" cy="516.5" r="1.85" fill="#ababab"/><circle cx="184.1" cy="522.7" r="1.85" fill="#cbbdad"/><circle cx="181.9" cy="484.2" r="1.85" fill="#cbbdad"/><circle cx="184.3" cy="498.4" r="1.85" fill="#474747"/><circle cx="119.9" cy="539.2" r="1.85" fill="#8e8e8e"/><circle cx="158.2" cy="506.9" r="1.85" fill="#414141"/><circle cx="192.0" cy="502.5" r="1.85" fill="#919191"/><circle cx="147.7" cy="526.2" r="1.85" fill="#1c1c1c"/><circle cx="148.1" cy="511.2" r="1.85" fill="#c0c0c0"/><circle cx="174.5" cy="485.3" r="1.85" fill="#cbbdad"/><circle cx="141.3" cy="501.8" r="1.85" fill="#8c8c8c"/><circle cx="122.6" cy="544.1" r="1.85" fill="#eca44a"/><circle cx="158.8" cy="497.7" r="1.85" fill="#0f0f0f"/><circle cx="186.5" cy="513.2" r="1.85" fill="#222222"/><circle cx="138.1" cy="502.8" r="1.85" fill="#8e8e8e"/><circle cx="162.6" cy="487.2" r="1.85" fill="#666666"/><circle cx="190.4" cy="475.3" r="1.85" fill="#e6a95d"/><circle cx="175.4" cy="495.9" r="1.85" fill="#a9a9a9"/><circle cx="123.3" cy="537.1" r="1.85" fill="#959595"/><circle cx="121.3" cy="548.1" r="1.85" fill="#cbbdad"/><circle cx="127.7" cy="514.4" r="1.85" fill="#c5c3c0"/><circle cx="185.8" cy="488.9" r="1.85" fill="#808080"/><circle cx="124.4" cy="517.5" r="1.85" fill="#a2a2a2"/><circle cx="188.2" cy="523.9" r="1.85" fill="#868686"/><circle cx="126.9" cy="524.6" r="1.85" fill="#494949"/><circle cx="171.8" cy="526.7" r="1.85" fill="#cbbdad"/><circle cx="127.3" cy="541.0" r="1.85" fill="#828282"/><circle cx="153.6" cy="498.3" r="1.85" fill="#9d9d9d"/><circle cx="179.2" cy="467.7" r="1.85" fill="#616161"/><circle cx="168.0" cy="478.6" r="1.85" fill="#111111"/><circle cx="134.0" cy="540.0" r="1.85" fill="#7f7f7f"/><circle cx="148.9" cy="509.0" r="1.85" fill="#323232"/><circle cx="148.3" cy="528.8" r="1.85" fill="#5f5f5f"/><circle cx="155.1" cy="501.4" r="1.85" fill="#202020"/><circle cx="158.5" cy="509.1" r="1.85" fill="#333333"/><circle cx="134.2" cy="536.9" r="1.85" fill="#565656"/><circle cx="171.9" cy="482.0" r="1.85" fill="#606060"/><circle cx="183.8" cy="487.1" r="1.85" fill="#7c7c7c"/><circle cx="178.4" cy="470.8" r="1.85" fill="#1f1f1f"/><circle cx="173.8" cy="524.6" r="1.85" fill="#a6a6a6"/><circle cx="151.5" cy="502.4" r="1.85" fill="#333333"/><circle cx="188.6" cy="534.6" r="1.85" fill="#161616"/><circle cx="138.1" cy="538.5" r="1.85" fill="#adadad"/><circle cx="168.7" cy="488.9" r="1.85" fill="#4e4e4e"/><circle cx="142.1" cy="532.0" r="1.85" fill="#2c2c2c"/><circle cx="132.5" cy="521.9" r="1.85" fill="#878787"/><circle cx="191.2" cy="490.5" r="1.85" fill="#101010"/><circle cx="154.9" cy="524.4" r="1.85" fill="#eea342"/><circle cx="139.0" cy="533.4" r="1.85" fill="#cbbdad"/><circle cx="157.3" cy="519.0" r="1.85" fill="#cbbdad"/><circle cx="175.0" cy="469.8" r="1.85" fill="#898989"/><circle cx="158.8" cy="511.5" r="1.85" fill="#303030"/><circle cx="159.8" cy="522.9" r="1.85" fill="#3b3b3b"/><circle cx="173.7" cy="498.1" r="1.85" fill="#eba54f"/><circle cx="147.9" cy="493.9" r="1.85" fill="#767676"/><circle cx="144.9" cy="495.0" r="1.85" fill="#cbbdad"/><circle cx="129.1" cy="543.5" r="1.85" fill="#737373"/><circle cx="186.4" cy="499.1" r="1.85" fill="#626262"/><circle cx="156.1" cy="521.3" r="1.85" fill="#838383"/><circle cx="168.8" cy="510.1" r="1.85" fill="#898989"/><circle cx="124.4" cy="527.4" r="1.85" fill="#bbbbbb"/><circle cx="126.6" cy="532.4" r="1.85" fill="#858585"/><circle cx="178.2" cy="516.9" r="1.85" fill="#1d1d1d"/><circle cx="187.3" cy="484.3" r="1.85" fill="#525252"/><circle cx="184.0" cy="531.0" r="1.85" fill="#0f0f0f"/><circle cx="142.8" cy="521.6" r="1.85" fill="#929292"/><circle cx="166.7" cy="523.5" r="1.85" fill="#0f0f0f"/><circle cx="178.3" cy="507.6" r="1.85" fill="#181818"/><circle cx="178.0" cy="474.1" r="1.85" fill="#575757"/><circle cx="156.3" cy="516.9" r="1.85" fill="#101010"/><circle cx="174.6" cy="474.8" r="1.85" fill="#c6c1bb"/><circle cx="132.6" cy="528.1" r="1.85" fill="#8e8e8e"/><circle cx="170.0" cy="511.8" r="1.85" fill="#242424"/><circle cx="167.8" cy="525.6" r="1.85" fill="#626262"/><circle cx="190.9" cy="519.9" r="1.85" fill="#585858"/><circle cx="185.4" cy="505.5" r="1.85" fill="#969696"/><circle cx="137.0" cy="501.0" r="1.85" fill="#aeaeae"/><circle cx="186.4" cy="503.5" r="1.85" fill="#181818"/><circle cx="128.4" cy="555.0" r="1.85" fill="#cbbdad"/><circle cx="137.8" cy="543.7" r="1.85" fill="#cbbdad"/><circle cx="165.5" cy="517.7" r="1.85" fill="#2d2d2d"/><circle cx="156.2" cy="507.0" r="1.85" fill="#121212"/><circle cx="189.4" cy="502.7" r="1.85" fill="#454545"/><circle cx="126.0" cy="553.7" r="1.85" fill="#686868"/><circle cx="135.6" cy="532.4" r="1.85" fill="#eda447"/><circle cx="179.2" cy="491.4" r="1.85" fill="#727272"/><circle cx="181.8" cy="502.4" r="1.85" fill="#8b8b8b"/><circle cx="169.7" cy="500.3" r="1.85" fill="#bdbdbd"/><circle cx="129.3" cy="552.1" r="1.85" fill="#575757"/><circle cx="153.3" cy="511.4" r="1.85" fill="#545454"/><circle cx="129.6" cy="508.9" r="1.85" fill="#bababa"/><circle cx="136.1" cy="535.1" r="1.85" fill="#727272"/><circle cx="123.1" cy="520.8" r="1.85" fill="#4d4d4d"/><circle cx="195.0" cy="490.4" r="1.85" fill="#414141"/><circle cx="135.0" cy="554.8" r="1.85" fill="#636363"/><circle cx="184.9" cy="478.5" r="1.85" fill="#eda449"/><circle cx="137.8" cy="510.7" r="1.85" fill="#919191"/><circle cx="163.5" cy="517.4" r="1.85" fill="#4b4b4b"/><circle cx="188.0" cy="481.7" r="1.85" fill="#3c3c3c"/><circle cx="167.8" cy="511.9" r="1.85" fill="#525252"/><circle cx="171.6" cy="485.2" r="1.85" fill="#111111"/><circle cx="145.4" cy="502.7" r="1.85" fill="#a8a8a8"/><circle cx="161.6" cy="484.7" r="1.85" fill="#141414"/><circle cx="119.7" cy="539.6" r="1.85" fill="#bfbfbf"/><circle cx="151.3" cy="514.7" r="1.85" fill="#2a2a2a"/><circle cx="138.7" cy="536.4" r="1.85" fill="#cbbdad"/><circle cx="166.5" cy="486.0" r="1.85" fill="#424242"/><circle cx="124.5" cy="523.7" r="1.85" fill="#4d4d4d"/><circle cx="141.5" cy="528.2" r="1.85" fill="#121212"/><circle cx="159.0" cy="503.6" r="1.85" fill="#383838"/><circle cx="144.3" cy="510.4" r="1.85" fill="#1c1c1c"/><circle cx="149.2" cy="521.3" r="1.85" fill="#2b2b2b"/><circle cx="183.1" cy="506.0" r="1.85" fill="#404040"/><circle cx="157.3" cy="514.0" r="1.85" fill="#717171"/><circle cx="185.6" cy="528.9" r="1.85" fill="#313131"/><circle cx="138.4" cy="498.1" r="1.85" fill="#676767"/><circle cx="160.8" cy="506.4" r="1.85" fill="#151515"/><circle cx="181.0" cy="490.2" r="1.85" fill="#a4a4a4"/><circle cx="131.7" cy="546.9" r="1.85" fill="#c1c1c1"/><circle cx="181.8" cy="468.6" r="1.85" fill="#dbb17f"/><circle cx="163.9" cy="485.0" r="1.85" fill="#6c6c6c"/><circle cx="123.0" cy="546.3" r="1.85" fill="#515151"/><circle cx="150.0" cy="517.8" r="1.85" fill="#464646"/><circle cx="181.0" cy="514.4" r="1.85" fill="#c2c2c2"/><circle cx="121.7" cy="533.2" r="1.85" fill="#8c8c8c"/><circle cx="142.8" cy="525.2" r="1.85" fill="#353535"/><circle cx="180.5" cy="530.6" r="1.85" fill="#515151"/><circle cx="130.0" cy="522.6" r="1.85" fill="#9b9b9b"/><circle cx="166.5" cy="488.5" r="1.85" fill="#cbbdad"/><circle cx="181.8" cy="497.3" r="1.85" fill="#1a1a1a"/><circle cx="189.0" cy="496.6" r="1.85" fill="#404040"/><circle cx="174.9" cy="493.6" r="1.85" fill="#ababab"/><circle cx="173.3" cy="519.3" r="1.85" fill="#3d3d3d"/><circle cx="193.3" cy="492.1" r="1.85" fill="#0b0b0b"/><circle cx="169.7" cy="522.1" r="1.85" fill="#ddb079"/><circle cx="161.8" cy="513.0" r="1.85" fill="#2e2e2e"/><circle cx="191.4" cy="481.6" r="1.85" fill="#a2a2a2"/><circle cx="168.2" cy="505.2" r="1.85" fill="#3a3a3a"/><circle cx="135.3" cy="504.8" r="1.85" fill="#6e6e6e"/><circle cx="180.7" cy="475.6" r="1.85" fill="#131313"/><circle cx="177.3" cy="529.9" r="1.85" fill="#343434"/><circle cx="182.2" cy="512.5" r="1.85" fill="#0e0e0e"/><circle cx="155.7" cy="503.7" r="1.85" fill="#747474"/><circle cx="173.4" cy="508.3" r="1.85" fill="#cbbeaf"/><circle cx="176.4" cy="512.7" r="1.85" fill="#1d1d1d"/><circle cx="135.6" cy="549.3" r="1.85" fill="#6d6d6d"/><circle cx="192.8" cy="483.4" r="1.85" fill="#989898"/><circle cx="121.2" cy="529.2" r="1.85" fill="#3c3c3c"/><circle cx="131.7" cy="531.7" r="1.85" fill="#383838"/><circle cx="172.2" cy="500.6" r="1.85" fill="#888888"/><circle cx="148.0" cy="500.1" r="1.85" fill="#cbbdad"/><circle cx="170.2" cy="498.3" r="1.85" fill="#3b3b3b"/><circle cx="179.3" cy="513.2" r="1.85" fill="#8b8b8b"/><circle cx="172.0" cy="514.5" r="1.85" fill="#4e4e4e"/><circle cx="190.4" cy="516.4" r="1.85" fill="#343434"/><circle cx="151.9" cy="505.8" r="1.85" fill="#959595"/><circle cx="191.1" cy="477.6" r="1.85" fill="#cbbdad"/><circle cx="163.3" cy="502.6" r="1.85" fill="#2c2c2c"/><circle cx="173.5" cy="487.4" r="1.85" fill="#6c6c6c"/><circle cx="165.1" cy="513.5" r="1.85" fill="#464646"/><circle cx="191.4" cy="497.0" r="1.85" fill="#bdbdbd"/><circle cx="125.8" cy="550.7" r="1.85" fill="#1d1d1d"/><circle cx="192.8" cy="486.4" r="1.85" fill="#676767"/><circle cx="136.8" cy="530.8" r="1.85" fill="#a8a8a8"/><circle cx="166.5" cy="499.3" r="1.85" fill="#141414"/><circle cx="166.9" cy="509.4" r="1.85" fill="#757575"/><circle cx="159.8" cy="501.7" r="1.85" fill="#0b0b0b"/><circle cx="178.5" cy="527.2" r="1.85" fill="#666666"/><circle cx="183.0" cy="509.6" r="1.85" fill="#0c0c0c"/><circle cx="120.3" cy="520.3" r="1.85" fill="#858585"/><circle cx="167.2" cy="476.7" r="1.85" fill="#e0ad6e"/><circle cx="165.0" cy="510.5" r="1.85" fill="#434343"/><circle cx="176.8" cy="487.2" r="1.85" fill="#252525"/><circle cx="146.4" cy="508.4" r="1.85" fill="#4c4c4c"/><circle cx="138.1" cy="524.9" r="1.85" fill="#545454"/><circle cx="142.2" cy="511.1" r="1.85" fill="#eca44a"/><circle cx="125.5" cy="535.5" r="1.85" fill="#636363"/><circle cx="165.4" cy="482.0" r="1.85" fill="#828282"/><circle cx="165.2" cy="493.2" r="1.85" fill="#686868"/><circle cx="144.5" cy="523.1" r="1.85" fill="#141414"/><circle cx="175.2" cy="472.3" r="1.85" fill="#3f3f3f"/><circle cx="180.3" cy="521.4" r="1.85" fill="#cbbdad"/><circle cx="188.2" cy="507.3" r="1.85" fill="#616161"/><circle cx="134.1" cy="548.0" r="1.85" fill="#cbbdad"/><circle cx="160.5" cy="495.4" r="1.85" fill="#565656"/><circle cx="184.1" cy="517.7" r="1.85" fill="#464646"/><circle cx="173.7" cy="511.1" r="1.85" fill="#adadad"/><circle cx="194.9" cy="503.0" r="1.85" fill="#a4a4a4"/><circle cx="136.5" cy="523.4" r="1.85" fill="#2d2d2d"/><circle cx="129.0" cy="557.1" r="1.85" fill="#919191"/><circle cx="136.0" cy="551.8" r="1.85" fill="#292929"/><circle cx="179.3" cy="484.4" r="1.85" fill="#cbbdad"/><circle cx="176.9" cy="485.1" r="1.85" fill="#141414"/><circle cx="173.1" cy="516.3" r="1.85" fill="#111111"/><circle cx="186.7" cy="508.8" r="1.85" fill="#616161"/><circle cx="143.3" cy="506.7" r="1.85" fill="#828282"/><circle cx="130.2" cy="511.6" r="1.85" fill="#6c6c6c"/><circle cx="152.0" cy="517.1" r="1.85" fill="#0f0f0f"/><circle cx="169.6" cy="472.9" r="1.85" fill="#3a3a3a"/><circle cx="184.9" cy="520.7" r="1.85" fill="#111111"/><circle cx="196.4" cy="494.2" r="1.85" fill="#7e7e7e"/><circle cx="138.7" cy="547.5" r="1.85" fill="#232323"/><circle cx="191.1" cy="499.1" r="1.85" fill="#161616"/><circle cx="167.2" cy="483.5" r="1.85" fill="#dfae72"/><circle cx="175.9" cy="531.9" r="1.85" fill="#b0b0b0"/><circle cx="188.7" cy="479.3" r="1.85" fill="#0e0e0e"/><circle cx="127.7" cy="527.3" r="1.85" fill="#696969"/><circle cx="138.5" cy="520.6" r="1.85" fill="#696969"/><circle cx="171.8" cy="496.0" r="1.85" fill="#4b4b4b"/><circle cx="178.0" cy="519.7" r="1.85" fill="#151515"/><circle cx="139.8" cy="516.0" r="1.85" fill="#656565"/><circle cx="138.0" cy="549.9" r="1.85" fill="#404040"/><circle cx="164.1" cy="480.3" r="1.85" fill="#292929"/><circle cx="170.3" cy="486.9" r="1.85" fill="#e0ad6e"/><circle cx="175.3" cy="526.8" r="1.85" fill="#2d2d2d"/><circle cx="163.2" cy="506.2" r="1.85" fill="#171717"/><circle cx="170.0" cy="515.4" r="1.85" fill="#a9a9a9"/><circle cx="138.2" cy="527.3" r="1.85" fill="#141414"/><circle cx="150.4" cy="511.1" r="1.85" fill="#6e6e6e"/><circle cx="187.1" cy="470.6" r="1.85" fill="#232323"/><circle cx="130.7" cy="559.5" r="1.85" fill="#b7b7b7"/><circle cx="165.6" cy="526.8" r="1.85" fill="#626262"/><circle cx="169.6" cy="494.9" r="1.85" fill="#414141"/><circle cx="148.3" cy="503.2" r="1.85" fill="#292929"/></g>
<g><circle cx="250.7" cy="521.9" r="1.85" fill="#7f7f7f"/><circle cx="239.7" cy="507.4" r="1.85" fill="#e0ad6f"/><circle cx="250.0" cy="500.2" r="1.85" fill="#565656"/><circle cx="208.2" cy="545.7" r="1.85" fill="#e9a754"/><circle cx="260.5" cy="484.1" r="1.85" fill="#373737"/><circle cx="205.5" cy="549.8" r="1.85" fill="#ababab"/><circle cx="211.8" cy="545.0" r="1.85" fill="#9a9a9a"/><circle cx="231.9" cy="514.0" r="1.85" fill="#dab281"/><circle cx="272.7" cy="531.6" r="1.85" fill="#d4b692"/><circle cx="207.5" cy="524.6" r="1.85" fill="#c1c1c1"/><circle cx="254.6" cy="475.5" r="1.85" fill="#6a6a6a"/><circle cx="258.7" cy="515.1" r="1.85" fill="#eaa651"/><circle cx="214.9" cy="514.1" r="1.85" fill="#c8c0b6"/><circle cx="239.6" cy="520.3" r="1.85" fill="#d8b387"/><circle cx="278.3" cy="494.9" r="1.85" fill="#545454"/><circle cx="275.7" cy="529.0" r="1.85" fill="#c3c3c3"/><circle cx="245.9" cy="506.4" r="1.85" fill="#cfbaa1"/><circle cx="271.1" cy="469.8" r="1.85" fill="#707070"/><circle cx="216.0" cy="536.7" r="1.85" fill="#a6a6a6"/><circle cx="237.7" cy="522.1" r="1.85" fill="#f0a13c"/><circle cx="250.3" cy="527.0" r="1.85" fill="#d2b898"/><circle cx="262.1" cy="491.5" r="1.85" fill="#929292"/><circle cx="236.5" cy="519.9" r="1.85" fill="#c0c0c0"/><circle cx="258.1" cy="503.7" r="1.85" fill="#d4b694"/><circle cx="252.1" cy="483.2" r="1.85" fill="#303030"/><circle cx="209.0" cy="514.5" r="1.85" fill="#bbbbbb"/><circle cx="215.7" cy="540.4" r="1.85" fill="#bababa"/><circle cx="226.1" cy="511.2" r="1.85" fill="#e4aa63"/><circle cx="256.4" cy="481.8" r="1.85" fill="#dab181"/><circle cx="269.6" cy="476.5" r="1.85" fill="#aeaeae"/><circle cx="248.8" cy="489.7" r="1.85" fill="#a9a9a9"/><circle cx="214.3" cy="537.8" r="1.85" fill="#a6a6a6"/><circle cx="208.1" cy="522.6" r="1.85" fill="#b9b9b9"/><circle cx="231.8" cy="519.8" r="1.85" fill="#4c4c4c"/><circle cx="231.2" cy="517.0" r="1.85" fill="#bababa"/><circle cx="275.0" cy="496.6" r="1.85" fill="#7c7c7c"/><circle cx="278.0" cy="478.8" r="1.85" fill="#c5c2c0"/><circle cx="220.2" cy="511.9" r="1.85" fill="#dcb07c"/><circle cx="209.2" cy="541.1" r="1.85" fill="#d0b99e"/><circle cx="270.8" cy="478.5" r="1.85" fill="#2a2a2a"/><circle cx="281.6" cy="503.3" r="1.85" fill="#888888"/><circle cx="250.0" cy="503.2" r="1.85" fill="#c7c1ba"/><circle cx="254.3" cy="498.9" r="1.85" fill="#e2ac68"/><circle cx="259.6" cy="507.5" r="1.85" fill="#d0baa0"/><circle cx="248.2" cy="509.8" r="1.85" fill="#9c9c9c"/><circle cx="251.2" cy="511.3" r="1.85" fill="#cdbca9"/><circle cx="209.0" cy="548.9" r="1.85" fill="#dcb07c"/><circle cx="276.5" cy="493.7" r="1.85" fill="#5b5b5b"/><circle cx="272.4" cy="487.7" r="1.85" fill="#bebebe"/><circle cx="267.0" cy="494.8" r="1.85" fill="#929292"/><circle cx="216.9" cy="532.6" r="1.85" fill="#c4c3c2"/><circle cx="258.9" cy="526.0" r="1.85" fill="#9d9d9d"/><circle cx="210.4" cy="540.8" r="1.85" fill="#c5c2be"/><circle cx="204.5" cy="539.4" r="1.85" fill="#b2b2b2"/><circle cx="229.2" cy="535.9" r="1.85" fill="#c6c2bd"/><circle cx="270.2" cy="500.4" r="1.85" fill="#8e8e8e"/><circle cx="266.7" cy="505.2" r="1.85" fill="#797979"/><circle cx="223.7" cy="529.1" r="1.85" fill="#999999"/><circle cx="255.7" cy="489.6" r="1.85" fill="#d1b99c"/><circle cx="258.7" cy="491.7" r="1.85" fill="#c9bfb4"/><circle cx="230.9" cy="505.1" r="1.85" fill="#ccbcaa"/><circle cx="243.2" cy="523.3" r="1.85" fill="#191919"/><circle cx="268.8" cy="491.4" r="1.85" fill="#888888"/><circle cx="229.7" cy="521.9" r="1.85" fill="#a5a5a5"/><circle cx="238.2" cy="516.1" r="1.85" fill="#5f5f5f"/><circle cx="223.0" cy="537.0" r="1.85" fill="#dcb07b"/><circle cx="276.2" cy="512.3" r="1.85" fill="#aaaaaa"/><circle cx="217.5" cy="534.9" r="1.85" fill="#deaf77"/><circle cx="267.5" cy="512.2" r="1.85" fill="#b7b7b7"/><circle cx="245.9" cy="525.1" r="1.85" fill="#383838"/><circle cx="259.1" cy="477.4" r="1.85" fill="#909090"/><circle cx="214.4" cy="557.8" r="1.85" fill="#a5a5a5"/><circle cx="275.7" cy="475.2" r="1.85" fill="#9a9a9a"/><circle cx="239.7" cy="503.9" r="1.85" fill="#dab282"/><circle cx="219.5" cy="519.9" r="1.85" fill="#989898"/><circle cx="260.6" cy="495.8" r="1.85" fill="#d9b284"/><circle cx="225.2" cy="505.4" r="1.85" fill="#b8b8b8"/><circle cx="251.2" cy="530.0" r="1.85" fill="#a4a4a4"/><circle cx="223.8" cy="508.3" r="1.85" fill="#888888"/><circle cx="271.0" cy="527.3" r="1.85" fill="#cbbdae"/><circle cx="279.9" cy="499.7" r="1.85" fill="#4a4a4a"/><circle cx="252.4" cy="487.2" r="1.85" fill="#c3c3c3"/><circle cx="239.5" cy="501.4" r="1.85" fill="#d1b89b"/><circle cx="262.2" cy="494.4" r="1.85" fill="#aaaaaa"/><circle cx="217.4" cy="517.0" r="1.85" fill="#afafaf"/><circle cx="273.3" cy="470.8" r="1.85" fill="#898989"/><circle cx="280.0" cy="497.2" r="1.85" fill="#d5b591"/><circle cx="260.4" cy="529.0" r="1.85" fill="#e1ad6e"/><circle cx="233.4" cy="500.5" r="1.85" fill="#c4c3c2"/><circle cx="235.9" cy="503.0" r="1.85" fill="#a2a2a2"/><circle cx="277.5" cy="481.3" r="1.85" fill="#c8c0b7"/><circle cx="244.8" cy="512.5" r="1.85" fill="#ddaf78"/><circle cx="207.0" cy="511.1" r="1.85" fill="#464646"/><circle cx="275.6" cy="517.0" r="1.85" fill="#e4aa64"/><circle cx="274.5" cy="507.4" r="1.85" fill="#eda449"/><circle cx="261.4" cy="522.5" r="1.85" fill="#939393"/><circle cx="278.1" cy="519.7" r="1.85" fill="#d1b99d"/><circle cx="240.6" cy="515.8" r="1.85" fill="#979797"/><circle cx="278.6" cy="491.7" r="1.85" fill="#e6a95c"/><circle cx="265.2" cy="507.1" r="1.85" fill="#d9b284"/><circle cx="242.2" cy="508.3" r="1.85" fill="#a6a6a6"/><circle cx="216.2" cy="520.5" r="1.85" fill="#dab282"/><circle cx="252.5" cy="503.4" r="1.85" fill="#858585"/><circle cx="264.5" cy="476.7" r="1.85" fill="#434343"/><circle cx="255.8" cy="521.4" r="1.85" fill="#444444"/><circle cx="207.9" cy="519.1" r="1.85" fill="#1c1c1c"/><circle cx="248.2" cy="495.4" r="1.85" fill="#d7b48c"/><circle cx="232.7" cy="497.7" r="1.85" fill="#e3ab67"/><circle cx="255.5" cy="487.2" r="1.85" fill="#cebba5"/><circle cx="220.6" cy="533.8" r="1.85" fill="#454545"/><circle cx="226.7" cy="507.5" r="1.85" fill="#161616"/><circle cx="234.2" cy="509.1" r="1.85" fill="#e7a95c"/><circle cx="272.8" cy="493.5" r="1.85" fill="#c9bfb5"/><circle cx="272.2" cy="535.1" r="1.85" fill="#939393"/><circle cx="273.4" cy="509.1" r="1.85" fill="#c1c1c1"/><circle cx="269.4" cy="508.7" r="1.85" fill="#d9b386"/><circle cx="209.2" cy="555.7" r="1.85" fill="#909090"/><circle cx="271.2" cy="522.1" r="1.85" fill="#a9a9a9"/><circle cx="258.9" cy="488.3" r="1.85" fill="#ddb07a"/><circle cx="224.2" cy="525.9" r="1.85" fill="#8b8b8b"/><circle cx="231.6" cy="502.0" r="1.85" fill="#737373"/><circle cx="234.1" cy="523.5" r="1.85" fill="#acacac"/><circle cx="222.2" cy="522.4" r="1.85" fill="#a3a3a3"/><circle cx="229.8" cy="499.7" r="1.85" fill="#d1b99d"/><circle cx="263.2" cy="508.5" r="1.85" fill="#969696"/><circle cx="255.8" cy="507.9" r="1.85" fill="#a2a2a2"/><circle cx="268.6" cy="472.1" r="1.85" fill="#c6c2bd"/><circle cx="271.1" cy="506.9" r="1.85" fill="#818181"/><circle cx="231.1" cy="523.6" r="1.85" fill="#eea342"/><circle cx="210.3" cy="529.4" r="1.85" fill="#bebebe"/><circle cx="257.9" cy="488.6" r="1.85" fill="#888888"/><circle cx="220.7" cy="527.2" r="1.85" fill="#c5c3c0"/><circle cx="249.9" cy="493.3" r="1.85" fill="#ddb079"/><circle cx="269.0" cy="484.9" r="1.85" fill="#e7a85a"/><circle cx="227.8" cy="537.7" r="1.85" fill="#cfbba3"/><circle cx="235.3" cy="511.9" r="1.85" fill="#484848"/><circle cx="217.4" cy="547.5" r="1.85" fill="#e8a857"/><circle cx="202.5" cy="538.5" r="1.85" fill="#b9b9b9"/><circle cx="265.4" cy="473.8" r="1.85" fill="#a9a9a9"/><circle cx="212.7" cy="508.6" r="1.85" fill="#929292"/><circle cx="247.9" cy="524.3" r="1.85" fill="#bababa"/><circle cx="232.8" cy="511.3" r="1.85" fill="#ccbdab"/><circle cx="274.0" cy="483.7" r="1.85" fill="#cbbdae"/><circle cx="276.5" cy="521.4" r="1.85" fill="#d1b89b"/><circle cx="223.0" cy="504.0" r="1.85" fill="#9c9c9c"/><circle cx="218.3" cy="524.2" r="1.85" fill="#8e8e8e"/><circle cx="229.0" cy="538.3" r="1.85" fill="#6e6e6e"/><circle cx="255.9" cy="510.5" r="1.85" fill="#111111"/><circle cx="205.3" cy="519.4" r="1.85" fill="#8c8c8c"/><circle cx="202.9" cy="532.6" r="1.85" fill="#b1b1b1"/><circle cx="265.2" cy="527.0" r="1.85" fill="#5d5d5d"/><circle cx="203.4" cy="536.2" r="1.85" fill="#e5aa60"/><circle cx="227.4" cy="499.5" r="1.85" fill="#bebebe"/><circle cx="211.9" cy="557.6" r="1.85" fill="#575757"/><circle cx="226.1" cy="535.6" r="1.85" fill="#858585"/><circle cx="237.2" cy="506.1" r="1.85" fill="#adadad"/><circle cx="254.9" cy="527.4" r="1.85" fill="#d5b691"/><circle cx="277.3" cy="486.4" r="1.85" fill="#d3b796"/><circle cx="257.1" cy="474.3" r="1.85" fill="#cdbca7"/><circle cx="260.9" cy="473.6" r="1.85" fill="#d8b387"/><circle cx="269.7" cy="511.9" r="1.85" fill="#dab181"/><circle cx="221.8" cy="524.7" r="1.85" fill="#deaf77"/><circle cx="212.6" cy="517.1" r="1.85" fill="#a7a7a7"/><circle cx="210.0" cy="532.5" r="1.85" fill="#d8b389"/><circle cx="263.5" cy="517.5" r="1.85" fill="#f0a138"/><circle cx="204.7" cy="552.0" r="1.85" fill="#828282"/><circle cx="218.5" cy="539.8" r="1.85" fill="#4e4e4e"/><circle cx="237.7" cy="516.2" r="1.85" fill="#cfbaa2"/><circle cx="281.2" cy="491.3" r="1.85" fill="#e4aa63"/><circle cx="230.1" cy="515.1" r="1.85" fill="#c6c1bb"/><circle cx="259.5" cy="520.0" r="1.85" fill="#bfbfbf"/><circle cx="270.9" cy="485.8" r="1.85" fill="#cabeb1"/><circle cx="265.7" cy="523.5" r="1.85" fill="#c4c3c2"/><circle cx="264.1" cy="470.7" r="1.85" fill="#cabeb0"/><circle cx="214.5" cy="518.5" r="1.85" fill="#2a2a2a"/><circle cx="222.8" cy="531.7" r="1.85" fill="#d5b692"/><circle cx="205.9" cy="532.5" r="1.85" fill="#c9bfb4"/><circle cx="246.8" cy="515.3" r="1.85" fill="#bfbfbf"/><circle cx="243.0" cy="502.3" r="1.85" fill="#838383"/><circle cx="252.5" cy="522.9" r="1.85" fill="#a9a9a9"/><circle cx="246.0" cy="496.8" r="1.85" fill="#818181"/><circle cx="267.7" cy="517.0" r="1.85" fill="#8b8b8b"/><circle cx="255.2" cy="501.2" r="1.85" fill="#ccbdac"/><circle cx="207.6" cy="530.1" r="1.85" fill="#eba54d"/><circle cx="264.0" cy="529.3" r="1.85" fill="#313131"/><circle cx="260.8" cy="489.9" r="1.85" fill="#3f3f3f"/><circle cx="226.6" cy="529.0" r="1.85" fill="#5c5c5c"/><circle cx="248.1" cy="528.2" r="1.85" fill="#c9bfb4"/><circle cx="236.0" cy="499.9" r="1.85" fill="#eba54d"/><circle cx="212.4" cy="538.9" r="1.85" fill="#cabeb1"/><circle cx="254.6" cy="524.1" r="1.85" fill="#8b8b8b"/><circle cx="211.8" cy="514.3" r="1.85" fill="#dfae74"/><circle cx="225.2" cy="514.2" r="1.85" fill="#8a8a8a"/><circle cx="258.5" cy="523.8" r="1.85" fill="#d0baa0"/><circle cx="218.4" cy="528.0" r="1.85" fill="#bfbfbf"/><circle cx="269.0" cy="505.5" r="1.85" fill="#cabfb2"/><circle cx="235.5" cy="497.1" r="1.85" fill="#1c1c1c"/><circle cx="258.3" cy="530.3" r="1.85" fill="#cebba6"/><circle cx="201.8" cy="548.4" r="1.85" fill="#cbbeaf"/><circle cx="256.7" cy="524.8" r="1.85" fill="#a1a1a1"/><circle cx="244.0" cy="507.1" r="1.85" fill="#e1ad6d"/><circle cx="221.9" cy="510.5" r="1.85" fill="#e1ac6c"/><circle cx="268.9" cy="502.7" r="1.85" fill="#c9bfb5"/><circle cx="277.9" cy="489.1" r="1.85" fill="#d8b388"/><circle cx="220.9" cy="518.3" r="1.85" fill="#b4b4b4"/><circle cx="208.6" cy="527.6" r="1.85" fill="#ddaf78"/><circle cx="250.4" cy="513.9" r="1.85" fill="#c0c0c0"/><circle cx="275.3" cy="503.1" r="1.85" fill="#c6c1bb"/><circle cx="257.7" cy="505.9" r="1.85" fill="#181818"/><circle cx="212.0" cy="519.3" r="1.85" fill="#bcbcbc"/><circle cx="233.0" cy="517.9" r="1.85" fill="#e6a95d"/><circle cx="239.9" cy="512.5" r="1.85" fill="#c4c3c3"/><circle cx="269.9" cy="529.2" r="1.85" fill="#dab282"/><circle cx="268.5" cy="496.7" r="1.85" fill="#cdbca8"/><circle cx="272.8" cy="520.5" r="1.85" fill="#d1b89b"/><circle cx="202.7" cy="518.3" r="1.85" fill="#e6a95d"/><circle cx="251.3" cy="505.8" r="1.85" fill="#7f7f7f"/><circle cx="221.9" cy="551.1" r="1.85" fill="#c8c0b6"/><circle cx="222.0" cy="546.6" r="1.85" fill="#c2c2c2"/><circle cx="253.9" cy="513.6" r="1.85" fill="#eaa650"/><circle cx="272.5" cy="499.5" r="1.85" fill="#d3b797"/><circle cx="259.0" cy="494.3" r="1.85" fill="#b3b3b3"/><circle cx="213.0" cy="534.7" r="1.85" fill="#c9bfb5"/><circle cx="251.0" cy="516.2" r="1.85" fill="#8d8d8d"/><circle cx="277.9" cy="499.1" r="1.85" fill="#dfae72"/><circle cx="269.2" cy="523.4" r="1.85" fill="#c1c1c1"/><circle cx="258.8" cy="510.4" r="1.85" fill="#767676"/><circle cx="224.8" cy="500.2" r="1.85" fill="#cebba5"/><circle cx="267.2" cy="474.9" r="1.85" fill="#e5aa61"/><circle cx="263.5" cy="496.4" r="1.85" fill="#535353"/><circle cx="253.7" cy="505.9" r="1.85" fill="#9c9c9c"/><circle cx="209.5" cy="544.1" r="1.85" fill="#969696"/><circle cx="206.5" cy="528.1" r="1.85" fill="#8d8d8d"/><circle cx="276.2" cy="510.2" r="1.85" fill="#c8c0b6"/><circle cx="271.0" cy="495.7" r="1.85" fill="#d7b48b"/><circle cx="256.8" cy="517.7" r="1.85" fill="#d0b99f"/><circle cx="272.8" cy="528.8" r="1.85" fill="#c2c2c2"/><circle cx="236.7" cy="524.9" r="1.85" fill="#595959"/><circle cx="262.0" cy="478.0" r="1.85" fill="#e0ad6e"/><circle cx="244.2" cy="495.6" r="1.85" fill="#9b9b9b"/><circle cx="278.3" cy="523.2" r="1.85" fill="#848484"/><circle cx="281.0" cy="482.5" r="1.85" fill="#adadad"/><circle cx="276.0" cy="477.6" r="1.85" fill="#888888"/><circle cx="228.1" cy="525.1" r="1.85" fill="#d5b692"/><circle cx="261.3" cy="513.0" r="1.85" fill="#d9b285"/><circle cx="267.2" cy="486.2" r="1.85" fill="#acacac"/><circle cx="223.4" cy="512.0" r="1.85" fill="#9b9b9b"/><circle cx="263.0" cy="534.6" r="1.85" fill="#d7b48c"/><circle cx="240.9" cy="510.0" r="1.85" fill="#adadad"/><circle cx="262.5" cy="527.4" r="1.85" fill="#7d7d7d"/><circle cx="214.2" cy="527.2" r="1.85" fill="#cfbba4"/><circle cx="251.4" cy="477.2" r="1.85" fill="#bababa"/><circle cx="279.4" cy="482.0" r="1.85" fill="#5f5f5f"/><circle cx="206.9" cy="554.8" r="1.85" fill="#e4ab65"/><circle cx="220.2" cy="506.9" r="1.85" fill="#cebba5"/><circle cx="233.6" cy="536.1" r="1.85" fill="#3b3b3b"/><circle cx="264.9" cy="491.1" r="1.85" fill="#636363"/><circle cx="265.6" cy="482.6" r="1.85" fill="#5b5b5b"/><circle cx="217.9" cy="552.0" r="1.85" fill="#d4b693"/><circle cx="205.7" cy="521.9" r="1.85" fill="#aeaeae"/><circle cx="255.8" cy="496.5" r="1.85" fill="#ddb079"/><circle cx="248.0" cy="482.2" r="1.85" fill="#919191"/><circle cx="219.8" cy="553.9" r="1.85" fill="#555555"/><circle cx="243.6" cy="498.1" r="1.85" fill="#2a2a2a"/><circle cx="207.0" cy="541.5" r="1.85" fill="#717171"/><circle cx="267.1" cy="520.9" r="1.85" fill="#7d7d7d"/><circle cx="278.0" cy="472.5" r="1.85" fill="#d0baa0"/><circle cx="263.3" cy="503.7" r="1.85" fill="#c6c2bc"/><circle cx="268.1" cy="488.9" r="1.85" fill="#dab180"/><circle cx="228.1" cy="534.0" r="1.85" fill="#a1a1a1"/><circle cx="270.3" cy="512.9" r="1.85" fill="#575757"/><circle cx="223.2" cy="516.8" r="1.85" fill="#141414"/><circle cx="203.9" cy="524.7" r="1.85" fill="#878787"/><circle cx="254.0" cy="516.0" r="1.85" fill="#a8a8a8"/><circle cx="243.4" cy="520.4" r="1.85" fill="#bdbdbd"/><circle cx="248.9" cy="519.2" r="1.85" fill="#a2a2a2"/><circle cx="215.2" cy="552.8" r="1.85" fill="#e8a858"/><circle cx="267.6" cy="526.0" r="1.85" fill="#cebba6"/><circle cx="207.7" cy="533.6" r="1.85" fill="#4b4b4b"/><circle cx="227.3" cy="521.4" r="1.85" fill="#eaa652"/><circle cx="230.7" cy="497.7" r="1.85" fill="#8a8a8a"/><circle cx="235.0" cy="506.3" r="1.85" fill="#ccbdac"/><circle cx="206.5" cy="538.7" r="1.85" fill="#c4c3c3"/><circle cx="263.3" cy="482.6" r="1.85" fill="#c7c0b9"/><circle cx="248.5" cy="498.3" r="1.85" fill="#d8b388"/><circle cx="264.2" cy="494.0" r="1.85" fill="#bebebe"/><circle cx="233.4" cy="503.0" r="1.85" fill="#c7c0b8"/><circle cx="264.2" cy="514.4" r="1.85" fill="#d0b99f"/><circle cx="266.4" cy="533.5" r="1.85" fill="#878787"/><circle cx="234.6" cy="516.0" r="1.85" fill="#b0b0b0"/><circle cx="250.6" cy="481.0" r="1.85" fill="#b3b3b3"/><circle cx="225.7" cy="503.4" r="1.85" fill="#e3ab67"/><circle cx="213.0" cy="525.5" r="1.85" fill="#2d2d2d"/><circle cx="256.9" cy="485.5" r="1.85" fill="#bababa"/><circle cx="276.1" cy="526.5" r="1.85" fill="#d7b48c"/><circle cx="266.4" cy="503.0" r="1.85" fill="#707070"/><circle cx="277.0" cy="483.6" r="1.85" fill="#d9b285"/><circle cx="262.4" cy="480.1" r="1.85" fill="#bababa"/><circle cx="226.1" cy="523.9" r="1.85" fill="#232323"/><circle cx="222.3" cy="520.2" r="1.85" fill="#a2a2a2"/><circle cx="266.5" cy="470.5" r="1.85" fill="#9a9a9a"/><circle cx="214.9" cy="509.1" r="1.85" fill="#232323"/><circle cx="229.3" cy="506.9" r="1.85" fill="#9b9b9b"/><circle cx="265.1" cy="509.5" r="1.85" fill="#787878"/><circle cx="261.1" cy="510.0" r="1.85" fill="#606060"/><circle cx="263.2" cy="520.5" r="1.85" fill="#e4ab65"/><circle cx="231.3" cy="532.7" r="1.85" fill="#a2a2a2"/><circle cx="201.5" cy="522.3" r="1.85" fill="#aeaeae"/><circle cx="225.3" cy="540.4" r="1.85" fill="#b1b1b1"/><circle cx="259.6" cy="479.9" r="1.85" fill="#d2b898"/><circle cx="256.0" cy="531.6" r="1.85" fill="#cdbca9"/><circle cx="273.0" cy="497.5" r="1.85" fill="#444444"/><circle cx="226.4" cy="526.9" r="1.85" fill="#696969"/><circle cx="211.9" cy="511.8" r="1.85" fill="#eba54e"/><circle cx="221.0" cy="503.4" r="1.85" fill="#b8b8b8"/><circle cx="272.7" cy="525.5" r="1.85" fill="#c4c3c3"/><circle cx="273.1" cy="478.4" r="1.85" fill="#cabfb2"/><circle cx="229.3" cy="513.0" r="1.85" fill="#c0c0c0"/><circle cx="243.1" cy="513.6" r="1.85" fill="#727272"/><circle cx="275.4" cy="480.5" r="1.85" fill="#c2c2c2"/><circle cx="215.2" cy="529.3" r="1.85" fill="#c7c1ba"/><circle cx="217.7" cy="506.1" r="1.85" fill="#c4c3c3"/><circle cx="275.0" cy="499.8" r="1.85" fill="#a5a5a5"/><circle cx="225.4" cy="532.7" r="1.85" fill="#111111"/><circle cx="246.9" cy="518.4" r="1.85" fill="#e0ad70"/><circle cx="217.1" cy="543.1" r="1.85" fill="#e8a756"/><circle cx="274.0" cy="485.9" r="1.85" fill="#e6a95f"/><circle cx="241.8" cy="504.2" r="1.85" fill="#e0ad6e"/><circle cx="271.8" cy="481.9" r="1.85" fill="#dfae72"/><circle cx="210.1" cy="552.4" r="1.85" fill="#232323"/><circle cx="253.1" cy="532.2" r="1.85" fill="#c6c2bd"/><circle cx="277.5" cy="508.7" r="1.85" fill="#6a6a6a"/><circle cx="263.7" cy="511.3" r="1.85" fill="#cfbba3"/><circle cx="210.8" cy="534.5" r="1.85" fill="#9c9c9c"/><circle cx="217.9" cy="555.1" r="1.85" fill="#eca54c"/><circle cx="206.8" cy="551.9" r="1.85" fill="#b5b5b5"/><circle cx="203.2" cy="530.3" r="1.85" fill="#e3ab66"/><circle cx="230.3" cy="529.3" r="1.85" fill="#afafaf"/><circle cx="281.0" cy="479.5" r="1.85" fill="#dfae73"/><circle cx="270.0" cy="525.5" r="1.85" fill="#919191"/><circle cx="225.0" cy="530.6" r="1.85" fill="#a0a0a0"/><circle cx="259.9" cy="501.8" r="1.85" fill="#a0a0a0"/><circle cx="262.5" cy="472.2" r="1.85" fill="#dab281"/><circle cx="244.4" cy="509.1" r="1.85" fill="#dfae74"/><circle cx="267.0" cy="513.2" r="1.85" fill="#b9b9b9"/><circle cx="272.2" cy="503.5" r="1.85" fill="#bcbcbc"/><circle cx="229.7" cy="510.3" r="1.85" fill="#ddb07a"/><circle cx="219.7" cy="543.7" r="1.85" fill="#cabeaf"/><circle cx="253.6" cy="492.6" r="1.85" fill="#e6a95e"/><circle cx="259.8" cy="475.4" r="1.85" fill="#cfbba3"/><circle cx="200.9" cy="537.2" r="1.85" fill="#3c3c3c"/><circle cx="209.8" cy="536.5" r="1.85" fill="#818181"/><circle cx="256.7" cy="478.9" r="1.85" fill="#9d9d9d"/><circle cx="222.3" cy="501.7" r="1.85" fill="#d2b899"/><circle cx="222.9" cy="514.5" r="1.85" fill="#bababa"/><circle cx="256.1" cy="493.9" r="1.85" fill="#a5a5a5"/><circle cx="221.2" cy="516.0" r="1.85" fill="#c4c3c3"/><circle cx="243.1" cy="510.8" r="1.85" fill="#979797"/><circle cx="269.0" cy="482.7" r="1.85" fill="#d3b797"/><circle cx="214.7" cy="557.2" r="1.85" fill="#777777"/><circle cx="226.8" cy="518.9" r="1.85" fill="#848484"/><circle cx="246.3" cy="491.7" r="1.85" fill="#d1b89b"/><circle cx="228.6" cy="527.7" r="1.85" fill="#797979"/><circle cx="213.6" cy="550.5" r="1.85" fill="#414141"/><circle cx="272.2" cy="520.1" r="1.85" fill="#d1b99c"/><circle cx="249.9" cy="483.7" r="1.85" fill="#dcb07d"/><circle cx="243.3" cy="518.1" r="1.85" fill="#f1a033"/><circle cx="209.0" cy="511.3" r="1.85" fill="#e2ac69"/><circle cx="272.9" cy="511.5" r="1.85" fill="#e3ab65"/><circle cx="231.4" cy="526.7" r="1.85" fill="#d2b89a"/><circle cx="253.4" cy="480.8" r="1.85" fill="#aaaaaa"/><circle cx="216.3" cy="549.1" r="1.85" fill="#cdbca8"/><circle cx="215.7" cy="525.7" r="1.85" fill="#e3ab68"/><circle cx="228.4" cy="530.4" r="1.85" fill="#969696"/><circle cx="262.2" cy="501.4" r="1.85" fill="#d8b388"/><circle cx="205.6" cy="547.1" r="1.85" fill="#d8b387"/><circle cx="277.5" cy="474.4" r="1.85" fill="#d5b590"/><circle cx="252.6" cy="526.0" r="1.85" fill="#919191"/><circle cx="248.6" cy="505.9" r="1.85" fill="#262626"/><circle cx="216.9" cy="508.6" r="1.85" fill="#2e2e2e"/><circle cx="225.2" cy="517.6" r="1.85" fill="#d8b388"/><circle cx="273.5" cy="505.2" r="1.85" fill="#545454"/><circle cx="203.4" cy="544.4" r="1.85" fill="#858585"/><circle cx="269.3" cy="520.6" r="1.85" fill="#eba54f"/><circle cx="215.6" cy="545.3" r="1.85" fill="#adadad"/><circle cx="275.6" cy="515.0" r="1.85" fill="#c4c3c3"/><circle cx="211.9" cy="542.3" r="1.85" fill="#c6c2bd"/><circle cx="211.1" cy="548.9" r="1.85" fill="#cebba6"/><circle cx="234.7" cy="521.5" r="1.85" fill="#9e9e9e"/><circle cx="271.9" cy="490.1" r="1.85" fill="#a0a0a0"/><circle cx="256.5" cy="513.3" r="1.85" fill="#e9a754"/><circle cx="210.4" cy="522.2" r="1.85" fill="#b3b3b3"/><circle cx="252.6" cy="509.4" r="1.85" fill="#b4b4b4"/><circle cx="255.3" cy="519.4" r="1.85" fill="#d6b58f"/><circle cx="226.9" cy="516.3" r="1.85" fill="#515151"/><circle cx="205.5" cy="536.2" r="1.85" fill="#d7b48c"/><circle cx="227.5" cy="509.8" r="1.85" fill="#252525"/><circle cx="278.1" cy="506.6" r="1.85" fill="#acacac"/><circle cx="267.6" cy="469.4" r="1.85" fill="#f49d26"/><circle cx="218.0" cy="514.8" r="1.85" fill="#9f9f9f"/><circle cx="271.2" cy="518.1" r="1.85" fill="#e6a95c"/><circle cx="217.5" cy="505.5" r="1.85" fill="#7d7d7d"/><circle cx="267.2" cy="508.9" r="1.85" fill="#cabeb0"/><circle cx="213.7" cy="523.3" r="1.85" fill="#dcb07c"/><circle cx="274.6" cy="489.6" r="1.85" fill="#6b6b6b"/><circle cx="277.1" cy="496.8" r="1.85" fill="#232323"/><circle cx="264.7" cy="531.7" r="1.85" fill="#7d7d7d"/><circle cx="264.5" cy="484.5" r="1.85" fill="#e4ab64"/><circle cx="268.2" cy="531.4" r="1.85" fill="#7a7a7a"/><circle cx="258.5" cy="483.0" r="1.85" fill="#adadad"/><circle cx="217.8" cy="522.0" r="1.85" fill="#cbbeaf"/><circle cx="265.9" cy="536.5" r="1.85" fill="#c9bfb5"/><circle cx="278.5" cy="516.2" r="1.85" fill="#8c8c8c"/><circle cx="261.5" cy="531.0" r="1.85" fill="#c3c3c3"/><circle cx="245.3" cy="494.7" r="1.85" fill="#e1ac6b"/><circle cx="213.5" cy="532.3" r="1.85" fill="#686868"/><circle cx="260.6" cy="498.2" r="1.85" fill="#8f8f8f"/><circle cx="239.7" cy="523.2" r="1.85" fill="#6d6d6d"/><circle cx="216.4" cy="512.7" r="1.85" fill="#d2b89b"/><circle cx="262.1" cy="515.4" r="1.85" fill="#5b5b5b"/><circle cx="275.4" cy="523.6" r="1.85" fill="#3d3d3d"/><circle cx="212.7" cy="553.2" r="1.85" fill="#3f3f3f"/><circle cx="248.0" cy="501.9" r="1.85" fill="#d5b591"/><circle cx="276.7" cy="504.6" r="1.85" fill="#cebba5"/><circle cx="254.6" cy="484.3" r="1.85" fill="#373737"/><circle cx="260.6" cy="487.0" r="1.85" fill="#919191"/><circle cx="213.8" cy="548.4" r="1.85" fill="#e5a95f"/><circle cx="245.4" cy="502.2" r="1.85" fill="#929292"/><circle cx="262.8" cy="487.7" r="1.85" fill="#929292"/><circle cx="221.6" cy="541.3" r="1.85" fill="#e1ad6d"/><circle cx="261.1" cy="518.2" r="1.85" fill="#e6a95e"/><circle cx="251.6" cy="491.5" r="1.85" fill="#b1b1b1"/><circle cx="270.0" cy="515.7" r="1.85" fill="#5d5d5d"/><circle cx="219.5" cy="509.2" r="1.85" fill="#e0ae71"/><circle cx="274.6" cy="492.4" r="1.85" fill="#818181"/><circle cx="271.2" cy="510.0" r="1.85" fill="#9c9c9c"/><circle cx="260.8" cy="533.9" r="1.85" fill="#c9bfb3"/><circle cx="206.4" cy="515.6" r="1.85" fill="#e0ad70"/><circle cx="279.4" cy="485.3" r="1.85" fill="#8b8b8b"/><circle cx="245.4" cy="521.8" r="1.85" fill="#cebba6"/><circle cx="225.2" cy="538.3" r="1.85" fill="#c7c1ba"/><circle cx="246.1" cy="504.2" r="1.85" fill="#c8c0b7"/><circle cx="218.8" cy="537.4" r="1.85" fill="#d0b99f"/><circle cx="265.8" cy="488.1" r="1.85" fill="#c5c2be"/><circle cx="278.7" cy="503.1" r="1.85" fill="#969696"/><circle cx="265.1" cy="500.6" r="1.85" fill="#787878"/><circle cx="270.3" cy="473.7" r="1.85" fill="#d9b284"/><circle cx="209.2" cy="516.8" r="1.85" fill="#aaaaaa"/><circle cx="261.0" cy="504.9" r="1.85" fill="#eda449"/><circle cx="274.2" cy="519.3" r="1.85" fill="#7b7b7b"/><circle cx="224.9" cy="521.9" r="1.85" fill="#d5b590"/><circle cx="266.6" cy="479.8" r="1.85" fill="#676767"/><circle cx="251.1" cy="496.6" r="1.85" fill="#d8b389"/><circle cx="273.7" cy="515.9" r="1.85" fill="#939393"/><circle cx="278.2" cy="512.3" r="1.85" fill="#505050"/><circle cx="237.6" cy="512.4" r="1.85" fill="#919191"/><circle cx="258.3" cy="499.3" r="1.85" fill="#1f1f1f"/><circle cx="228.3" cy="502.8" r="1.85" fill="#a2a2a2"/><circle cx="264.0" cy="525.3" r="1.85" fill="#a1a1a1"/><circle cx="275.5" cy="472.8" r="1.85" fill="#7c7c7c"/><circle cx="219.9" cy="548.8" r="1.85" fill="#bfbfbf"/><circle cx="269.1" cy="535.6" r="1.85" fill="#373737"/></g>
<text x="318.30" y="453.80" font-size="11" font-weight="bold" fill="#000" color="#000" >K</text>
<polygon points="426.3,451.6 419.4,455.0 410.8,459.5 403.8,464.0 396.1,466.8 394.3,469.2 396.1,471.8 400.0,474.1 405.2,470.3 413.9,464.7 421.5,459.7 427.7,453.3" fill="#c4c4c6"/>
<polygon points="356.0,506.0 366.0,508.0 377.0,512.0 388.0,514.0 398.0,515.0 408.0,521.0 419.0,527.0 429.0,533.0 440.0,539.0 444.0,543.0 440.0,545.0 429.0,546.0 419.0,547.0 408.0,548.0 398.0,549.0 387.0,550.0 370.0,550.0 356.0,549.0 352.0,538.0 352.0,515.0" fill="#c4c4c6"/>
<g fill="#c2c2c4"><circle cx="405.5" cy="469.0" r="1.3"/><circle cx="405.7" cy="470.3" r="1.3"/><circle cx="401.3" cy="472.2" r="1.3"/><circle cx="397.8" cy="474.4" r="1.3"/><circle cx="399.4" cy="466.3" r="1.3"/><circle cx="408.5" cy="460.1" r="1.3"/><circle cx="420.7" cy="460.8" r="1.3"/><circle cx="405.1" cy="468.0" r="1.3"/><circle cx="396.6" cy="473.2" r="1.3"/><circle cx="430.8" cy="453.3" r="1.3"/><circle cx="408.5" cy="469.0" r="1.3"/><circle cx="421.8" cy="459.5" r="1.3"/><circle cx="427.0" cy="453.2" r="1.3"/><circle cx="422.5" cy="454.8" r="1.3"/><circle cx="408.8" cy="464.8" r="1.3"/><circle cx="411.6" cy="464.1" r="1.3"/><circle cx="412.4" cy="457.1" r="1.3"/><circle cx="419.1" cy="461.6" r="1.3"/><circle cx="410.2" cy="467.0" r="1.3"/><circle cx="399.2" cy="472.6" r="1.3"/><circle cx="397.4" cy="466.2" r="1.3"/><circle cx="403.5" cy="471.4" r="1.3"/><circle cx="399.2" cy="471.3" r="1.3"/><circle cx="405.2" cy="470.1" r="1.3"/><circle cx="409.2" cy="463.7" r="1.3"/><circle cx="405.1" cy="467.0" r="1.3"/><circle cx="400.0" cy="473.4" r="1.3"/><circle cx="399.9" cy="466.1" r="1.3"/><circle cx="410.2" cy="458.5" r="1.3"/><circle cx="415.3" cy="465.0" r="1.3"/><circle cx="395.2" cy="466.7" r="1.3"/><circle cx="420.5" cy="454.4" r="1.3"/><circle cx="412.4" cy="458.1" r="1.3"/><circle cx="403.1" cy="472.9" r="1.3"/><circle cx="419.8" cy="456.6" r="1.3"/><circle cx="416.9" cy="459.9" r="1.3"/><circle cx="395.1" cy="468.6" r="1.3"/><circle cx="397.1" cy="466.3" r="1.3"/><circle cx="421.4" cy="456.3" r="1.3"/><circle cx="418.2" cy="455.1" r="1.3"/><circle cx="403.4" cy="470.3" r="1.3"/><circle cx="404.1" cy="466.0" r="1.3"/><circle cx="398.3" cy="464.3" r="1.3"/><circle cx="418.5" cy="460.7" r="1.3"/><circle cx="397.9" cy="472.8" r="1.3"/><circle cx="428.5" cy="452.7" r="1.3"/><circle cx="411.8" cy="457.4" r="1.3"/><circle cx="396.9" cy="467.0" r="1.3"/><circle cx="416.5" cy="457.8" r="1.3"/><circle cx="404.6" cy="464.7" r="1.3"/><circle cx="404.8" cy="467.8" r="1.3"/><circle cx="401.6" cy="471.8" r="1.3"/><circle cx="393.8" cy="474.3" r="1.3"/><circle cx="418.2" cy="454.8" r="1.3"/><circle cx="397.1" cy="467.4" r="1.3"/><circle cx="407.9" cy="459.7" r="1.3"/><circle cx="415.3" cy="459.5" r="1.3"/><circle cx="417.1" cy="462.3" r="1.3"/><circle cx="402.7" cy="468.4" r="1.3"/><circle cx="416.3" cy="462.3" r="1.3"/><circle cx="414.3" cy="464.0" r="1.3"/><circle cx="395.7" cy="467.3" r="1.3"/><circle cx="419.0" cy="464.1" r="1.3"/><circle cx="401.5" cy="469.0" r="1.3"/><circle cx="408.1" cy="463.5" r="1.3"/><circle cx="422.0" cy="459.2" r="1.3"/><circle cx="422.2" cy="453.0" r="1.3"/><circle cx="402.9" cy="462.3" r="1.3"/><circle cx="403.2" cy="468.9" r="1.3"/><circle cx="400.2" cy="471.7" r="1.3"/><circle cx="398.3" cy="472.8" r="1.3"/><circle cx="392.8" cy="471.1" r="1.3"/><circle cx="393.5" cy="470.7" r="1.3"/><circle cx="424.0" cy="455.6" r="1.3"/><circle cx="406.7" cy="469.3" r="1.3"/><circle cx="418.9" cy="455.7" r="1.3"/><circle cx="410.6" cy="466.0" r="1.3"/><circle cx="423.9" cy="452.2" r="1.3"/><circle cx="403.6" cy="472.1" r="1.3"/><circle cx="415.9" cy="455.8" r="1.3"/><circle cx="396.2" cy="472.5" r="1.3"/><circle cx="427.9" cy="452.0" r="1.3"/><circle cx="414.3" cy="462.4" r="1.3"/><circle cx="420.3" cy="453.8" r="1.3"/><circle cx="412.5" cy="461.1" r="1.3"/><circle cx="427.5" cy="454.3" r="1.3"/><circle cx="397.2" cy="465.2" r="1.3"/><circle cx="400.7" cy="470.3" r="1.3"/><circle cx="414.0" cy="460.8" r="1.3"/><circle cx="419.4" cy="458.5" r="1.3"/><circle cx="395.4" cy="469.9" r="1.3"/><circle cx="420.3" cy="461.4" r="1.3"/><circle cx="408.4" cy="462.1" r="1.3"/><circle cx="395.1" cy="472.6" r="1.3"/><circle cx="424.6" cy="451.7" r="1.3"/><circle cx="398.6" cy="467.2" r="1.3"/><circle cx="397.1" cy="469.8" r="1.3"/><circle cx="411.3" cy="458.4" r="1.3"/><circle cx="421.3" cy="460.9" r="1.3"/><circle cx="404.5" cy="464.6" r="1.3"/><circle cx="416.2" cy="458.5" r="1.3"/><circle cx="409.9" cy="468.2" r="1.3"/><circle cx="426.6" cy="451.6" r="1.3"/><circle cx="402.5" cy="461.9" r="1.3"/><circle cx="405.8" cy="463.2" r="1.3"/><circle cx="403.1" cy="465.6" r="1.3"/><circle cx="391.9" cy="470.5" r="1.3"/><circle cx="413.7" cy="465.8" r="1.3"/><circle cx="391.6" cy="471.5" r="1.3"/><circle cx="401.3" cy="473.8" r="1.3"/><circle cx="417.0" cy="458.9" r="1.3"/><circle cx="425.4" cy="451.3" r="1.3"/><circle cx="417.9" cy="464.3" r="1.3"/><circle cx="410.6" cy="466.5" r="1.3"/><circle cx="393.9" cy="469.1" r="1.3"/><circle cx="396.3" cy="468.5" r="1.3"/><circle cx="398.6" cy="465.9" r="1.3"/><circle cx="425.0" cy="457.5" r="1.3"/><circle cx="419.7" cy="455.5" r="1.3"/><circle cx="394.5" cy="469.8" r="1.3"/><circle cx="421.4" cy="452.9" r="1.3"/><circle cx="397.8" cy="472.5" r="1.3"/><circle cx="403.5" cy="462.8" r="1.3"/><circle cx="397.2" cy="472.1" r="1.3"/><circle cx="414.4" cy="461.8" r="1.3"/><circle cx="410.4" cy="463.4" r="1.3"/><circle cx="419.9" cy="456.0" r="1.3"/><circle cx="393.5" cy="471.9" r="1.3"/><circle cx="402.9" cy="466.7" r="1.3"/><circle cx="407.9" cy="465.5" r="1.3"/><circle cx="423.3" cy="452.6" r="1.3"/><circle cx="400.9" cy="464.0" r="1.3"/><circle cx="423.1" cy="455.2" r="1.3"/><circle cx="391.5" cy="469.0" r="1.3"/><circle cx="424.9" cy="457.0" r="1.3"/><circle cx="394.7" cy="472.5" r="1.3"/><circle cx="411.5" cy="466.1" r="1.3"/><circle cx="418.0" cy="456.2" r="1.3"/><circle cx="414.0" cy="465.2" r="1.3"/><circle cx="408.8" cy="463.7" r="1.3"/><circle cx="407.9" cy="470.5" r="1.3"/><circle cx="410.9" cy="462.0" r="1.3"/><circle cx="399.3" cy="468.5" r="1.3"/><circle cx="414.1" cy="461.6" r="1.3"/><circle cx="406.6" cy="466.9" r="1.3"/><circle cx="414.7" cy="466.4" r="1.3"/><circle cx="406.1" cy="468.1" r="1.3"/><circle cx="429.3" cy="450.8" r="1.3"/><circle cx="418.7" cy="461.2" r="1.3"/><circle cx="410.8" cy="466.8" r="1.3"/><circle cx="415.3" cy="458.2" r="1.3"/><circle cx="413.2" cy="467.8" r="1.3"/><circle cx="412.7" cy="458.2" r="1.3"/><circle cx="402.3" cy="466.5" r="1.3"/><circle cx="407.2" cy="467.1" r="1.3"/><circle cx="416.1" cy="459.8" r="1.3"/><circle cx="413.6" cy="459.1" r="1.3"/><circle cx="402.2" cy="470.0" r="1.3"/><circle cx="407.8" cy="459.7" r="1.3"/><circle cx="409.2" cy="461.4" r="1.3"/><circle cx="405.3" cy="460.8" r="1.3"/><circle cx="423.3" cy="453.7" r="1.3"/><circle cx="427.1" cy="455.6" r="1.3"/><circle cx="399.5" cy="473.7" r="1.3"/><circle cx="426.5" cy="452.1" r="1.3"/><circle cx="404.6" cy="467.9" r="1.3"/><circle cx="407.0" cy="471.6" r="1.3"/><circle cx="413.8" cy="461.3" r="1.3"/><circle cx="409.7" cy="460.1" r="1.3"/><circle cx="409.4" cy="468.7" r="1.3"/><circle cx="399.4" cy="470.9" r="1.3"/><circle cx="405.1" cy="462.6" r="1.3"/><circle cx="409.3" cy="461.4" r="1.3"/><circle cx="418.8" cy="462.1" r="1.3"/><circle cx="403.3" cy="471.4" r="1.3"/><circle cx="411.2" cy="465.2" r="1.3"/><circle cx="427.7" cy="455.2" r="1.3"/><circle cx="428.4" cy="452.9" r="1.3"/><circle cx="406.4" cy="464.1" r="1.3"/><circle cx="410.5" cy="464.8" r="1.3"/><circle cx="412.4" cy="464.2" r="1.3"/><circle cx="422.5" cy="453.0" r="1.3"/><circle cx="426.5" cy="452.4" r="1.3"/><circle cx="424.2" cy="457.5" r="1.3"/><circle cx="399.2" cy="466.3" r="1.3"/><circle cx="394.1" cy="469.5" r="1.3"/><circle cx="420.7" cy="456.3" r="1.3"/><circle cx="398.7" cy="465.4" r="1.3"/><circle cx="419.7" cy="454.6" r="1.3"/><circle cx="413.2" cy="457.5" r="1.3"/><circle cx="401.0" cy="472.7" r="1.3"/><circle cx="409.4" cy="463.1" r="1.3"/><circle cx="402.5" cy="464.1" r="1.3"/><circle cx="411.0" cy="466.8" r="1.3"/><circle cx="417.7" cy="456.6" r="1.3"/><circle cx="428.4" cy="449.1" r="1.3"/><circle cx="397.3" cy="473.2" r="1.3"/><circle cx="410.0" cy="461.2" r="1.3"/><circle cx="418.5" cy="456.4" r="1.3"/><circle cx="420.4" cy="455.6" r="1.3"/><circle cx="404.8" cy="464.2" r="1.3"/><circle cx="400.6" cy="467.6" r="1.3"/><circle cx="417.7" cy="460.0" r="1.3"/><circle cx="398.0" cy="473.7" r="1.3"/><circle cx="396.6" cy="470.4" r="1.3"/><circle cx="392.3" cy="471.7" r="1.3"/><circle cx="418.8" cy="458.7" r="1.3"/><circle cx="414.4" cy="462.4" r="1.3"/><circle cx="409.2" cy="459.9" r="1.3"/><circle cx="402.9" cy="464.9" r="1.3"/><circle cx="429.6" cy="453.4" r="1.3"/><circle cx="409.6" cy="462.4" r="1.3"/><circle cx="394.7" cy="471.0" r="1.3"/><circle cx="410.5" cy="462.0" r="1.3"/><circle cx="410.6" cy="464.5" r="1.3"/><circle cx="424.2" cy="458.6" r="1.3"/><circle cx="407.5" cy="463.2" r="1.3"/><circle cx="407.0" cy="462.5" r="1.3"/><circle cx="400.1" cy="466.6" r="1.3"/><circle cx="407.3" cy="464.7" r="1.3"/><circle cx="423.8" cy="454.6" r="1.3"/><circle cx="401.4" cy="467.6" r="1.3"/><circle cx="406.5" cy="462.4" r="1.3"/><circle cx="417.4" cy="461.9" r="1.3"/><circle cx="397.1" cy="472.2" r="1.3"/><circle cx="402.8" cy="469.3" r="1.3"/><circle cx="414.2" cy="464.6" r="1.3"/><circle cx="402.6" cy="474.8" r="1.3"/><circle cx="397.3" cy="467.8" r="1.3"/><circle cx="391.8" cy="471.6" r="1.3"/><circle cx="394.5" cy="470.9" r="1.3"/><circle cx="401.5" cy="471.0" r="1.3"/><circle cx="420.3" cy="459.0" r="1.3"/><circle cx="427.5" cy="455.5" r="1.3"/><circle cx="420.8" cy="457.1" r="1.3"/><circle cx="411.5" cy="466.8" r="1.3"/><circle cx="424.5" cy="451.7" r="1.3"/><circle cx="406.2" cy="467.3" r="1.3"/><circle cx="413.4" cy="463.6" r="1.3"/><circle cx="418.3" cy="461.1" r="1.3"/><circle cx="403.0" cy="473.0" r="1.3"/><circle cx="420.1" cy="455.6" r="1.3"/><circle cx="428.3" cy="449.5" r="1.3"/><circle cx="396.3" cy="471.5" r="1.3"/><circle cx="424.9" cy="453.5" r="1.3"/><circle cx="396.3" cy="469.0" r="1.3"/><circle cx="414.2" cy="464.0" r="1.3"/><circle cx="414.4" cy="459.8" r="1.3"/><circle cx="415.4" cy="463.3" r="1.3"/><circle cx="399.3" cy="474.2" r="1.3"/><circle cx="393.3" cy="469.5" r="1.3"/><circle cx="424.6" cy="455.0" r="1.3"/><circle cx="409.0" cy="463.2" r="1.3"/><circle cx="414.8" cy="461.3" r="1.3"/><circle cx="396.4" cy="472.9" r="1.3"/><circle cx="402.7" cy="472.3" r="1.3"/><circle cx="399.9" cy="466.0" r="1.3"/><circle cx="397.5" cy="471.4" r="1.3"/><circle cx="428.2" cy="450.2" r="1.3"/><circle cx="414.5" cy="465.6" r="1.3"/><circle cx="369.7" cy="523.3" r="1.3"/><circle cx="387.9" cy="516.5" r="1.3"/><circle cx="362.4" cy="534.2" r="1.3"/><circle cx="357.3" cy="551.6" r="1.3"/><circle cx="359.5" cy="526.5" r="1.3"/><circle cx="353.7" cy="524.8" r="1.3"/><circle cx="387.7" cy="521.5" r="1.3"/><circle cx="400.7" cy="539.4" r="1.3"/><circle cx="371.0" cy="514.6" r="1.3"/><circle cx="439.1" cy="536.2" r="1.3"/><circle cx="387.2" cy="541.0" r="1.3"/><circle cx="361.7" cy="515.0" r="1.3"/><circle cx="389.4" cy="525.9" r="1.3"/><circle cx="353.9" cy="514.7" r="1.3"/><circle cx="373.5" cy="544.8" r="1.3"/><circle cx="431.4" cy="546.6" r="1.3"/><circle cx="363.4" cy="516.4" r="1.3"/><circle cx="390.6" cy="515.7" r="1.3"/><circle cx="349.0" cy="522.7" r="1.3"/><circle cx="376.7" cy="544.8" r="1.3"/><circle cx="404.3" cy="539.8" r="1.3"/><circle cx="360.4" cy="524.3" r="1.3"/><circle cx="386.5" cy="523.5" r="1.3"/><circle cx="401.5" cy="515.9" r="1.3"/><circle cx="349.3" cy="509.0" r="1.3"/><circle cx="430.4" cy="541.2" r="1.3"/><circle cx="349.0" cy="531.7" r="1.3"/><circle cx="356.8" cy="509.3" r="1.3"/><circle cx="408.5" cy="530.7" r="1.3"/><circle cx="440.2" cy="548.0" r="1.3"/><circle cx="358.1" cy="527.2" r="1.3"/><circle cx="350.6" cy="516.7" r="1.3"/><circle cx="441.7" cy="541.5" r="1.3"/><circle cx="381.9" cy="547.6" r="1.3"/><circle cx="396.5" cy="519.3" r="1.3"/><circle cx="349.5" cy="519.9" r="1.3"/><circle cx="393.5" cy="538.0" r="1.3"/><circle cx="371.0" cy="538.4" r="1.3"/><circle cx="396.8" cy="532.8" r="1.3"/><circle cx="358.9" cy="546.7" r="1.3"/><circle cx="364.5" cy="519.2" r="1.3"/><circle cx="365.0" cy="529.8" r="1.3"/><circle cx="390.9" cy="536.1" r="1.3"/><circle cx="375.9" cy="529.8" r="1.3"/><circle cx="394.0" cy="533.8" r="1.3"/><circle cx="359.6" cy="542.0" r="1.3"/><circle cx="407.7" cy="533.8" r="1.3"/><circle cx="395.6" cy="535.9" r="1.3"/><circle cx="356.8" cy="504.8" r="1.3"/><circle cx="352.6" cy="531.4" r="1.3"/><circle cx="418.1" cy="530.6" r="1.3"/><circle cx="353.6" cy="509.3" r="1.3"/><circle cx="404.2" cy="540.2" r="1.3"/><circle cx="393.2" cy="541.8" r="1.3"/><circle cx="394.8" cy="516.5" r="1.3"/><circle cx="364.1" cy="511.9" r="1.3"/><circle cx="364.7" cy="509.7" r="1.3"/><circle cx="397.8" cy="530.3" r="1.3"/><circle cx="353.2" cy="519.5" r="1.3"/><circle cx="371.1" cy="554.4" r="1.3"/><circle cx="403.1" cy="530.8" r="1.3"/><circle cx="359.8" cy="508.1" r="1.3"/><circle cx="375.2" cy="522.3" r="1.3"/><circle cx="428.2" cy="530.2" r="1.3"/><circle cx="387.5" cy="524.2" r="1.3"/><circle cx="417.3" cy="529.2" r="1.3"/><circle cx="378.7" cy="517.0" r="1.3"/><circle cx="428.4" cy="539.2" r="1.3"/><circle cx="379.3" cy="552.7" r="1.3"/><circle cx="362.1" cy="514.9" r="1.3"/><circle cx="374.1" cy="545.5" r="1.3"/><circle cx="368.9" cy="542.2" r="1.3"/><circle cx="353.2" cy="515.6" r="1.3"/><circle cx="384.2" cy="524.0" r="1.3"/><circle cx="348.7" cy="528.1" r="1.3"/><circle cx="361.0" cy="548.2" r="1.3"/><circle cx="392.3" cy="527.3" r="1.3"/><circle cx="373.5" cy="513.4" r="1.3"/><circle cx="445.8" cy="544.5" r="1.3"/><circle cx="410.5" cy="548.1" r="1.3"/><circle cx="349.4" cy="516.7" r="1.3"/><circle cx="378.3" cy="516.8" r="1.3"/><circle cx="364.8" cy="527.9" r="1.3"/><circle cx="413.8" cy="542.4" r="1.3"/><circle cx="426.0" cy="536.2" r="1.3"/><circle cx="357.1" cy="519.0" r="1.3"/><circle cx="392.9" cy="536.0" r="1.3"/><circle cx="411.2" cy="532.1" r="1.3"/><circle cx="439.1" cy="542.6" r="1.3"/><circle cx="374.5" cy="513.9" r="1.3"/><circle cx="394.8" cy="549.3" r="1.3"/><circle cx="378.1" cy="510.6" r="1.3"/><circle cx="379.3" cy="517.4" r="1.3"/><circle cx="437.0" cy="543.9" r="1.3"/><circle cx="355.5" cy="528.0" r="1.3"/><circle cx="363.1" cy="531.9" r="1.3"/><circle cx="383.4" cy="547.3" r="1.3"/><circle cx="400.1" cy="549.1" r="1.3"/><circle cx="402.0" cy="535.6" r="1.3"/><circle cx="390.0" cy="516.9" r="1.3"/><circle cx="390.7" cy="541.4" r="1.3"/><circle cx="400.2" cy="519.0" r="1.3"/><circle cx="358.9" cy="529.3" r="1.3"/><circle cx="413.7" cy="547.3" r="1.3"/><circle cx="371.1" cy="528.5" r="1.3"/><circle cx="379.2" cy="533.0" r="1.3"/><circle cx="366.0" cy="530.9" r="1.3"/><circle cx="410.0" cy="545.5" r="1.3"/><circle cx="425.4" cy="545.9" r="1.3"/><circle cx="414.9" cy="529.6" r="1.3"/><circle cx="439.6" cy="540.4" r="1.3"/><circle cx="362.8" cy="519.5" r="1.3"/><circle cx="415.8" cy="532.6" r="1.3"/><circle cx="354.9" cy="535.0" r="1.3"/><circle cx="412.3" cy="521.3" r="1.3"/><circle cx="429.9" cy="544.7" r="1.3"/><circle cx="394.6" cy="547.9" r="1.3"/><circle cx="449.0" cy="544.9" r="1.3"/><circle cx="403.7" cy="514.7" r="1.3"/><circle cx="386.3" cy="516.7" r="1.3"/><circle cx="379.1" cy="519.7" r="1.3"/><circle cx="386.9" cy="552.2" r="1.3"/><circle cx="439.3" cy="538.2" r="1.3"/><circle cx="399.7" cy="551.2" r="1.3"/><circle cx="400.9" cy="521.2" r="1.3"/><circle cx="375.3" cy="538.7" r="1.3"/><circle cx="355.0" cy="501.7" r="1.3"/><circle cx="378.1" cy="519.2" r="1.3"/><circle cx="397.8" cy="551.2" r="1.3"/><circle cx="400.0" cy="547.6" r="1.3"/><circle cx="353.4" cy="537.2" r="1.3"/><circle cx="356.0" cy="521.3" r="1.3"/><circle cx="418.1" cy="533.0" r="1.3"/><circle cx="415.3" cy="523.0" r="1.3"/><circle cx="404.4" cy="540.8" r="1.3"/><circle cx="384.0" cy="536.9" r="1.3"/><circle cx="394.3" cy="546.0" r="1.3"/><circle cx="361.0" cy="531.9" r="1.3"/><circle cx="349.5" cy="504.9" r="1.3"/><circle cx="367.1" cy="511.3" r="1.3"/><circle cx="424.8" cy="533.0" r="1.3"/><circle cx="372.2" cy="523.5" r="1.3"/><circle cx="358.8" cy="539.4" r="1.3"/><circle cx="367.8" cy="519.2" r="1.3"/><circle cx="384.8" cy="538.1" r="1.3"/><circle cx="365.5" cy="532.9" r="1.3"/><circle cx="368.5" cy="516.7" r="1.3"/><circle cx="386.0" cy="540.4" r="1.3"/><circle cx="426.8" cy="531.4" r="1.3"/><circle cx="375.3" cy="509.2" r="1.3"/><circle cx="387.9" cy="546.1" r="1.3"/><circle cx="348.9" cy="525.8" r="1.3"/><circle cx="428.9" cy="530.8" r="1.3"/><circle cx="363.9" cy="538.9" r="1.3"/><circle cx="408.9" cy="542.1" r="1.3"/><circle cx="370.7" cy="548.4" r="1.3"/><circle cx="392.7" cy="536.8" r="1.3"/><circle cx="434.2" cy="535.6" r="1.3"/><circle cx="416.4" cy="539.3" r="1.3"/><circle cx="429.7" cy="539.2" r="1.3"/><circle cx="363.5" cy="516.7" r="1.3"/><circle cx="362.8" cy="541.2" r="1.3"/><circle cx="412.9" cy="530.6" r="1.3"/><circle cx="376.6" cy="543.4" r="1.3"/><circle cx="372.3" cy="540.8" r="1.3"/><circle cx="372.6" cy="533.4" r="1.3"/><circle cx="386.7" cy="515.0" r="1.3"/><circle cx="401.2" cy="513.3" r="1.3"/><circle cx="436.9" cy="540.8" r="1.3"/><circle cx="387.3" cy="512.7" r="1.3"/><circle cx="403.2" cy="515.7" r="1.3"/><circle cx="417.8" cy="539.4" r="1.3"/><circle cx="388.6" cy="551.2" r="1.3"/><circle cx="392.4" cy="520.9" r="1.3"/><circle cx="359.0" cy="539.4" r="1.3"/><circle cx="370.5" cy="524.0" r="1.3"/><circle cx="435.9" cy="535.3" r="1.3"/><circle cx="368.4" cy="515.1" r="1.3"/><circle cx="385.6" cy="509.5" r="1.3"/><circle cx="372.5" cy="526.1" r="1.3"/><circle cx="352.2" cy="513.8" r="1.3"/><circle cx="374.6" cy="539.2" r="1.3"/><circle cx="439.8" cy="537.8" r="1.3"/><circle cx="404.5" cy="541.0" r="1.3"/><circle cx="365.1" cy="538.8" r="1.3"/><circle cx="413.2" cy="546.3" r="1.3"/><circle cx="421.7" cy="532.8" r="1.3"/><circle cx="430.0" cy="544.5" r="1.3"/><circle cx="386.0" cy="546.7" r="1.3"/><circle cx="365.1" cy="547.4" r="1.3"/><circle cx="352.0" cy="525.8" r="1.3"/><circle cx="350.0" cy="520.4" r="1.3"/><circle cx="369.5" cy="544.9" r="1.3"/><circle cx="362.9" cy="524.2" r="1.3"/><circle cx="380.7" cy="512.8" r="1.3"/><circle cx="370.5" cy="512.6" r="1.3"/><circle cx="390.6" cy="516.2" r="1.3"/><circle cx="375.5" cy="527.0" r="1.3"/><circle cx="398.0" cy="545.2" r="1.3"/><circle cx="390.3" cy="543.3" r="1.3"/><circle cx="391.9" cy="515.5" r="1.3"/><circle cx="424.8" cy="544.0" r="1.3"/><circle cx="412.3" cy="545.9" r="1.3"/><circle cx="399.0" cy="517.7" r="1.3"/><circle cx="416.9" cy="537.5" r="1.3"/><circle cx="354.3" cy="509.7" r="1.3"/><circle cx="386.1" cy="527.0" r="1.3"/><circle cx="370.5" cy="522.1" r="1.3"/><circle cx="376.8" cy="526.6" r="1.3"/><circle cx="411.5" cy="519.6" r="1.3"/><circle cx="364.2" cy="545.3" r="1.3"/><circle cx="365.1" cy="517.1" r="1.3"/><circle cx="366.2" cy="534.1" r="1.3"/><circle cx="414.2" cy="531.0" r="1.3"/><circle cx="433.9" cy="540.6" r="1.3"/><circle cx="437.8" cy="535.5" r="1.3"/><circle cx="351.5" cy="543.2" r="1.3"/><circle cx="354.4" cy="503.0" r="1.3"/><circle cx="417.6" cy="545.5" r="1.3"/><circle cx="422.1" cy="533.8" r="1.3"/><circle cx="391.6" cy="529.8" r="1.3"/><circle cx="375.2" cy="537.4" r="1.3"/><circle cx="386.8" cy="553.0" r="1.3"/><circle cx="377.0" cy="509.9" r="1.3"/><circle cx="431.3" cy="540.1" r="1.3"/><circle cx="353.2" cy="513.9" r="1.3"/><circle cx="394.9" cy="532.6" r="1.3"/><circle cx="377.9" cy="532.2" r="1.3"/><circle cx="426.6" cy="547.3" r="1.3"/><circle cx="354.0" cy="541.8" r="1.3"/><circle cx="389.8" cy="540.9" r="1.3"/><circle cx="379.2" cy="531.7" r="1.3"/><circle cx="432.4" cy="542.5" r="1.3"/><circle cx="432.9" cy="542.2" r="1.3"/><circle cx="352.5" cy="545.2" r="1.3"/><circle cx="411.7" cy="549.1" r="1.3"/><circle cx="359.9" cy="538.3" r="1.3"/><circle cx="422.9" cy="549.3" r="1.3"/><circle cx="401.3" cy="513.2" r="1.3"/><circle cx="374.5" cy="547.5" r="1.3"/><circle cx="358.3" cy="522.6" r="1.3"/><circle cx="361.7" cy="537.5" r="1.3"/><circle cx="406.4" cy="545.3" r="1.3"/><circle cx="369.8" cy="550.4" r="1.3"/><circle cx="443.9" cy="545.8" r="1.3"/><circle cx="381.1" cy="536.5" r="1.3"/><circle cx="371.0" cy="525.5" r="1.3"/><circle cx="368.6" cy="546.6" r="1.3"/><circle cx="364.0" cy="518.3" r="1.3"/><circle cx="371.5" cy="545.7" r="1.3"/><circle cx="386.1" cy="525.8" r="1.3"/><circle cx="374.8" cy="541.0" r="1.3"/><circle cx="358.7" cy="544.0" r="1.3"/><circle cx="364.6" cy="508.5" r="1.3"/><circle cx="356.5" cy="509.1" r="1.3"/><circle cx="362.1" cy="509.2" r="1.3"/><circle cx="353.3" cy="522.6" r="1.3"/><circle cx="404.2" cy="547.8" r="1.3"/><circle cx="413.2" cy="534.7" r="1.3"/><circle cx="380.2" cy="529.2" r="1.3"/><circle cx="354.9" cy="546.8" r="1.3"/><circle cx="407.6" cy="550.2" r="1.3"/><circle cx="447.4" cy="541.2" r="1.3"/><circle cx="347.4" cy="525.7" r="1.3"/><circle cx="372.7" cy="537.8" r="1.3"/><circle cx="388.9" cy="526.8" r="1.3"/><circle cx="382.3" cy="521.0" r="1.3"/><circle cx="410.8" cy="539.6" r="1.3"/><circle cx="381.4" cy="543.6" r="1.3"/><circle cx="412.6" cy="519.8" r="1.3"/><circle cx="424.6" cy="538.5" r="1.3"/><circle cx="378.6" cy="510.5" r="1.3"/><circle cx="391.6" cy="511.5" r="1.3"/><circle cx="398.1" cy="537.6" r="1.3"/><circle cx="378.5" cy="531.5" r="1.3"/><circle cx="399.6" cy="540.6" r="1.3"/><circle cx="417.2" cy="549.5" r="1.3"/><circle cx="374.7" cy="546.9" r="1.3"/><circle cx="396.3" cy="550.2" r="1.3"/><circle cx="399.6" cy="545.5" r="1.3"/><circle cx="362.7" cy="542.2" r="1.3"/><circle cx="377.2" cy="538.9" r="1.3"/><circle cx="419.4" cy="524.6" r="1.3"/><circle cx="371.2" cy="529.2" r="1.3"/><circle cx="388.6" cy="539.1" r="1.3"/><circle cx="400.5" cy="531.0" r="1.3"/><circle cx="349.4" cy="531.0" r="1.3"/><circle cx="420.3" cy="539.4" r="1.3"/><circle cx="365.0" cy="539.7" r="1.3"/><circle cx="440.2" cy="545.8" r="1.3"/><circle cx="381.8" cy="549.6" r="1.3"/><circle cx="438.4" cy="537.3" r="1.3"/><circle cx="403.0" cy="541.9" r="1.3"/><circle cx="349.7" cy="524.2" r="1.3"/><circle cx="385.0" cy="542.5" r="1.3"/><circle cx="399.3" cy="535.1" r="1.3"/><circle cx="386.8" cy="550.3" r="1.3"/><circle cx="407.2" cy="524.1" r="1.3"/><circle cx="406.3" cy="524.0" r="1.3"/><circle cx="367.6" cy="516.2" r="1.3"/><circle cx="373.6" cy="536.6" r="1.3"/><circle cx="377.2" cy="550.8" r="1.3"/><circle cx="391.4" cy="550.5" r="1.3"/><circle cx="367.2" cy="551.8" r="1.3"/><circle cx="368.2" cy="506.7" r="1.3"/><circle cx="369.1" cy="513.3" r="1.3"/><circle cx="359.8" cy="531.4" r="1.3"/><circle cx="395.1" cy="540.8" r="1.3"/><circle cx="353.0" cy="535.8" r="1.3"/><circle cx="376.0" cy="521.5" r="1.3"/><circle cx="400.8" cy="524.4" r="1.3"/><circle cx="392.1" cy="527.9" r="1.3"/><circle cx="355.3" cy="533.4" r="1.3"/><circle cx="383.6" cy="534.6" r="1.3"/><circle cx="367.9" cy="530.4" r="1.3"/><circle cx="365.7" cy="545.0" r="1.3"/><circle cx="352.1" cy="517.6" r="1.3"/><circle cx="406.0" cy="522.7" r="1.3"/><circle cx="395.7" cy="531.1" r="1.3"/><circle cx="386.7" cy="513.2" r="1.3"/><circle cx="375.3" cy="511.1" r="1.3"/><circle cx="374.3" cy="543.0" r="1.3"/><circle cx="385.0" cy="544.1" r="1.3"/><circle cx="392.3" cy="521.4" r="1.3"/><circle cx="397.1" cy="549.7" r="1.3"/><circle cx="378.4" cy="520.6" r="1.3"/><circle cx="425.2" cy="530.8" r="1.3"/><circle cx="397.4" cy="519.8" r="1.3"/><circle cx="362.6" cy="537.2" r="1.3"/><circle cx="409.3" cy="539.6" r="1.3"/><circle cx="354.1" cy="551.7" r="1.3"/><circle cx="418.7" cy="531.4" r="1.3"/><circle cx="410.8" cy="545.4" r="1.3"/><circle cx="417.2" cy="537.3" r="1.3"/><circle cx="402.2" cy="519.2" r="1.3"/><circle cx="378.7" cy="514.2" r="1.3"/><circle cx="427.0" cy="537.3" r="1.3"/><circle cx="356.7" cy="530.3" r="1.3"/><circle cx="359.2" cy="525.0" r="1.3"/><circle cx="368.2" cy="538.8" r="1.3"/><circle cx="439.2" cy="540.4" r="1.3"/><circle cx="384.8" cy="513.1" r="1.3"/><circle cx="387.4" cy="538.8" r="1.3"/><circle cx="417.8" cy="526.3" r="1.3"/><circle cx="414.3" cy="526.5" r="1.3"/><circle cx="397.7" cy="541.1" r="1.3"/><circle cx="375.7" cy="541.2" r="1.3"/><circle cx="405.9" cy="517.5" r="1.3"/><circle cx="390.9" cy="535.7" r="1.3"/><circle cx="433.6" cy="539.4" r="1.3"/><circle cx="435.1" cy="533.1" r="1.3"/><circle cx="367.3" cy="511.3" r="1.3"/><circle cx="423.9" cy="538.8" r="1.3"/><circle cx="438.7" cy="539.0" r="1.3"/><circle cx="349.0" cy="533.9" r="1.3"/><circle cx="379.2" cy="529.3" r="1.3"/><circle cx="360.1" cy="524.4" r="1.3"/><circle cx="390.8" cy="547.8" r="1.3"/><circle cx="397.2" cy="529.8" r="1.3"/><circle cx="361.1" cy="525.2" r="1.3"/><circle cx="425.1" cy="534.1" r="1.3"/><circle cx="398.7" cy="516.7" r="1.3"/><circle cx="389.0" cy="511.6" r="1.3"/><circle cx="432.0" cy="534.2" r="1.3"/><circle cx="432.5" cy="548.0" r="1.3"/><circle cx="401.8" cy="521.7" r="1.3"/><circle cx="422.1" cy="545.2" r="1.3"/><circle cx="389.6" cy="522.2" r="1.3"/><circle cx="382.3" cy="518.1" r="1.3"/><circle cx="368.4" cy="506.2" r="1.3"/><circle cx="406.8" cy="538.8" r="1.3"/><circle cx="387.0" cy="540.7" r="1.3"/><circle cx="409.8" cy="543.2" r="1.3"/><circle cx="388.9" cy="530.9" r="1.3"/><circle cx="372.3" cy="517.3" r="1.3"/><circle cx="432.6" cy="540.6" r="1.3"/><circle cx="396.4" cy="548.1" r="1.3"/><circle cx="425.0" cy="530.0" r="1.3"/><circle cx="350.4" cy="536.8" r="1.3"/><circle cx="379.9" cy="516.8" r="1.3"/><circle cx="404.3" cy="525.1" r="1.3"/><circle cx="350.9" cy="502.7" r="1.3"/><circle cx="350.2" cy="542.5" r="1.3"/><circle cx="429.0" cy="547.3" r="1.3"/><circle cx="357.0" cy="527.1" r="1.3"/><circle cx="401.7" cy="516.2" r="1.3"/><circle cx="360.9" cy="524.4" r="1.3"/><circle cx="416.7" cy="545.2" r="1.3"/><circle cx="375.0" cy="527.9" r="1.3"/><circle cx="407.7" cy="551.0" r="1.3"/><circle cx="384.0" cy="549.3" r="1.3"/><circle cx="349.6" cy="515.0" r="1.3"/><circle cx="415.0" cy="540.4" r="1.3"/><circle cx="391.5" cy="544.9" r="1.3"/><circle cx="398.1" cy="520.1" r="1.3"/><circle cx="439.6" cy="545.0" r="1.3"/><circle cx="369.2" cy="552.1" r="1.3"/><circle cx="444.5" cy="538.3" r="1.3"/><circle cx="388.5" cy="551.9" r="1.3"/><circle cx="373.1" cy="551.7" r="1.3"/><circle cx="353.3" cy="520.8" r="1.3"/><circle cx="391.5" cy="511.3" r="1.3"/><circle cx="367.7" cy="526.5" r="1.3"/><circle cx="369.1" cy="517.3" r="1.3"/><circle cx="406.3" cy="518.9" r="1.3"/><circle cx="409.4" cy="535.6" r="1.3"/><circle cx="403.4" cy="518.5" r="1.3"/><circle cx="363.5" cy="544.0" r="1.3"/><circle cx="373.3" cy="521.6" r="1.3"/><circle cx="375.6" cy="520.6" r="1.3"/><circle cx="368.5" cy="541.9" r="1.3"/><circle cx="407.5" cy="531.7" r="1.3"/><circle cx="360.9" cy="510.8" r="1.3"/><circle cx="355.7" cy="511.2" r="1.3"/><circle cx="373.4" cy="530.1" r="1.3"/><circle cx="361.0" cy="530.0" r="1.3"/><circle cx="446.8" cy="542.8" r="1.3"/><circle cx="417.1" cy="533.1" r="1.3"/><circle cx="372.6" cy="523.4" r="1.3"/><circle cx="389.6" cy="546.6" r="1.3"/><circle cx="381.0" cy="523.3" r="1.3"/><circle cx="360.6" cy="531.9" r="1.3"/><circle cx="390.6" cy="519.1" r="1.3"/><circle cx="354.1" cy="537.6" r="1.3"/><circle cx="384.5" cy="548.1" r="1.3"/><circle cx="357.2" cy="506.5" r="1.3"/><circle cx="363.8" cy="517.6" r="1.3"/><circle cx="399.3" cy="517.2" r="1.3"/><circle cx="416.7" cy="524.3" r="1.3"/><circle cx="348.3" cy="522.3" r="1.3"/><circle cx="365.3" cy="517.6" r="1.3"/><circle cx="393.8" cy="521.9" r="1.3"/><circle cx="409.4" cy="527.9" r="1.3"/><circle cx="361.9" cy="511.6" r="1.3"/><circle cx="351.0" cy="519.9" r="1.3"/><circle cx="408.7" cy="524.0" r="1.3"/><circle cx="449.7" cy="545.1" r="1.3"/><circle cx="420.8" cy="538.5" r="1.3"/><circle cx="356.8" cy="516.5" r="1.3"/><circle cx="415.2" cy="523.9" r="1.3"/><circle cx="394.2" cy="551.2" r="1.3"/><circle cx="379.9" cy="513.3" r="1.3"/><circle cx="424.7" cy="545.9" r="1.3"/><circle cx="432.6" cy="538.0" r="1.3"/><circle cx="374.7" cy="534.7" r="1.3"/><circle cx="358.1" cy="534.9" r="1.3"/><circle cx="394.8" cy="530.4" r="1.3"/><circle cx="398.0" cy="540.7" r="1.3"/><circle cx="356.8" cy="503.7" r="1.3"/><circle cx="408.1" cy="532.5" r="1.3"/><circle cx="381.0" cy="532.1" r="1.3"/><circle cx="391.6" cy="524.6" r="1.3"/><circle cx="349.5" cy="535.2" r="1.3"/><circle cx="356.4" cy="521.1" r="1.3"/><circle cx="417.6" cy="528.6" r="1.3"/><circle cx="404.9" cy="543.6" r="1.3"/><circle cx="399.1" cy="547.3" r="1.3"/><circle cx="421.4" cy="537.3" r="1.3"/><circle cx="411.1" cy="541.1" r="1.3"/><circle cx="371.1" cy="514.7" r="1.3"/><circle cx="399.4" cy="513.5" r="1.3"/><circle cx="385.0" cy="533.8" r="1.3"/><circle cx="354.5" cy="503.1" r="1.3"/><circle cx="357.4" cy="533.0" r="1.3"/><circle cx="406.5" cy="548.6" r="1.3"/><circle cx="400.2" cy="548.7" r="1.3"/><circle cx="428.8" cy="537.3" r="1.3"/><circle cx="421.0" cy="549.0" r="1.3"/><circle cx="360.9" cy="516.2" r="1.3"/><circle cx="415.0" cy="537.9" r="1.3"/><circle cx="363.8" cy="511.7" r="1.3"/><circle cx="412.2" cy="540.9" r="1.3"/><circle cx="385.3" cy="540.9" r="1.3"/><circle cx="380.3" cy="521.8" r="1.3"/><circle cx="393.8" cy="537.0" r="1.3"/><circle cx="360.2" cy="506.6" r="1.3"/><circle cx="418.2" cy="548.9" r="1.3"/><circle cx="430.0" cy="541.3" r="1.3"/><circle cx="349.5" cy="535.7" r="1.3"/><circle cx="403.3" cy="518.7" r="1.3"/><circle cx="413.3" cy="534.1" r="1.3"/><circle cx="366.8" cy="535.7" r="1.3"/><circle cx="357.9" cy="512.2" r="1.3"/><circle cx="426.1" cy="544.4" r="1.3"/><circle cx="383.3" cy="520.3" r="1.3"/><circle cx="421.7" cy="532.5" r="1.3"/><circle cx="426.8" cy="545.6" r="1.3"/><circle cx="350.2" cy="513.0" r="1.3"/><circle cx="431.6" cy="538.0" r="1.3"/><circle cx="389.0" cy="544.7" r="1.3"/><circle cx="363.9" cy="530.9" r="1.3"/><circle cx="365.5" cy="552.5" r="1.3"/><circle cx="375.8" cy="545.4" r="1.3"/><circle cx="386.3" cy="542.8" r="1.3"/><circle cx="379.5" cy="549.2" r="1.3"/><circle cx="395.4" cy="547.9" r="1.3"/><circle cx="375.2" cy="535.0" r="1.3"/><circle cx="363.2" cy="515.8" r="1.3"/><circle cx="377.7" cy="547.2" r="1.3"/><circle cx="380.9" cy="518.2" r="1.3"/><circle cx="354.4" cy="526.0" r="1.3"/><circle cx="411.4" cy="533.2" r="1.3"/><circle cx="389.2" cy="518.2" r="1.3"/><circle cx="376.3" cy="517.5" r="1.3"/><circle cx="356.2" cy="539.7" r="1.3"/><circle cx="363.3" cy="507.9" r="1.3"/><circle cx="386.3" cy="515.9" r="1.3"/><circle cx="374.5" cy="508.8" r="1.3"/><circle cx="351.1" cy="521.9" r="1.3"/><circle cx="374.7" cy="519.8" r="1.3"/><circle cx="364.5" cy="529.4" r="1.3"/><circle cx="367.6" cy="519.5" r="1.3"/><circle cx="439.8" cy="537.1" r="1.3"/><circle cx="361.2" cy="549.5" r="1.3"/><circle cx="406.4" cy="531.6" r="1.3"/><circle cx="389.3" cy="520.6" r="1.3"/><circle cx="436.7" cy="547.7" r="1.3"/><circle cx="357.8" cy="551.6" r="1.3"/><circle cx="380.1" cy="552.1" r="1.3"/><circle cx="419.9" cy="534.7" r="1.3"/><circle cx="372.5" cy="507.6" r="1.3"/><circle cx="401.7" cy="523.9" r="1.3"/><circle cx="441.0" cy="542.3" r="1.3"/><circle cx="397.5" cy="522.5" r="1.3"/><circle cx="441.9" cy="538.2" r="1.3"/><circle cx="364.4" cy="509.4" r="1.3"/><circle cx="403.1" cy="548.1" r="1.3"/><circle cx="355.9" cy="522.0" r="1.3"/><circle cx="352.9" cy="530.8" r="1.3"/><circle cx="381.6" cy="508.2" r="1.3"/><circle cx="356.9" cy="523.7" r="1.3"/><circle cx="348.9" cy="527.7" r="1.3"/><circle cx="359.3" cy="505.9" r="1.3"/><circle cx="357.4" cy="549.3" r="1.3"/><circle cx="409.8" cy="542.0" r="1.3"/><circle cx="394.0" cy="535.0" r="1.3"/><circle cx="375.3" cy="512.9" r="1.3"/><circle cx="355.1" cy="525.9" r="1.3"/><circle cx="373.2" cy="525.3" r="1.3"/><circle cx="402.7" cy="552.2" r="1.3"/><circle cx="371.1" cy="518.9" r="1.3"/><circle cx="399.5" cy="520.7" r="1.3"/><circle cx="351.4" cy="531.8" r="1.3"/><circle cx="387.8" cy="539.9" r="1.3"/><circle cx="380.9" cy="535.3" r="1.3"/><circle cx="349.9" cy="531.0" r="1.3"/><circle cx="416.9" cy="540.5" r="1.3"/><circle cx="378.7" cy="539.2" r="1.3"/><circle cx="381.2" cy="520.6" r="1.3"/><circle cx="378.0" cy="520.9" r="1.3"/><circle cx="393.0" cy="520.4" r="1.3"/><circle cx="429.6" cy="533.8" r="1.3"/><circle cx="354.3" cy="549.2" r="1.3"/><circle cx="416.8" cy="524.1" r="1.3"/><circle cx="420.3" cy="529.5" r="1.3"/><circle cx="382.0" cy="525.2" r="1.3"/><circle cx="397.3" cy="515.7" r="1.3"/><circle cx="361.9" cy="517.2" r="1.3"/><circle cx="421.6" cy="550.0" r="1.3"/><circle cx="349.0" cy="523.1" r="1.3"/><circle cx="400.4" cy="542.8" r="1.3"/><circle cx="376.4" cy="525.1" r="1.3"/><circle cx="377.2" cy="510.1" r="1.3"/><circle cx="435.2" cy="547.3" r="1.3"/><circle cx="356.3" cy="502.5" r="1.3"/><circle cx="418.6" cy="533.3" r="1.3"/><circle cx="394.6" cy="514.4" r="1.3"/><circle cx="392.8" cy="542.6" r="1.3"/><circle cx="388.0" cy="548.1" r="1.3"/><circle cx="356.9" cy="548.9" r="1.3"/><circle cx="374.5" cy="530.4" r="1.3"/><circle cx="376.9" cy="528.3" r="1.3"/><circle cx="385.2" cy="520.0" r="1.3"/><circle cx="427.1" cy="548.1" r="1.3"/><circle cx="386.2" cy="526.5" r="1.3"/><circle cx="384.0" cy="521.4" r="1.3"/><circle cx="387.9" cy="528.9" r="1.3"/><circle cx="429.5" cy="544.0" r="1.3"/><circle cx="401.6" cy="515.6" r="1.3"/><circle cx="384.6" cy="531.8" r="1.3"/><circle cx="420.1" cy="548.6" r="1.3"/><circle cx="370.8" cy="512.9" r="1.3"/><circle cx="367.9" cy="513.1" r="1.3"/><circle cx="407.5" cy="538.2" r="1.3"/><circle cx="393.0" cy="539.8" r="1.3"/><circle cx="450.2" cy="545.6" r="1.3"/><circle cx="359.6" cy="540.7" r="1.3"/><circle cx="395.6" cy="533.0" r="1.3"/><circle cx="375.0" cy="550.7" r="1.3"/><circle cx="370.2" cy="524.7" r="1.3"/><circle cx="363.5" cy="509.5" r="1.3"/><circle cx="410.7" cy="539.6" r="1.3"/><circle cx="390.3" cy="535.5" r="1.3"/><circle cx="350.7" cy="504.1" r="1.3"/><circle cx="396.1" cy="521.8" r="1.3"/><circle cx="408.1" cy="544.3" r="1.3"/><circle cx="379.3" cy="551.4" r="1.3"/><circle cx="399.6" cy="525.5" r="1.3"/><circle cx="348.9" cy="522.5" r="1.3"/><circle cx="372.8" cy="551.5" r="1.3"/><circle cx="441.0" cy="536.9" r="1.3"/><circle cx="402.3" cy="548.4" r="1.3"/><circle cx="370.6" cy="533.0" r="1.3"/><circle cx="387.6" cy="510.6" r="1.3"/><circle cx="426.9" cy="542.8" r="1.3"/><circle cx="389.1" cy="534.1" r="1.3"/><circle cx="367.0" cy="526.9" r="1.3"/><circle cx="363.4" cy="518.6" r="1.3"/><circle cx="365.1" cy="532.1" r="1.3"/><circle cx="405.0" cy="519.3" r="1.3"/><circle cx="370.9" cy="537.5" r="1.3"/><circle cx="389.5" cy="516.0" r="1.3"/><circle cx="434.0" cy="543.8" r="1.3"/><circle cx="365.9" cy="535.6" r="1.3"/><circle cx="363.3" cy="509.3" r="1.3"/><circle cx="427.5" cy="540.9" r="1.3"/><circle cx="351.6" cy="531.3" r="1.3"/><circle cx="404.1" cy="521.4" r="1.3"/><circle cx="415.6" cy="544.4" r="1.3"/><circle cx="368.3" cy="530.7" r="1.3"/><circle cx="428.5" cy="541.8" r="1.3"/><circle cx="382.9" cy="530.1" r="1.3"/><circle cx="407.6" cy="532.7" r="1.3"/><circle cx="362.0" cy="522.4" r="1.3"/><circle cx="369.5" cy="545.2" r="1.3"/><circle cx="356.6" cy="526.7" r="1.3"/><circle cx="406.7" cy="529.1" r="1.3"/><circle cx="358.7" cy="521.5" r="1.3"/><circle cx="411.0" cy="538.7" r="1.3"/><circle cx="384.2" cy="509.4" r="1.3"/><circle cx="359.1" cy="518.5" r="1.3"/><circle cx="418.8" cy="536.8" r="1.3"/><circle cx="379.2" cy="551.4" r="1.3"/><circle cx="391.8" cy="533.1" r="1.3"/><circle cx="364.7" cy="537.1" r="1.3"/><circle cx="382.8" cy="520.0" r="1.3"/><circle cx="403.2" cy="538.1" r="1.3"/><circle cx="351.9" cy="549.1" r="1.3"/><circle cx="356.8" cy="536.9" r="1.3"/><circle cx="362.6" cy="521.1" r="1.3"/><circle cx="440.7" cy="540.2" r="1.3"/><circle cx="386.3" cy="536.3" r="1.3"/><circle cx="388.8" cy="527.8" r="1.3"/><circle cx="367.9" cy="519.9" r="1.3"/><circle cx="430.0" cy="540.1" r="1.3"/><circle cx="444.3" cy="543.4" r="1.3"/><circle cx="353.1" cy="508.2" r="1.3"/><circle cx="405.5" cy="534.8" r="1.3"/><circle cx="392.4" cy="534.0" r="1.3"/><circle cx="416.1" cy="538.3" r="1.3"/><circle cx="367.8" cy="545.2" r="1.3"/><circle cx="356.3" cy="499.6" r="1.3"/><circle cx="427.8" cy="532.7" r="1.3"/><circle cx="362.0" cy="538.1" r="1.3"/><circle cx="366.7" cy="539.9" r="1.3"/><circle cx="422.3" cy="539.2" r="1.3"/><circle cx="388.4" cy="517.3" r="1.3"/><circle cx="373.3" cy="538.7" r="1.3"/><circle cx="347.9" cy="518.4" r="1.3"/><circle cx="395.6" cy="547.4" r="1.3"/><circle cx="355.5" cy="542.4" r="1.3"/><circle cx="364.9" cy="520.8" r="1.3"/><circle cx="415.0" cy="540.4" r="1.3"/><circle cx="367.4" cy="532.2" r="1.3"/><circle cx="364.5" cy="515.9" r="1.3"/><circle cx="384.4" cy="547.8" r="1.3"/><circle cx="363.8" cy="509.1" r="1.3"/><circle cx="397.0" cy="544.5" r="1.3"/><circle cx="355.2" cy="523.7" r="1.3"/><circle cx="379.2" cy="528.8" r="1.3"/><circle cx="409.3" cy="527.8" r="1.3"/><circle cx="361.3" cy="520.5" r="1.3"/><circle cx="356.2" cy="518.7" r="1.3"/><circle cx="408.3" cy="546.7" r="1.3"/><circle cx="373.6" cy="539.8" r="1.3"/><circle cx="358.8" cy="516.8" r="1.3"/><circle cx="364.7" cy="507.4" r="1.3"/><circle cx="361.2" cy="536.6" r="1.3"/><circle cx="368.4" cy="539.2" r="1.3"/><circle cx="409.3" cy="549.3" r="1.3"/><circle cx="361.2" cy="541.3" r="1.3"/><circle cx="386.6" cy="547.3" r="1.3"/><circle cx="368.4" cy="547.4" r="1.3"/><circle cx="377.1" cy="515.5" r="1.3"/><circle cx="358.5" cy="540.1" r="1.3"/><circle cx="388.5" cy="515.8" r="1.3"/><circle cx="405.1" cy="542.4" r="1.3"/><circle cx="396.8" cy="540.5" r="1.3"/><circle cx="420.2" cy="546.9" r="1.3"/><circle cx="378.9" cy="526.0" r="1.3"/><circle cx="355.6" cy="510.1" r="1.3"/><circle cx="421.6" cy="550.1" r="1.3"/><circle cx="406.1" cy="533.8" r="1.3"/><circle cx="354.0" cy="534.1" r="1.3"/><circle cx="380.3" cy="541.0" r="1.3"/><circle cx="385.3" cy="516.1" r="1.3"/><circle cx="366.5" cy="538.7" r="1.3"/><circle cx="354.8" cy="501.7" r="1.3"/><circle cx="434.9" cy="547.9" r="1.3"/><circle cx="370.1" cy="509.5" r="1.3"/><circle cx="372.9" cy="486.3" r="1.3"/><circle cx="369.7" cy="486.2" r="1.3"/><circle cx="360.1" cy="496.6" r="1.3"/><circle cx="375.7" cy="486.4" r="1.3"/><circle cx="372.5" cy="487.3" r="1.3"/><circle cx="392.7" cy="474.2" r="1.3"/><circle cx="370.4" cy="483.1" r="1.3"/><circle cx="355.1" cy="498.8" r="1.3"/><circle cx="374.6" cy="487.2" r="1.3"/><circle cx="384.1" cy="476.7" r="1.3"/><circle cx="366.6" cy="490.4" r="1.3"/><circle cx="362.6" cy="494.5" r="1.3"/><circle cx="362.3" cy="493.5" r="1.3"/><circle cx="360.7" cy="499.0" r="1.3"/><circle cx="380.9" cy="476.3" r="1.3"/><circle cx="359.8" cy="500.2" r="1.3"/><circle cx="373.6" cy="482.3" r="1.3"/><circle cx="393.9" cy="471.8" r="1.3"/><circle cx="367.5" cy="488.1" r="1.3"/><circle cx="357.3" cy="500.9" r="1.3"/><circle cx="364.0" cy="488.5" r="1.3"/><circle cx="357.9" cy="497.0" r="1.3"/><circle cx="374.3" cy="481.0" r="1.3"/><circle cx="387.4" cy="473.4" r="1.3"/><circle cx="368.2" cy="489.8" r="1.3"/><circle cx="386.7" cy="472.7" r="1.3"/><circle cx="366.6" cy="494.0" r="1.3"/><circle cx="359.9" cy="496.6" r="1.3"/><circle cx="366.8" cy="488.5" r="1.3"/><circle cx="383.3" cy="480.9" r="1.3"/><circle cx="393.5" cy="468.1" r="1.3"/><circle cx="385.3" cy="476.3" r="1.3"/><circle cx="378.0" cy="485.1" r="1.3"/><circle cx="394.0" cy="472.6" r="1.3"/><circle cx="365.6" cy="488.3" r="1.3"/><circle cx="365.4" cy="491.4" r="1.3"/><circle cx="376.6" cy="482.0" r="1.3"/><circle cx="389.8" cy="473.1" r="1.3"/><circle cx="354.6" cy="502.7" r="1.3"/><circle cx="374.7" cy="485.2" r="1.3"/><circle cx="370.8" cy="492.0" r="1.3"/><circle cx="353.0" cy="503.6" r="1.3"/><circle cx="358.2" cy="498.5" r="1.3"/><circle cx="362.8" cy="493.4" r="1.3"/><circle cx="389.3" cy="477.0" r="1.3"/><circle cx="365.4" cy="496.5" r="1.3"/><circle cx="385.2" cy="477.7" r="1.3"/><circle cx="374.7" cy="486.5" r="1.3"/><circle cx="378.9" cy="482.5" r="1.3"/><circle cx="381.4" cy="479.7" r="1.3"/><circle cx="383.4" cy="476.6" r="1.3"/><circle cx="379.5" cy="476.8" r="1.3"/><circle cx="375.1" cy="482.1" r="1.3"/><circle cx="376.7" cy="480.3" r="1.3"/><circle cx="369.7" cy="487.3" r="1.3"/><circle cx="393.5" cy="471.9" r="1.3"/><circle cx="354.4" cy="500.6" r="1.3"/><circle cx="359.0" cy="497.1" r="1.3"/><circle cx="359.9" cy="495.9" r="1.3"/><circle cx="363.7" cy="493.6" r="1.3"/><circle cx="371.6" cy="490.6" r="1.3"/><circle cx="389.4" cy="474.1" r="1.3"/><circle cx="380.6" cy="482.7" r="1.3"/><circle cx="354.2" cy="499.8" r="1.3"/><circle cx="363.5" cy="490.1" r="1.3"/><circle cx="368.8" cy="490.8" r="1.3"/><circle cx="377.7" cy="480.1" r="1.3"/><circle cx="387.1" cy="475.7" r="1.3"/><circle cx="362.7" cy="493.5" r="1.3"/><circle cx="386.6" cy="476.5" r="1.3"/><circle cx="379.9" cy="485.1" r="1.3"/><circle cx="392.7" cy="469.7" r="1.3"/><circle cx="370.1" cy="485.1" r="1.3"/><circle cx="386.0" cy="479.5" r="1.3"/><circle cx="376.6" cy="483.2" r="1.3"/><circle cx="388.0" cy="474.6" r="1.3"/><circle cx="380.8" cy="482.5" r="1.3"/><circle cx="376.4" cy="479.8" r="1.3"/><circle cx="381.2" cy="480.2" r="1.3"/><circle cx="379.5" cy="476.9" r="1.3"/><circle cx="366.8" cy="487.6" r="1.3"/><circle cx="387.7" cy="477.2" r="1.3"/><circle cx="388.5" cy="476.0" r="1.3"/><circle cx="377.5" cy="483.3" r="1.3"/><circle cx="372.8" cy="481.4" r="1.3"/><circle cx="358.7" cy="502.4" r="1.3"/><circle cx="355.3" cy="501.9" r="1.3"/><circle cx="372.7" cy="488.0" r="1.3"/><circle cx="362.1" cy="492.3" r="1.3"/><circle cx="373.1" cy="490.3" r="1.3"/><circle cx="388.8" cy="474.6" r="1.3"/><circle cx="391.1" cy="472.2" r="1.3"/><circle cx="369.8" cy="483.7" r="1.3"/><circle cx="379.3" cy="479.3" r="1.3"/><circle cx="360.1" cy="493.3" r="1.3"/><circle cx="358.7" cy="500.4" r="1.3"/><circle cx="372.7" cy="487.1" r="1.3"/><circle cx="375.6" cy="485.2" r="1.3"/><circle cx="354.7" cy="501.0" r="1.3"/><circle cx="377.4" cy="484.6" r="1.3"/><circle cx="364.8" cy="488.9" r="1.3"/><circle cx="379.2" cy="483.0" r="1.3"/><circle cx="358.2" cy="496.5" r="1.3"/><circle cx="370.1" cy="483.5" r="1.3"/><circle cx="372.0" cy="481.9" r="1.3"/><circle cx="392.1" cy="469.8" r="1.3"/><circle cx="390.5" cy="472.8" r="1.3"/><circle cx="365.2" cy="492.6" r="1.3"/><circle cx="391.5" cy="472.5" r="1.3"/><circle cx="391.1" cy="470.5" r="1.3"/><circle cx="390.2" cy="472.1" r="1.3"/><circle cx="391.4" cy="472.0" r="1.3"/><circle cx="363.6" cy="488.8" r="1.3"/><circle cx="354.1" cy="502.7" r="1.3"/><circle cx="371.8" cy="488.6" r="1.3"/><circle cx="353.0" cy="500.7" r="1.3"/><circle cx="366.2" cy="487.2" r="1.3"/><circle cx="366.8" cy="493.0" r="1.3"/><circle cx="383.3" cy="478.6" r="1.3"/><circle cx="379.6" cy="484.4" r="1.3"/><circle cx="391.3" cy="469.5" r="1.3"/><circle cx="376.8" cy="481.8" r="1.3"/><circle cx="375.3" cy="483.5" r="1.3"/><circle cx="369.4" cy="483.8" r="1.3"/><circle cx="387.7" cy="479.4" r="1.3"/><circle cx="392.1" cy="474.2" r="1.3"/><circle cx="355.8" cy="496.1" r="1.3"/><circle cx="367.6" cy="492.5" r="1.3"/><circle cx="357.0" cy="494.0" r="1.3"/><circle cx="388.8" cy="472.4" r="1.3"/><circle cx="385.9" cy="475.6" r="1.3"/><circle cx="376.2" cy="479.2" r="1.3"/><circle cx="387.4" cy="472.2" r="1.3"/><circle cx="377.1" cy="483.4" r="1.3"/><circle cx="391.7" cy="475.0" r="1.3"/><circle cx="354.1" cy="499.9" r="1.3"/><circle cx="388.3" cy="476.6" r="1.3"/><circle cx="365.4" cy="485.6" r="1.3"/><circle cx="375.8" cy="485.2" r="1.3"/><circle cx="380.1" cy="480.5" r="1.3"/><circle cx="357.4" cy="500.2" r="1.3"/><circle cx="365.1" cy="494.3" r="1.3"/><circle cx="354.5" cy="496.7" r="1.3"/><circle cx="376.7" cy="481.9" r="1.3"/><circle cx="369.3" cy="488.6" r="1.3"/><circle cx="387.1" cy="477.0" r="1.3"/><circle cx="384.2" cy="479.8" r="1.3"/><circle cx="361.2" cy="496.3" r="1.3"/><circle cx="366.9" cy="487.2" r="1.3"/><circle cx="373.0" cy="482.4" r="1.3"/><circle cx="360.7" cy="495.6" r="1.3"/><circle cx="374.8" cy="485.0" r="1.3"/><circle cx="354.0" cy="497.7" r="1.3"/><circle cx="376.7" cy="478.0" r="1.3"/><circle cx="365.3" cy="496.3" r="1.3"/><circle cx="378.4" cy="483.0" r="1.3"/><circle cx="388.0" cy="477.1" r="1.3"/><circle cx="353.1" cy="503.6" r="1.3"/><circle cx="383.5" cy="480.5" r="1.3"/><circle cx="389.6" cy="469.5" r="1.3"/><circle cx="381.6" cy="483.3" r="1.3"/><circle cx="364.4" cy="494.6" r="1.3"/><circle cx="366.7" cy="487.2" r="1.3"/><circle cx="368.1" cy="490.0" r="1.3"/><circle cx="378.0" cy="480.1" r="1.3"/><circle cx="369.9" cy="483.5" r="1.3"/><circle cx="386.2" cy="473.5" r="1.3"/><circle cx="383.3" cy="476.8" r="1.3"/><circle cx="375.4" cy="478.0" r="1.3"/><circle cx="390.2" cy="470.9" r="1.3"/><circle cx="373.4" cy="496.8" r="1.3"/><circle cx="393.5" cy="480.7" r="1.3"/><circle cx="387.2" cy="489.2" r="1.3"/><circle cx="382.2" cy="488.2" r="1.3"/><circle cx="398.2" cy="484.4" r="1.3"/><circle cx="394.5" cy="496.0" r="1.3"/><circle cx="390.1" cy="479.5" r="1.3"/><circle cx="379.3" cy="484.4" r="1.3"/><circle cx="396.9" cy="476.7" r="1.3"/><circle cx="370.7" cy="490.6" r="1.3"/><circle cx="379.2" cy="489.5" r="1.3"/><circle cx="380.9" cy="490.6" r="1.3"/><circle cx="398.5" cy="479.9" r="1.3"/><circle cx="379.5" cy="495.5" r="1.3"/><circle cx="396.7" cy="473.4" r="1.3"/><circle cx="386.2" cy="492.3" r="1.3"/><circle cx="395.6" cy="496.2" r="1.3"/><circle cx="367.3" cy="492.1" r="1.3"/><circle cx="380.4" cy="493.6" r="1.3"/><circle cx="381.6" cy="494.7" r="1.3"/><circle cx="395.4" cy="483.2" r="1.3"/><circle cx="385.3" cy="498.4" r="1.3"/><circle cx="383.6" cy="485.3" r="1.3"/><circle cx="380.2" cy="484.6" r="1.3"/><circle cx="394.8" cy="483.3" r="1.3"/><circle cx="393.8" cy="485.8" r="1.3"/><circle cx="395.0" cy="488.8" r="1.3"/><circle cx="369.8" cy="493.2" r="1.3"/><circle cx="396.1" cy="476.1" r="1.3"/><circle cx="396.7" cy="476.9" r="1.3"/><circle cx="387.6" cy="493.6" r="1.3"/><circle cx="374.8" cy="490.4" r="1.3"/><circle cx="394.5" cy="474.6" r="1.3"/><circle cx="384.4" cy="492.8" r="1.3"/><circle cx="381.4" cy="494.4" r="1.3"/><circle cx="380.8" cy="482.1" r="1.3"/><circle cx="372.8" cy="498.6" r="1.3"/><circle cx="378.0" cy="486.6" r="1.3"/><circle cx="376.3" cy="489.4" r="1.3"/><circle cx="382.9" cy="492.0" r="1.3"/><circle cx="388.9" cy="481.7" r="1.3"/><circle cx="392.6" cy="481.1" r="1.3"/><circle cx="394.3" cy="491.9" r="1.3"/><circle cx="380.7" cy="493.0" r="1.3"/><circle cx="370.8" cy="492.1" r="1.3"/><circle cx="395.8" cy="490.9" r="1.3"/><circle cx="392.6" cy="488.3" r="1.3"/><circle cx="382.4" cy="490.5" r="1.3"/><circle cx="393.7" cy="493.7" r="1.3"/><circle cx="392.4" cy="476.7" r="1.3"/><circle cx="391.3" cy="495.7" r="1.3"/><circle cx="395.2" cy="471.3" r="1.3"/><circle cx="377.0" cy="494.2" r="1.3"/><circle cx="386.4" cy="486.7" r="1.3"/><circle cx="397.8" cy="486.5" r="1.3"/><circle cx="352.9" cy="504.4" r="1.3"/><circle cx="366.8" cy="514.6" r="1.3"/><circle cx="385.4" cy="498.7" r="1.3"/><circle cx="351.9" cy="503.9" r="1.3"/><circle cx="383.3" cy="503.8" r="1.3"/><circle cx="372.3" cy="508.8" r="1.3"/><circle cx="362.9" cy="506.7" r="1.3"/><circle cx="371.2" cy="506.6" r="1.3"/><circle cx="390.2" cy="509.0" r="1.3"/><circle cx="380.4" cy="507.0" r="1.3"/><circle cx="379.9" cy="498.5" r="1.3"/><circle cx="389.0" cy="512.0" r="1.3"/><circle cx="360.4" cy="503.3" r="1.3"/><circle cx="353.9" cy="509.2" r="1.3"/><circle cx="376.4" cy="508.1" r="1.3"/><circle cx="352.6" cy="512.2" r="1.3"/><circle cx="380.4" cy="507.8" r="1.3"/><circle cx="352.1" cy="510.1" r="1.3"/><circle cx="359.0" cy="502.7" r="1.3"/><circle cx="384.5" cy="504.6" r="1.3"/><circle cx="375.6" cy="506.6" r="1.3"/><circle cx="385.7" cy="509.2" r="1.3"/><circle cx="395.6" cy="501.2" r="1.3"/><circle cx="387.8" cy="510.7" r="1.3"/><circle cx="354.9" cy="513.6" r="1.3"/><circle cx="393.1" cy="513.6" r="1.3"/><circle cx="363.9" cy="511.3" r="1.3"/><circle cx="390.5" cy="496.7" r="1.3"/><circle cx="365.1" cy="511.4" r="1.3"/><circle cx="369.5" cy="506.5" r="1.3"/><circle cx="368.4" cy="501.3" r="1.3"/><circle cx="364.9" cy="504.1" r="1.3"/><circle cx="359.3" cy="505.1" r="1.3"/><circle cx="363.2" cy="514.7" r="1.3"/><circle cx="373.4" cy="507.2" r="1.3"/><circle cx="355.4" cy="505.4" r="1.3"/><circle cx="360.0" cy="512.7" r="1.3"/><circle cx="354.0" cy="503.7" r="1.3"/><circle cx="362.0" cy="510.0" r="1.3"/><circle cx="380.4" cy="497.9" r="1.3"/><circle cx="362.2" cy="510.9" r="1.3"/><circle cx="365.3" cy="504.9" r="1.3"/><circle cx="360.7" cy="510.3" r="1.3"/><circle cx="354.1" cy="506.4" r="1.3"/><circle cx="379.8" cy="507.0" r="1.3"/><circle cx="364.4" cy="499.0" r="1.3"/><circle cx="357.4" cy="506.7" r="1.3"/><circle cx="378.6" cy="502.0" r="1.3"/><circle cx="352.1" cy="505.5" r="1.3"/><circle cx="374.3" cy="506.6" r="1.3"/><circle cx="358.4" cy="514.4" r="1.3"/><circle cx="391.1" cy="497.5" r="1.3"/><circle cx="371.5" cy="505.3" r="1.3"/><circle cx="354.6" cy="506.9" r="1.3"/><circle cx="375.9" cy="496.5" r="1.3"/><circle cx="387.3" cy="507.4" r="1.3"/><circle cx="372.5" cy="499.0" r="1.3"/><circle cx="375.7" cy="508.4" r="1.3"/><circle cx="383.6" cy="515.1" r="1.3"/><circle cx="372.7" cy="506.8" r="1.3"/><circle cx="364.2" cy="511.1" r="1.3"/><circle cx="386.6" cy="507.6" r="1.3"/><circle cx="357.7" cy="505.0" r="1.3"/><circle cx="369.6" cy="507.0" r="1.3"/><circle cx="397.6" cy="515.7" r="1.3"/><circle cx="362.9" cy="504.8" r="1.3"/><circle cx="367.9" cy="508.0" r="1.3"/><circle cx="392.3" cy="500.5" r="1.3"/><circle cx="384.5" cy="513.1" r="1.3"/><circle cx="377.8" cy="512.3" r="1.3"/><circle cx="375.1" cy="503.9" r="1.3"/><circle cx="352.4" cy="505.8" r="1.3"/><circle cx="369.7" cy="502.1" r="1.3"/><circle cx="374.6" cy="507.6" r="1.3"/><circle cx="374.7" cy="503.5" r="1.3"/><circle cx="382.1" cy="509.3" r="1.3"/><circle cx="384.8" cy="510.2" r="1.3"/><circle cx="363.0" cy="513.5" r="1.3"/><circle cx="371.7" cy="510.8" r="1.3"/><circle cx="380.3" cy="498.9" r="1.3"/><circle cx="368.6" cy="511.1" r="1.3"/><circle cx="392.4" cy="500.2" r="1.3"/><circle cx="352.6" cy="505.6" r="1.3"/><circle cx="378.7" cy="505.1" r="1.3"/><circle cx="383.3" cy="499.1" r="1.3"/><circle cx="357.2" cy="514.9" r="1.3"/><circle cx="364.2" cy="504.0" r="1.3"/><circle cx="358.1" cy="511.6" r="1.3"/><circle cx="371.6" cy="506.4" r="1.3"/><circle cx="380.0" cy="511.4" r="1.3"/><circle cx="365.5" cy="510.3" r="1.3"/><circle cx="378.1" cy="513.4" r="1.3"/><circle cx="364.8" cy="511.5" r="1.3"/><circle cx="372.8" cy="498.4" r="1.3"/><circle cx="372.4" cy="496.2" r="1.3"/><circle cx="396.0" cy="499.1" r="1.3"/><circle cx="373.2" cy="506.0" r="1.3"/><circle cx="361.8" cy="506.1" r="1.3"/><circle cx="357.5" cy="515.0" r="1.3"/><circle cx="351.6" cy="511.5" r="1.3"/><circle cx="351.6" cy="510.8" r="1.3"/><circle cx="396.0" cy="512.3" r="1.3"/><circle cx="385.3" cy="510.6" r="1.3"/><circle cx="371.5" cy="507.9" r="1.3"/><circle cx="369.2" cy="507.1" r="1.3"/><circle cx="369.6" cy="511.5" r="1.3"/><circle cx="358.7" cy="500.1" r="1.3"/><circle cx="380.3" cy="503.7" r="1.3"/><circle cx="368.5" cy="509.1" r="1.3"/><circle cx="376.6" cy="505.4" r="1.3"/><circle cx="385.7" cy="502.2" r="1.3"/><circle cx="393.9" cy="503.6" r="1.3"/><circle cx="353.9" cy="512.7" r="1.3"/><circle cx="369.7" cy="503.8" r="1.3"/><circle cx="384.1" cy="506.5" r="1.3"/><circle cx="362.4" cy="508.1" r="1.3"/><circle cx="388.7" cy="507.6" r="1.3"/><circle cx="396.4" cy="514.7" r="1.3"/><circle cx="351.7" cy="511.0" r="1.3"/><circle cx="380.3" cy="497.7" r="1.3"/><circle cx="360.5" cy="502.1" r="1.3"/><circle cx="361.5" cy="497.1" r="1.3"/><circle cx="396.2" cy="507.7" r="1.3"/><circle cx="360.7" cy="499.6" r="1.3"/><circle cx="353.4" cy="511.6" r="1.3"/><circle cx="352.9" cy="509.9" r="1.3"/><circle cx="391.5" cy="509.4" r="1.3"/><circle cx="392.9" cy="497.3" r="1.3"/><circle cx="373.8" cy="511.4" r="1.3"/><circle cx="357.7" cy="507.8" r="1.3"/><circle cx="388.2" cy="516.3" r="1.3"/><circle cx="387.2" cy="510.4" r="1.3"/><circle cx="392.2" cy="510.6" r="1.3"/><circle cx="376.0" cy="510.4" r="1.3"/><circle cx="364.3" cy="496.0" r="1.3"/><circle cx="381.6" cy="503.8" r="1.3"/><circle cx="383.1" cy="503.3" r="1.3"/><circle cx="378.3" cy="503.3" r="1.3"/><circle cx="393.8" cy="512.7" r="1.3"/><circle cx="358.6" cy="510.4" r="1.3"/><circle cx="394.1" cy="497.1" r="1.3"/><circle cx="370.4" cy="512.0" r="1.3"/><circle cx="395.9" cy="506.5" r="1.3"/><circle cx="365.7" cy="513.1" r="1.3"/><circle cx="374.6" cy="510.8" r="1.3"/><circle cx="369.1" cy="502.7" r="1.3"/><circle cx="386.5" cy="499.6" r="1.3"/><circle cx="380.6" cy="508.4" r="1.3"/><circle cx="397.4" cy="505.1" r="1.3"/><circle cx="382.0" cy="506.0" r="1.3"/><circle cx="373.3" cy="511.4" r="1.3"/><circle cx="352.4" cy="500.7" r="1.3"/><circle cx="378.8" cy="502.5" r="1.3"/><circle cx="369.5" cy="502.5" r="1.3"/><circle cx="361.7" cy="508.1" r="1.3"/><circle cx="398.3" cy="499.9" r="1.3"/><circle cx="352.2" cy="509.1" r="1.3"/><circle cx="372.5" cy="502.7" r="1.3"/><circle cx="371.2" cy="499.5" r="1.3"/><circle cx="364.0" cy="505.3" r="1.3"/><circle cx="371.3" cy="499.3" r="1.3"/><circle cx="381.0" cy="513.7" r="1.3"/><circle cx="353.9" cy="504.8" r="1.3"/><circle cx="381.6" cy="513.6" r="1.3"/><circle cx="368.2" cy="508.2" r="1.3"/><circle cx="373.6" cy="496.2" r="1.3"/><circle cx="387.8" cy="502.3" r="1.3"/><circle cx="363.5" cy="502.7" r="1.3"/><circle cx="380.5" cy="509.2" r="1.3"/><circle cx="388.1" cy="499.2" r="1.3"/><circle cx="380.3" cy="513.8" r="1.3"/><circle cx="357.1" cy="505.2" r="1.3"/><circle cx="389.9" cy="511.9" r="1.3"/><circle cx="364.8" cy="513.6" r="1.3"/><circle cx="392.0" cy="501.5" r="1.3"/><circle cx="369.0" cy="496.2" r="1.3"/><circle cx="391.1" cy="502.9" r="1.3"/><circle cx="386.5" cy="502.6" r="1.3"/><circle cx="390.3" cy="509.5" r="1.3"/><circle cx="382.9" cy="500.2" r="1.3"/><circle cx="377.6" cy="513.1" r="1.3"/><circle cx="381.7" cy="495.8" r="1.3"/><circle cx="387.9" cy="508.6" r="1.3"/><circle cx="354.5" cy="510.9" r="1.3"/><circle cx="370.7" cy="501.3" r="1.3"/><circle cx="389.1" cy="508.8" r="1.3"/><circle cx="377.9" cy="502.0" r="1.3"/><circle cx="364.5" cy="516.4" r="1.3"/><circle cx="352.0" cy="500.4" r="1.3"/><circle cx="380.9" cy="500.5" r="1.3"/><circle cx="368.9" cy="509.4" r="1.3"/><circle cx="383.3" cy="509.3" r="1.3"/><circle cx="378.4" cy="496.4" r="1.3"/><circle cx="374.6" cy="508.8" r="1.3"/><circle cx="392.0" cy="507.0" r="1.3"/><circle cx="363.2" cy="505.7" r="1.3"/><circle cx="374.5" cy="498.3" r="1.3"/><circle cx="376.6" cy="510.6" r="1.3"/><circle cx="364.5" cy="500.4" r="1.3"/><circle cx="374.1" cy="507.6" r="1.3"/><circle cx="377.9" cy="497.1" r="1.3"/><circle cx="357.5" cy="507.0" r="1.3"/><circle cx="360.2" cy="510.3" r="1.3"/><circle cx="396.9" cy="504.3" r="1.3"/><circle cx="384.6" cy="498.6" r="1.3"/><circle cx="393.6" cy="502.3" r="1.3"/><circle cx="374.9" cy="505.9" r="1.3"/><circle cx="395.6" cy="510.9" r="1.3"/><circle cx="355.8" cy="503.5" r="1.3"/><circle cx="352.0" cy="512.8" r="1.3"/></g>
<g fill="#1c4a8c"><circle cx="369.6" cy="543.9" r="1.45"/><circle cx="374.5" cy="542.4" r="1.45"/><circle cx="358.0" cy="547.3" r="1.45"/><circle cx="376.6" cy="543.7" r="1.45"/><circle cx="364.4" cy="549.2" r="1.45"/><circle cx="351.6" cy="546.1" r="1.45"/><circle cx="361.9" cy="548.5" r="1.45"/><circle cx="375.6" cy="552.9" r="1.45"/><circle cx="372.7" cy="557.4" r="1.45"/><circle cx="356.4" cy="558.3" r="1.45"/><circle cx="375.8" cy="549.7" r="1.45"/><circle cx="368.0" cy="550.3" r="1.45"/><circle cx="373.7" cy="545.9" r="1.45"/><circle cx="372.7" cy="555.0" r="1.45"/><circle cx="356.3" cy="558.2" r="1.45"/><circle cx="372.9" cy="545.4" r="1.45"/><circle cx="362.3" cy="553.6" r="1.45"/><circle cx="386.0" cy="547.0" r="1.45"/><circle cx="377.0" cy="548.0" r="1.45"/><circle cx="369.5" cy="550.1" r="1.45"/><circle cx="358.2" cy="546.6" r="1.45"/><circle cx="369.6" cy="554.4" r="1.45"/><circle cx="370.8" cy="540.0" r="1.45"/><circle cx="355.7" cy="544.8" r="1.45"/><circle cx="393.5" cy="548.3" r="1.45"/><circle cx="373.3" cy="542.7" r="1.45"/><circle cx="387.6" cy="551.2" r="1.45"/><circle cx="356.8" cy="539.9" r="1.45"/><circle cx="387.0" cy="549.3" r="1.45"/><circle cx="354.0" cy="540.4" r="1.45"/><circle cx="361.8" cy="548.1" r="1.45"/><circle cx="375.0" cy="552.0" r="1.45"/><circle cx="369.5" cy="559.0" r="1.45"/><circle cx="346.0" cy="555.5" r="1.45"/><circle cx="356.8" cy="558.7" r="1.45"/><circle cx="378.2" cy="549.4" r="1.45"/><circle cx="392.0" cy="559.0" r="1.45"/><circle cx="379.1" cy="547.6" r="1.45"/><circle cx="366.0" cy="547.5" r="1.45"/><circle cx="377.8" cy="541.3" r="1.45"/><circle cx="356.4" cy="550.3" r="1.45"/><circle cx="374.6" cy="555.3" r="1.45"/><circle cx="354.2" cy="545.2" r="1.45"/><circle cx="368.9" cy="546.8" r="1.45"/><circle cx="367.6" cy="546.2" r="1.45"/><circle cx="377.8" cy="547.0" r="1.45"/><circle cx="365.7" cy="545.5" r="1.45"/><circle cx="382.2" cy="540.9" r="1.45"/><circle cx="366.8" cy="557.3" r="1.45"/><circle cx="378.2" cy="537.2" r="1.45"/><circle cx="377.7" cy="543.4" r="1.45"/><circle cx="348.8" cy="551.1" r="1.45"/><circle cx="369.4" cy="555.1" r="1.45"/><circle cx="369.4" cy="547.7" r="1.45"/><circle cx="360.4" cy="547.3" r="1.45"/><circle cx="371.0" cy="549.3" r="1.45"/><circle cx="353.0" cy="547.4" r="1.45"/><circle cx="375.1" cy="554.3" r="1.45"/><circle cx="374.6" cy="546.1" r="1.45"/><circle cx="372.3" cy="543.1" r="1.45"/><circle cx="396.2" cy="546.2" r="1.45"/><circle cx="372.9" cy="549.6" r="1.45"/><circle cx="369.7" cy="556.4" r="1.45"/><circle cx="360.9" cy="558.6" r="1.45"/><circle cx="372.3" cy="546.6" r="1.45"/><circle cx="358.4" cy="540.2" r="1.45"/><circle cx="383.0" cy="540.7" r="1.45"/><circle cx="361.9" cy="559.0" r="1.45"/><circle cx="370.7" cy="546.6" r="1.45"/><circle cx="390.9" cy="551.7" r="1.45"/><circle cx="381.8" cy="559.0" r="1.45"/><circle cx="371.7" cy="544.9" r="1.45"/><circle cx="384.2" cy="547.8" r="1.45"/><circle cx="368.4" cy="545.5" r="1.45"/><circle cx="377.7" cy="542.4" r="1.45"/><circle cx="369.2" cy="553.8" r="1.45"/><circle cx="359.0" cy="555.4" r="1.45"/><circle cx="373.7" cy="537.8" r="1.45"/><circle cx="379.3" cy="554.9" r="1.45"/><circle cx="365.2" cy="547.6" r="1.45"/><circle cx="356.9" cy="550.1" r="1.45"/><circle cx="363.2" cy="550.2" r="1.45"/><circle cx="346.0" cy="541.2" r="1.45"/><circle cx="362.3" cy="547.1" r="1.45"/><circle cx="357.2" cy="543.1" r="1.45"/><circle cx="391.2" cy="559.0" r="1.45"/><circle cx="362.8" cy="559.0" r="1.45"/><circle cx="352.0" cy="549.5" r="1.45"/><circle cx="378.6" cy="541.9" r="1.45"/><circle cx="367.1" cy="555.9" r="1.45"/><circle cx="369.5" cy="547.9" r="1.45"/><circle cx="371.1" cy="559.0" r="1.45"/><circle cx="371.3" cy="559.0" r="1.45"/><circle cx="364.9" cy="559.0" r="1.45"/><circle cx="379.5" cy="546.6" r="1.45"/><circle cx="374.8" cy="543.0" r="1.45"/><circle cx="363.5" cy="545.0" r="1.45"/><circle cx="367.1" cy="548.4" r="1.45"/><circle cx="358.6" cy="543.5" r="1.45"/><circle cx="372.1" cy="556.2" r="1.45"/><circle cx="377.1" cy="552.9" r="1.45"/><circle cx="376.2" cy="548.8" r="1.45"/><circle cx="375.8" cy="546.6" r="1.45"/><circle cx="367.6" cy="552.9" r="1.45"/><circle cx="386.4" cy="557.3" r="1.45"/><circle cx="366.7" cy="537.4" r="1.45"/><circle cx="369.3" cy="550.4" r="1.45"/><circle cx="365.3" cy="547.2" r="1.45"/><circle cx="369.9" cy="544.5" r="1.45"/><circle cx="366.4" cy="547.0" r="1.45"/><circle cx="391.4" cy="549.8" r="1.45"/><circle cx="373.7" cy="559.0" r="1.45"/><circle cx="350.5" cy="549.3" r="1.45"/><circle cx="364.2" cy="546.4" r="1.45"/><circle cx="353.4" cy="541.6" r="1.45"/><circle cx="378.7" cy="553.6" r="1.45"/><circle cx="384.1" cy="544.5" r="1.45"/><circle cx="364.0" cy="548.3" r="1.45"/><circle cx="375.7" cy="553.3" r="1.45"/><circle cx="366.7" cy="549.3" r="1.45"/><circle cx="373.5" cy="546.7" r="1.45"/><circle cx="388.1" cy="548.0" r="1.45"/><circle cx="365.2" cy="554.4" r="1.45"/><circle cx="355.4" cy="548.9" r="1.45"/><circle cx="376.9" cy="550.5" r="1.45"/><circle cx="374.7" cy="551.5" r="1.45"/><circle cx="376.4" cy="547.0" r="1.45"/><circle cx="380.3" cy="551.0" r="1.45"/><circle cx="361.5" cy="547.3" r="1.45"/><circle cx="347.4" cy="555.8" r="1.45"/><circle cx="380.4" cy="552.0" r="1.45"/><circle cx="364.5" cy="538.6" r="1.45"/><circle cx="355.7" cy="547.8" r="1.45"/><circle cx="356.1" cy="555.7" r="1.45"/><circle cx="381.4" cy="547.7" r="1.45"/><circle cx="371.0" cy="546.5" r="1.45"/><circle cx="372.3" cy="555.0" r="1.45"/><circle cx="378.4" cy="542.5" r="1.45"/><circle cx="361.6" cy="549.4" r="1.45"/><circle cx="356.6" cy="552.5" r="1.45"/></g><g fill="#3db54a"><circle cx="380.2" cy="540.3" r="1.45"/><circle cx="364.2" cy="555.0" r="1.45"/><circle cx="362.4" cy="539.5" r="1.45"/><circle cx="385.7" cy="548.4" r="1.45"/><circle cx="366.4" cy="537.1" r="1.45"/><circle cx="372.2" cy="547.3" r="1.45"/><circle cx="393.7" cy="558.3" r="1.45"/><circle cx="369.0" cy="536.0" r="1.45"/><circle cx="354.3" cy="531.7" r="1.45"/><circle cx="396.7" cy="548.2" r="1.45"/><circle cx="381.6" cy="540.7" r="1.45"/><circle cx="376.0" cy="538.4" r="1.45"/><circle cx="396.6" cy="543.6" r="1.45"/><circle cx="372.4" cy="542.5" r="1.45"/><circle cx="385.3" cy="549.5" r="1.45"/><circle cx="373.1" cy="543.4" r="1.45"/><circle cx="370.7" cy="536.1" r="1.45"/><circle cx="378.4" cy="532.1" r="1.45"/><circle cx="380.5" cy="527.5" r="1.45"/><circle cx="383.9" cy="532.3" r="1.45"/><circle cx="383.2" cy="548.6" r="1.45"/><circle cx="368.8" cy="529.7" r="1.45"/><circle cx="372.3" cy="540.7" r="1.45"/><circle cx="389.5" cy="549.4" r="1.45"/><circle cx="378.2" cy="544.7" r="1.45"/><circle cx="373.8" cy="551.7" r="1.45"/><circle cx="384.5" cy="545.8" r="1.45"/><circle cx="384.9" cy="551.9" r="1.45"/><circle cx="384.0" cy="536.0" r="1.45"/><circle cx="368.4" cy="534.2" r="1.45"/><circle cx="369.7" cy="554.8" r="1.45"/><circle cx="379.4" cy="542.9" r="1.45"/><circle cx="383.1" cy="541.0" r="1.45"/><circle cx="362.8" cy="536.1" r="1.45"/><circle cx="369.1" cy="552.2" r="1.45"/><circle cx="371.0" cy="543.9" r="1.45"/><circle cx="381.6" cy="544.0" r="1.45"/><circle cx="363.8" cy="535.5" r="1.45"/><circle cx="396.0" cy="540.9" r="1.45"/><circle cx="373.8" cy="537.1" r="1.45"/><circle cx="378.3" cy="539.5" r="1.45"/><circle cx="392.0" cy="542.7" r="1.45"/><circle cx="378.3" cy="536.5" r="1.45"/><circle cx="379.4" cy="534.0" r="1.45"/><circle cx="371.5" cy="546.1" r="1.45"/><circle cx="377.0" cy="532.7" r="1.45"/><circle cx="364.1" cy="550.7" r="1.45"/><circle cx="372.4" cy="551.7" r="1.45"/><circle cx="373.4" cy="529.9" r="1.45"/><circle cx="364.6" cy="552.2" r="1.45"/><circle cx="381.6" cy="534.1" r="1.45"/><circle cx="376.9" cy="550.0" r="1.45"/><circle cx="357.3" cy="536.0" r="1.45"/><circle cx="379.8" cy="545.9" r="1.45"/><circle cx="365.2" cy="532.5" r="1.45"/><circle cx="378.0" cy="545.0" r="1.45"/><circle cx="366.3" cy="540.9" r="1.45"/><circle cx="370.0" cy="552.0" r="1.45"/><circle cx="376.6" cy="545.9" r="1.45"/><circle cx="389.6" cy="533.6" r="1.45"/><circle cx="360.2" cy="542.6" r="1.45"/><circle cx="370.1" cy="535.3" r="1.45"/><circle cx="370.2" cy="541.7" r="1.45"/><circle cx="382.4" cy="551.7" r="1.45"/><circle cx="371.0" cy="552.0" r="1.45"/><circle cx="376.6" cy="541.5" r="1.45"/><circle cx="384.4" cy="534.3" r="1.45"/><circle cx="379.6" cy="540.9" r="1.45"/><circle cx="369.5" cy="555.8" r="1.45"/><circle cx="369.4" cy="539.4" r="1.45"/><circle cx="370.8" cy="529.5" r="1.45"/><circle cx="374.4" cy="530.0" r="1.45"/><circle cx="365.8" cy="531.4" r="1.45"/><circle cx="372.6" cy="548.4" r="1.45"/><circle cx="378.0" cy="537.8" r="1.45"/><circle cx="369.1" cy="534.8" r="1.45"/><circle cx="369.0" cy="542.9" r="1.45"/><circle cx="375.5" cy="547.5" r="1.45"/><circle cx="379.9" cy="539.2" r="1.45"/><circle cx="361.7" cy="534.3" r="1.45"/><circle cx="364.7" cy="541.9" r="1.45"/><circle cx="384.0" cy="546.4" r="1.45"/><circle cx="372.9" cy="528.0" r="1.45"/><circle cx="363.7" cy="529.8" r="1.45"/><circle cx="374.1" cy="555.1" r="1.45"/><circle cx="386.5" cy="543.5" r="1.45"/><circle cx="367.8" cy="543.0" r="1.45"/><circle cx="364.9" cy="529.9" r="1.45"/><circle cx="370.9" cy="532.9" r="1.45"/><circle cx="386.6" cy="538.3" r="1.45"/><circle cx="367.5" cy="549.6" r="1.45"/><circle cx="377.5" cy="540.9" r="1.45"/><circle cx="381.6" cy="528.2" r="1.45"/><circle cx="378.3" cy="551.7" r="1.45"/><circle cx="370.1" cy="552.1" r="1.45"/><circle cx="378.5" cy="546.8" r="1.45"/><circle cx="374.4" cy="532.1" r="1.45"/><circle cx="379.9" cy="535.4" r="1.45"/><circle cx="376.3" cy="538.2" r="1.45"/><circle cx="374.2" cy="541.2" r="1.45"/><circle cx="358.3" cy="553.6" r="1.45"/><circle cx="378.5" cy="530.2" r="1.45"/><circle cx="372.0" cy="534.9" r="1.45"/><circle cx="355.4" cy="540.1" r="1.45"/><circle cx="372.6" cy="535.9" r="1.45"/><circle cx="375.5" cy="536.4" r="1.45"/><circle cx="372.0" cy="529.1" r="1.45"/><circle cx="352.3" cy="540.4" r="1.45"/><circle cx="366.9" cy="537.7" r="1.45"/><circle cx="364.8" cy="541.4" r="1.45"/><circle cx="370.3" cy="547.0" r="1.45"/><circle cx="353.5" cy="538.1" r="1.45"/><circle cx="375.4" cy="539.1" r="1.45"/><circle cx="377.5" cy="542.1" r="1.45"/><circle cx="377.9" cy="536.7" r="1.45"/><circle cx="372.5" cy="541.5" r="1.45"/><circle cx="372.2" cy="527.1" r="1.45"/><circle cx="381.6" cy="533.7" r="1.45"/><circle cx="376.9" cy="543.9" r="1.45"/><circle cx="369.5" cy="541.5" r="1.45"/><circle cx="375.6" cy="546.1" r="1.45"/><circle cx="378.9" cy="530.1" r="1.45"/><circle cx="383.2" cy="536.1" r="1.45"/><circle cx="377.0" cy="539.4" r="1.45"/><circle cx="366.4" cy="539.3" r="1.45"/><circle cx="368.9" cy="538.4" r="1.45"/><circle cx="374.9" cy="550.6" r="1.45"/><circle cx="375.6" cy="536.6" r="1.45"/><circle cx="381.7" cy="537.6" r="1.45"/><circle cx="357.2" cy="543.8" r="1.45"/><circle cx="367.0" cy="543.5" r="1.45"/><circle cx="363.4" cy="541.0" r="1.45"/><circle cx="382.2" cy="552.3" r="1.45"/><circle cx="379.6" cy="544.2" r="1.45"/><circle cx="375.9" cy="538.3" r="1.45"/><circle cx="379.9" cy="532.8" r="1.45"/><circle cx="368.3" cy="549.1" r="1.45"/><circle cx="377.5" cy="535.4" r="1.45"/><circle cx="373.6" cy="542.9" r="1.45"/><circle cx="373.9" cy="536.1" r="1.45"/><circle cx="372.1" cy="555.6" r="1.45"/><circle cx="381.2" cy="545.4" r="1.45"/><circle cx="382.1" cy="526.9" r="1.45"/><circle cx="361.1" cy="542.1" r="1.45"/><circle cx="368.7" cy="529.7" r="1.45"/><circle cx="373.8" cy="535.8" r="1.45"/><circle cx="377.9" cy="545.9" r="1.45"/><circle cx="359.5" cy="530.4" r="1.45"/><circle cx="365.3" cy="542.4" r="1.45"/><circle cx="370.5" cy="539.4" r="1.45"/><circle cx="387.8" cy="545.5" r="1.45"/><circle cx="365.8" cy="532.7" r="1.45"/><circle cx="369.8" cy="544.5" r="1.45"/><circle cx="372.8" cy="537.3" r="1.45"/><circle cx="372.2" cy="547.5" r="1.45"/><circle cx="374.4" cy="540.2" r="1.45"/><circle cx="372.8" cy="544.8" r="1.45"/><circle cx="371.5" cy="549.8" r="1.45"/><circle cx="375.5" cy="548.0" r="1.45"/><circle cx="375.4" cy="539.7" r="1.45"/><circle cx="376.2" cy="545.1" r="1.45"/><circle cx="376.4" cy="539.9" r="1.45"/><circle cx="363.2" cy="543.0" r="1.45"/><circle cx="374.5" cy="551.9" r="1.45"/><circle cx="374.4" cy="533.5" r="1.45"/><circle cx="379.7" cy="531.1" r="1.45"/><circle cx="378.9" cy="543.4" r="1.45"/><circle cx="386.2" cy="535.6" r="1.45"/><circle cx="366.4" cy="549.0" r="1.45"/><circle cx="372.0" cy="546.2" r="1.45"/><circle cx="374.9" cy="544.5" r="1.45"/><circle cx="367.8" cy="539.7" r="1.45"/><circle cx="370.8" cy="536.4" r="1.45"/><circle cx="370.0" cy="533.3" r="1.45"/><circle cx="369.1" cy="535.7" r="1.45"/><circle cx="392.3" cy="539.6" r="1.45"/><circle cx="372.5" cy="532.7" r="1.45"/><circle cx="385.5" cy="547.4" r="1.45"/><circle cx="365.9" cy="544.5" r="1.45"/><circle cx="375.5" cy="530.1" r="1.45"/><circle cx="367.8" cy="519.8" r="1.45"/><circle cx="376.0" cy="548.0" r="1.45"/><circle cx="387.2" cy="530.8" r="1.45"/><circle cx="389.5" cy="518.4" r="1.45"/><circle cx="380.0" cy="527.5" r="1.45"/><circle cx="377.0" cy="541.4" r="1.45"/><circle cx="373.2" cy="549.9" r="1.45"/><circle cx="376.5" cy="546.7" r="1.45"/><circle cx="384.8" cy="550.8" r="1.45"/><circle cx="359.6" cy="553.1" r="1.45"/><circle cx="370.7" cy="553.8" r="1.45"/><circle cx="365.1" cy="532.8" r="1.45"/><circle cx="381.7" cy="538.5" r="1.45"/><circle cx="362.8" cy="535.3" r="1.45"/><circle cx="380.3" cy="540.4" r="1.45"/><circle cx="363.6" cy="537.4" r="1.45"/><circle cx="364.2" cy="542.0" r="1.45"/><circle cx="385.9" cy="553.6" r="1.45"/><circle cx="381.8" cy="534.7" r="1.45"/><circle cx="365.7" cy="545.5" r="1.45"/><circle cx="358.7" cy="532.8" r="1.45"/><circle cx="365.3" cy="530.4" r="1.45"/><circle cx="378.2" cy="547.5" r="1.45"/><circle cx="373.0" cy="539.0" r="1.45"/><circle cx="365.3" cy="540.5" r="1.45"/><circle cx="377.8" cy="550.8" r="1.45"/><circle cx="384.8" cy="530.1" r="1.45"/><circle cx="363.8" cy="540.6" r="1.45"/><circle cx="372.6" cy="550.9" r="1.45"/><circle cx="366.5" cy="532.3" r="1.45"/><circle cx="382.4" cy="541.9" r="1.45"/><circle cx="374.2" cy="546.9" r="1.45"/><circle cx="367.7" cy="546.9" r="1.45"/><circle cx="359.4" cy="545.0" r="1.45"/><circle cx="379.1" cy="547.3" r="1.45"/><circle cx="370.8" cy="543.6" r="1.45"/><circle cx="374.4" cy="545.9" r="1.45"/><circle cx="371.7" cy="542.9" r="1.45"/><circle cx="376.6" cy="533.3" r="1.45"/><circle cx="358.6" cy="540.9" r="1.45"/><circle cx="366.3" cy="539.2" r="1.45"/><circle cx="376.0" cy="548.5" r="1.45"/><circle cx="388.4" cy="543.8" r="1.45"/><circle cx="375.9" cy="543.9" r="1.45"/><circle cx="372.6" cy="541.5" r="1.45"/><circle cx="367.8" cy="545.0" r="1.45"/><circle cx="367.6" cy="536.0" r="1.45"/><circle cx="371.3" cy="542.2" r="1.45"/><circle cx="366.5" cy="535.0" r="1.45"/><circle cx="374.2" cy="537.5" r="1.45"/><circle cx="371.5" cy="510.3" r="1.45"/><circle cx="355.0" cy="513.0" r="1.45"/><circle cx="360.0" cy="521.0" r="1.45"/><circle cx="378.0" cy="520.0" r="1.45"/><circle cx="383.0" cy="537.0" r="1.45"/><circle cx="395.0" cy="541.0" r="1.45"/><circle cx="364.0" cy="526.0" r="1.45"/><circle cx="376.0" cy="527.0" r="1.45"/></g>
<line x1="333.70" y1="554.50" x2="333.70" y2="570.40" stroke="#111" stroke-width="1.0" />
<path d="M333.7,551.3 L331.5,554.16 L335.9,554.16 Z" fill="#111" />
<line x1="333.20" y1="570.40" x2="351.50" y2="570.40" stroke="#111" stroke-width="1.0" />
<path d="M354.6,570.4 L351.74,568.1999999999999 L351.74,572.6 Z" fill="#111" />
<text x="337.50" y="541.50" font-size="10" text-anchor="middle" fill="#231f20" color="#231f20" textLength="13.30" lengthAdjust="spacingAndGlyphs" transform="rotate(-90 337.50 541.50)" >DC3</text>
<text x="357.20" y="574.40" font-size="9" fill="#231f20" color="#231f20" textLength="13.00" lengthAdjust="spacingAndGlyphs" >DC1</text>
<circle cx="441.80" cy="488.50" r="1.9" fill="#c2c2c4" />
<text x="446.90" y="491.20" font-size="7.4" fill="#231f20" color="#231f20" textLength="50.30" lengthAdjust="spacingAndGlyphs" >Nestorowa KSL</text>
<circle cx="441.80" cy="497.40" r="1.9" fill="#3db54a" />
<text x="446.90" y="499.60" font-size="7.4" fill="#231f20" color="#231f20" textLength="54.90" lengthAdjust="spacingAndGlyphs" >Nesterowa HSCs</text>
<circle cx="441.80" cy="505.90" r="1.9" fill="#1c4a8c" />
<text x="446.90" y="508.30" font-size="7.4" fill="#231f20" color="#231f20" textLength="65.70" lengthAdjust="spacingAndGlyphs" >Picked HSCs (in G1)</text>
<rect x="0.5" y="0.5" width="519" height="589" fill="none" stroke="#000" stroke-width="1.05"/>
</svg>
</body></html>
